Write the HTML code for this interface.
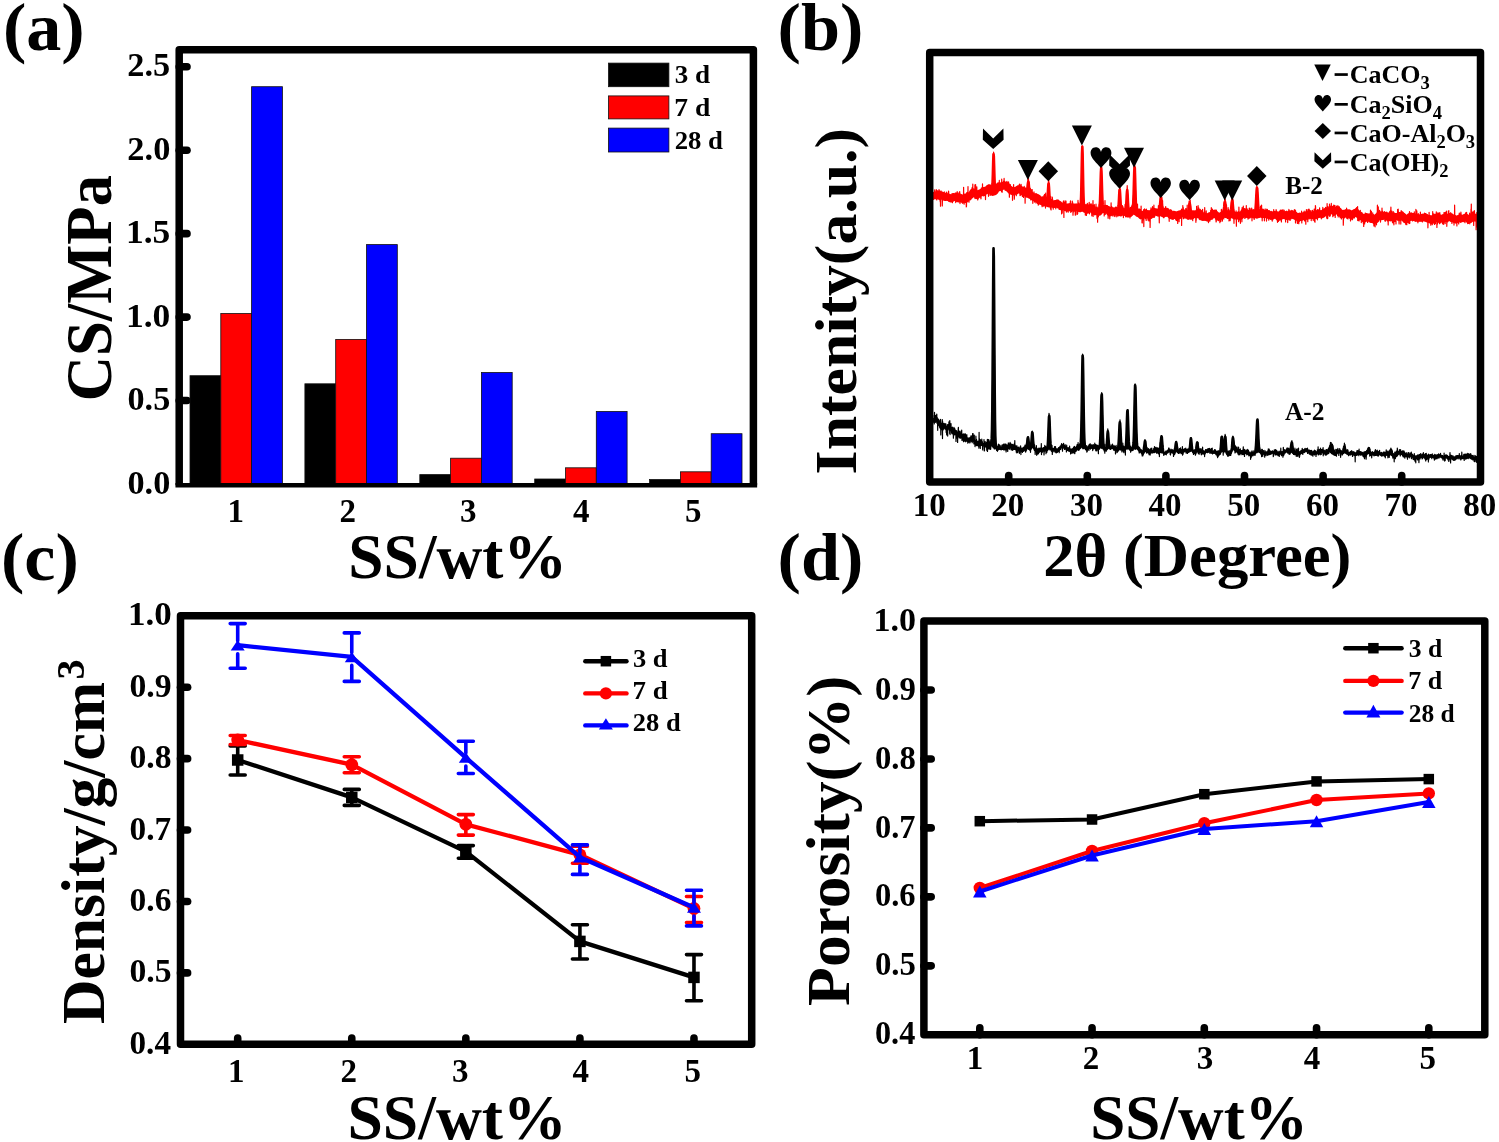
<!DOCTYPE html>
<html><head><meta charset="utf-8"><style>
html,body{margin:0;padding:0;background:#fff;}
svg{display:block;will-change:transform;}
text{font-family:'Liberation Serif', serif;font-weight:bold;}
</style></head><body>
<svg width="1499" height="1142" viewBox="0 0 1499 1142">
<rect width="1499" height="1142" fill="#fff"/>
<text x="2.92" y="49.60" font-size="67" textLength="81.76" lengthAdjust="spacingAndGlyphs" fill="#000">(a)</text>
<path d="M179.2,400.55 H187" stroke="#000" stroke-width="7.6" stroke-linecap="round"/>
<path d="M179.2,317.10 H187" stroke="#000" stroke-width="7.6" stroke-linecap="round"/>
<path d="M179.2,233.65 H187" stroke="#000" stroke-width="7.6" stroke-linecap="round"/>
<path d="M179.2,150.20 H187" stroke="#000" stroke-width="7.6" stroke-linecap="round"/>
<path d="M179.2,66.75 H187" stroke="#000" stroke-width="7.6" stroke-linecap="round"/>
<text x="127.50" y="493.60" font-size="33" textLength="42.81" lengthAdjust="spacingAndGlyphs" fill="#000">0.0</text>
<text x="127.50" y="410.15" font-size="33" textLength="42.76" lengthAdjust="spacingAndGlyphs" fill="#000">0.5</text>
<text x="125.96" y="326.70" font-size="33" textLength="44.40" lengthAdjust="spacingAndGlyphs" fill="#000">1.0</text>
<text x="125.96" y="243.25" font-size="33" textLength="44.34" lengthAdjust="spacingAndGlyphs" fill="#000">1.5</text>
<text x="127.36" y="159.80" font-size="33" textLength="42.95" lengthAdjust="spacingAndGlyphs" fill="#000">2.0</text>
<text x="127.36" y="76.35" font-size="33" textLength="42.90" lengthAdjust="spacingAndGlyphs" fill="#000">2.5</text>
<rect x="190.00" y="375.7" width="30.8" height="107.70" fill="#000" stroke="#111" stroke-width="0.8"/>
<rect x="220.80" y="313.5" width="30.8" height="169.90" fill="#f00" stroke="#111" stroke-width="0.8"/>
<rect x="251.60" y="86.7" width="30.8" height="396.70" fill="#00f" stroke="#111" stroke-width="0.8"/>
<rect x="304.90" y="383.8" width="30.8" height="99.60" fill="#000" stroke="#111" stroke-width="0.8"/>
<rect x="335.70" y="339.4" width="30.8" height="144.00" fill="#f00" stroke="#111" stroke-width="0.8"/>
<rect x="366.50" y="244.6" width="30.8" height="238.80" fill="#00f" stroke="#111" stroke-width="0.8"/>
<rect x="419.80" y="474.6" width="30.8" height="8.80" fill="#000" stroke="#111" stroke-width="0.8"/>
<rect x="450.60" y="458.2" width="30.8" height="25.20" fill="#f00" stroke="#111" stroke-width="0.8"/>
<rect x="481.40" y="372.5" width="30.8" height="110.90" fill="#00f" stroke="#111" stroke-width="0.8"/>
<rect x="534.70" y="479" width="30.8" height="4.40" fill="#000" stroke="#111" stroke-width="0.8"/>
<rect x="565.50" y="467.8" width="30.8" height="15.60" fill="#f00" stroke="#111" stroke-width="0.8"/>
<rect x="596.30" y="411.5" width="30.8" height="71.90" fill="#00f" stroke="#111" stroke-width="0.8"/>
<rect x="649.60" y="479.5" width="30.8" height="3.90" fill="#000" stroke="#111" stroke-width="0.8"/>
<rect x="680.40" y="471.8" width="30.8" height="11.60" fill="#f00" stroke="#111" stroke-width="0.8"/>
<rect x="711.20" y="433.7" width="30.8" height="49.70" fill="#00f" stroke="#111" stroke-width="0.8"/>
<path d="M179.2,485.2 V49.8 H753.4 V485.2" fill="none" stroke="#000" stroke-width="7.5" stroke-linejoin="round"/>
<path d="M175.45,485.2 H757.15" fill="none" stroke="#000" stroke-width="4.6" stroke-linejoin="round"/>
<text x="227.48" y="522.00" font-size="33" fill="#000">1</text>
<text x="339.57" y="522.00" font-size="33" fill="#000">2</text>
<text x="459.89" y="522.00" font-size="33" fill="#000">3</text>
<text x="573.03" y="522.00" font-size="33" fill="#000">4</text>
<text x="685.09" y="522.00" font-size="33" fill="#000">5</text>
<text x="348.32" y="577.60" font-size="63" textLength="218.63" lengthAdjust="spacingAndGlyphs" fill="#000">SS/wt%</text>
<text transform="translate(111.00,398.20) rotate(-90)" x="-3.06" y="0" font-size="66" textLength="226.21" lengthAdjust="spacingAndGlyphs">CS/MPa</text>
<rect x="608.5" y="63.1" width="60.4" height="23.6" fill="#000" stroke="#111" stroke-width="0.8"/>
<text x="674.78" y="83.00" font-size="24.6" textLength="35.42" lengthAdjust="spacingAndGlyphs" fill="#000">3 d</text>
<rect x="608.5" y="95.9" width="60.4" height="23.0" fill="#f00" stroke="#111" stroke-width="0.8"/>
<text x="674.23" y="116.10" font-size="24.6" textLength="35.98" lengthAdjust="spacingAndGlyphs" fill="#000">7 d</text>
<rect x="608.5" y="128.1" width="60.4" height="23.9" fill="#00f" stroke="#111" stroke-width="0.8"/>
<text x="674.68" y="148.80" font-size="24.6" textLength="48.32" lengthAdjust="spacingAndGlyphs" fill="#000">28 d</text>
<text x="777.52" y="49.60" font-size="67" textLength="85.77" lengthAdjust="spacingAndGlyphs" fill="#000">(b)</text>
<path d="M1008.70,481.9 V475.6" stroke="#000" stroke-width="7.6" stroke-linecap="round"/>
<path d="M1087.30,481.9 V475.6" stroke="#000" stroke-width="7.6" stroke-linecap="round"/>
<path d="M1165.90,481.9 V475.6" stroke="#000" stroke-width="7.6" stroke-linecap="round"/>
<path d="M1244.50,481.9 V475.6" stroke="#000" stroke-width="7.6" stroke-linecap="round"/>
<path d="M1323.10,481.9 V475.6" stroke="#000" stroke-width="7.6" stroke-linecap="round"/>
<path d="M1401.70,481.9 V475.6" stroke="#000" stroke-width="7.6" stroke-linecap="round"/>
<text x="912.71" y="516.00" font-size="33" fill="#000">10</text>
<text x="991.34" y="516.00" font-size="33" fill="#000">20</text>
<text x="1069.91" y="516.00" font-size="33" fill="#000">30</text>
<text x="1148.60" y="516.00" font-size="33" fill="#000">40</text>
<text x="1227.27" y="516.00" font-size="33" fill="#000">50</text>
<text x="1306.06" y="516.00" font-size="33" fill="#000">60</text>
<text x="1384.59" y="516.00" font-size="33" fill="#000">70</text>
<text x="1463.28" y="516.00" font-size="33" fill="#000">80</text>
<text x="1043.28" y="576.20" font-size="61" textLength="308.17" lengthAdjust="spacingAndGlyphs" fill="#000">2θ (Degree)</text>
<text transform="translate(856.40,472.30) rotate(-90)" x="-2.08" y="0" font-size="60" textLength="346.39" lengthAdjust="spacingAndGlyphs">Intenity(a.u.)</text>
<path d="M989.9,445.4 L990.0,445.3 L990.2,445.2 L990.3,445.4 L990.5,445.0 L990.6,445.2 L990.8,444.8 L990.9,444.1 L991.1,443.6 L991.2,443.5 L991.4,442.5 L991.5,441.6 L991.7,438.9 L991.8,434.9 L992.0,429.6 L992.1,421.5 L992.3,409.7 L992.4,394.4 L992.6,375.5 L992.7,353.3 L992.9,329.0 L993.0,303.6 L993.2,279.6 L993.3,260.3 L993.5,248.4 L993.6,247.1 L993.8,256.4 L993.9,273.6 L994.1,296.5 L994.2,321.8 L994.4,347.2 L994.5,370.5 L994.7,390.7 L994.8,406.8 L995.0,419.9 L995.1,429.5 L995.3,435.6 L995.4,439.8 L995.6,442.5 L995.7,444.6 L995.9,446.0 L996.0,446.4 L996.2,446.6 L996.3,447.0 L996.5,446.9 L996.6,447.4 L996.8,447.6 L996.9,447.4 L997.1,447.4 L997.2,447.7 L997.4,447.6 L997.4,448.6 L997.2,448.8 L997.1,448.6 L996.9,448.6 L996.8,449.0 L996.6,448.9 L996.5,448.6 L996.3,448.9 L996.2,448.9 L996.0,449.1 L995.9,449.4 L995.7,449.0 L995.6,448.7 L995.4,448.9 L995.3,449.0 L995.1,449.5 L995.0,449.2 L994.8,448.9 L994.7,449.4 L994.5,449.6 L994.4,449.7 L994.2,449.7 L994.1,449.7 L993.9,449.5 L993.8,449.3 L993.6,448.6 L993.5,448.1 L993.3,448.4 L993.2,448.4 L993.0,448.5 L992.9,448.4 L992.7,447.7 L992.6,447.4 L992.4,447.2 L992.3,447.2 L992.1,447.4 L992.0,447.0 L991.8,446.6 L991.7,446.8 L991.5,447.1 L991.4,446.6 L991.2,446.6 L991.1,446.1 L990.9,446.3 L990.8,446.6 L990.6,446.9 L990.5,446.5 L990.3,446.7 L990.2,446.4 L990.0,446.4 L989.9,446.5Z M1026.5,447.3 L1026.6,446.8 L1026.8,445.9 L1026.9,445.0 L1027.1,443.8 L1027.2,442.3 L1027.4,440.8 L1027.5,439.6 L1027.7,438.6 L1027.8,437.7 L1028.0,437.3 L1028.1,437.9 L1028.3,438.7 L1028.4,439.8 L1028.6,441.5 L1028.7,442.8 L1028.9,444.3 L1029.0,445.6 L1029.2,447.3 L1029.3,448.1 L1029.5,448.6 L1029.6,449.0 L1029.6,450.1 L1029.5,450.1 L1029.3,450.2 L1029.2,450.3 L1029.0,449.7 L1028.9,449.7 L1028.7,449.6 L1028.6,449.9 L1028.4,449.7 L1028.3,449.8 L1028.1,449.9 L1028.0,449.6 L1027.8,449.7 L1027.7,449.7 L1027.5,449.4 L1027.4,449.1 L1027.2,449.1 L1027.1,449.1 L1026.9,449.0 L1026.8,448.9 L1026.6,448.8 L1026.5,448.7Z M1030.7,448.1 L1030.8,447.2 L1031.0,446.4 L1031.1,445.1 L1031.3,444.0 L1031.4,442.1 L1031.6,439.8 L1031.7,437.7 L1031.9,435.3 L1032.0,433.4 L1032.2,432.4 L1032.3,432.7 L1032.5,432.9 L1032.6,434.1 L1032.8,436.2 L1032.9,438.4 L1033.1,440.5 L1033.2,442.2 L1033.4,443.7 L1033.5,445.1 L1033.7,446.5 L1033.8,447.1 L1033.8,448.3 L1033.7,448.3 L1033.5,447.9 L1033.4,447.7 L1033.2,447.8 L1033.1,448.0 L1032.9,448.0 L1032.8,448.0 L1032.6,448.0 L1032.5,448.4 L1032.3,449.0 L1032.2,448.5 L1032.0,448.5 L1031.9,448.6 L1031.7,448.9 L1031.6,448.7 L1031.4,449.0 L1031.3,449.1 L1031.1,448.7 L1031.0,448.9 L1030.8,448.9 L1030.7,449.3Z M1047.2,448.3 L1047.4,448.0 L1047.5,447.7 L1047.7,446.6 L1047.8,444.8 L1048.0,442.7 L1048.1,439.7 L1048.3,436.5 L1048.4,432.5 L1048.6,428.0 L1048.7,423.7 L1048.9,419.7 L1049.0,416.9 L1049.2,415.1 L1049.3,415.9 L1049.5,418.5 L1049.6,421.9 L1049.8,425.7 L1049.9,430.4 L1050.1,434.2 L1050.2,438.1 L1050.4,441.3 L1050.5,443.9 L1050.7,446.0 L1050.8,447.4 L1051.0,447.9 L1051.1,448.4 L1051.1,449.7 L1051.0,450.0 L1050.8,450.4 L1050.7,450.4 L1050.5,450.3 L1050.4,450.3 L1050.2,450.4 L1050.1,450.3 L1049.9,450.7 L1049.8,450.3 L1049.6,450.6 L1049.5,450.5 L1049.3,450.0 L1049.2,449.4 L1049.0,449.7 L1048.9,449.7 L1048.7,449.8 L1048.6,449.8 L1048.4,450.0 L1048.3,450.0 L1048.1,449.7 L1048.0,449.9 L1047.8,449.9 L1047.7,450.0 L1047.5,450.0 L1047.4,449.5 L1047.2,449.4Z M1079.9,447.5 L1080.1,447.0 L1080.2,446.3 L1080.4,446.0 L1080.5,445.3 L1080.7,444.2 L1080.8,442.4 L1081.0,440.2 L1081.1,436.8 L1081.3,432.3 L1081.4,426.4 L1081.6,419.2 L1081.7,409.9 L1081.9,399.8 L1082.0,388.5 L1082.2,377.5 L1082.3,367.9 L1082.5,360.1 L1082.6,355.7 L1082.8,354.7 L1082.9,358.2 L1083.1,365.4 L1083.2,375.1 L1083.4,386.0 L1083.5,396.8 L1083.7,407.5 L1083.8,416.8 L1084.0,425.0 L1084.1,431.5 L1084.3,437.0 L1084.4,440.6 L1084.6,442.9 L1084.7,444.3 L1084.9,445.3 L1085.0,446.8 L1085.2,447.4 L1085.3,447.7 L1085.5,447.9 L1085.5,449.1 L1085.3,449.0 L1085.2,449.0 L1085.0,448.9 L1084.9,448.2 L1084.7,448.4 L1084.6,448.8 L1084.4,449.1 L1084.3,449.2 L1084.1,448.8 L1084.0,448.9 L1083.8,448.9 L1083.7,449.1 L1083.5,449.1 L1083.4,449.5 L1083.2,449.5 L1083.1,449.4 L1082.9,449.3 L1082.8,449.3 L1082.6,449.6 L1082.5,449.2 L1082.3,448.9 L1082.2,448.4 L1082.0,448.2 L1081.9,448.5 L1081.7,448.2 L1081.6,448.3 L1081.4,447.9 L1081.3,447.8 L1081.1,447.6 L1081.0,447.7 L1080.8,447.6 L1080.7,447.8 L1080.5,447.9 L1080.4,447.9 L1080.2,447.8 L1080.1,448.3 L1079.9,448.5Z M1099.4,446.8 L1099.6,446.5 L1099.7,446.3 L1099.9,445.3 L1100.0,443.6 L1100.2,441.2 L1100.3,438.2 L1100.5,434.6 L1100.6,429.9 L1100.8,424.5 L1100.9,418.8 L1101.1,412.2 L1101.2,405.9 L1101.4,400.2 L1101.5,396.3 L1101.7,393.8 L1101.8,394.4 L1102.0,397.3 L1102.1,401.7 L1102.3,408.0 L1102.4,414.7 L1102.6,421.4 L1102.7,427.3 L1102.9,432.7 L1103.0,437.0 L1103.2,440.1 L1103.3,442.8 L1103.5,444.9 L1103.6,446.3 L1103.8,447.2 L1103.9,448.0 L1104.1,448.7 L1104.1,450.0 L1103.9,449.6 L1103.8,449.4 L1103.6,449.4 L1103.5,449.3 L1103.3,449.2 L1103.2,449.1 L1103.0,449.5 L1102.9,449.6 L1102.7,449.5 L1102.6,449.6 L1102.4,449.3 L1102.3,449.0 L1102.1,448.6 L1102.0,448.9 L1101.8,448.7 L1101.7,448.5 L1101.5,449.0 L1101.4,448.8 L1101.2,449.0 L1101.1,448.9 L1100.9,449.1 L1100.8,448.6 L1100.6,448.5 L1100.5,448.4 L1100.3,448.2 L1100.2,448.3 L1100.0,448.6 L1099.9,448.7 L1099.7,448.7 L1099.6,448.2 L1099.4,448.1Z M1106.2,449.0 L1106.3,448.8 L1106.5,447.8 L1106.6,446.9 L1106.8,445.3 L1106.9,443.3 L1107.1,441.0 L1107.2,438.7 L1107.4,436.4 L1107.5,433.8 L1107.7,432.4 L1107.8,431.4 L1108.0,431.7 L1108.1,433.2 L1108.3,435.2 L1108.4,437.8 L1108.6,439.8 L1108.7,441.7 L1108.9,443.4 L1109.0,444.8 L1109.2,446.6 L1109.3,447.1 L1109.5,447.5 L1109.5,448.6 L1109.3,448.7 L1109.2,449.0 L1109.0,448.3 L1108.9,448.4 L1108.7,448.6 L1108.6,448.9 L1108.4,449.3 L1108.3,449.1 L1108.1,449.2 L1108.0,449.2 L1107.8,449.5 L1107.7,450.0 L1107.5,449.9 L1107.4,450.4 L1107.2,450.2 L1107.1,450.2 L1106.9,450.2 L1106.8,450.4 L1106.6,450.5 L1106.5,450.3 L1106.3,450.6 L1106.2,450.3Z M1117.9,449.7 L1118.0,449.5 L1118.2,449.0 L1118.3,447.2 L1118.5,445.6 L1118.6,444.1 L1118.8,441.3 L1118.9,438.5 L1119.1,435.5 L1119.2,432.3 L1119.4,428.8 L1119.5,425.8 L1119.7,423.4 L1119.8,422.3 L1120.0,422.3 L1120.1,423.2 L1120.3,425.4 L1120.4,428.1 L1120.6,431.5 L1120.7,434.7 L1120.9,437.7 L1121.0,440.5 L1121.2,443.2 L1121.3,445.2 L1121.5,446.6 L1121.6,447.6 L1121.8,447.9 L1121.9,448.5 L1122.1,449.1 L1122.1,450.1 L1121.9,449.9 L1121.8,449.8 L1121.6,450.2 L1121.5,450.4 L1121.3,450.5 L1121.2,450.5 L1121.0,450.2 L1120.9,450.3 L1120.7,450.6 L1120.6,450.7 L1120.4,450.6 L1120.3,450.7 L1120.1,450.6 L1120.0,450.8 L1119.8,450.6 L1119.7,450.3 L1119.5,450.3 L1119.4,450.2 L1119.2,450.3 L1119.1,450.2 L1118.9,450.1 L1118.8,450.2 L1118.6,450.6 L1118.5,450.3 L1118.3,450.6 L1118.2,451.3 L1118.0,451.1 L1117.9,450.8Z M1125.4,448.2 L1125.5,448.0 L1125.7,447.9 L1125.8,447.2 L1126.0,446.2 L1126.1,443.8 L1126.3,440.9 L1126.4,437.9 L1126.6,433.7 L1126.7,429.4 L1126.9,424.2 L1127.0,418.8 L1127.2,414.2 L1127.3,411.1 L1127.5,409.8 L1127.6,410.3 L1127.8,413.1 L1127.9,416.7 L1128.1,421.1 L1128.2,425.9 L1128.4,430.7 L1128.5,434.7 L1128.7,438.7 L1128.8,441.4 L1129.0,443.6 L1129.1,445.6 L1129.3,447.0 L1129.4,448.0 L1129.6,448.4 L1129.7,448.9 L1129.7,449.9 L1129.6,449.7 L1129.4,449.8 L1129.3,449.5 L1129.1,449.3 L1129.0,448.9 L1128.8,448.9 L1128.7,449.3 L1128.5,449.1 L1128.4,449.5 L1128.2,449.6 L1128.1,449.8 L1127.9,450.1 L1127.8,450.4 L1127.6,449.8 L1127.5,449.7 L1127.3,449.3 L1127.2,449.1 L1127.0,449.2 L1126.9,449.6 L1126.7,449.7 L1126.6,449.4 L1126.4,449.6 L1126.3,449.4 L1126.1,449.7 L1126.0,450.2 L1125.8,450.0 L1125.7,449.8 L1125.5,449.4 L1125.4,449.3Z M1132.7,448.0 L1132.9,447.6 L1133.0,447.3 L1133.2,446.5 L1133.3,445.5 L1133.5,444.4 L1133.6,442.2 L1133.8,439.0 L1133.9,435.0 L1134.1,429.8 L1134.2,423.5 L1134.4,416.5 L1134.5,408.8 L1134.7,401.0 L1134.8,394.0 L1135.0,388.4 L1135.1,385.3 L1135.3,385.3 L1135.4,387.5 L1135.6,392.6 L1135.7,399.1 L1135.9,406.5 L1136.0,414.2 L1136.2,421.3 L1136.3,427.5 L1136.5,432.8 L1136.6,437.1 L1136.8,440.7 L1136.9,443.2 L1137.1,445.0 L1137.2,446.3 L1137.4,446.9 L1137.5,447.9 L1137.7,448.4 L1137.7,449.6 L1137.5,449.4 L1137.4,448.9 L1137.2,449.1 L1137.1,449.1 L1136.9,449.1 L1136.8,449.1 L1136.6,448.9 L1136.5,449.2 L1136.3,449.4 L1136.2,449.8 L1136.0,450.0 L1135.9,450.0 L1135.7,450.0 L1135.6,450.0 L1135.4,449.8 L1135.3,450.0 L1135.1,449.5 L1135.0,449.3 L1134.8,449.4 L1134.7,449.5 L1134.5,449.6 L1134.4,449.8 L1134.2,449.7 L1134.1,449.8 L1133.9,449.8 L1133.8,449.7 L1133.6,449.7 L1133.5,449.6 L1133.3,449.2 L1133.2,449.0 L1133.0,449.2 L1132.9,449.0 L1132.7,449.2Z M1143.5,452.1 L1143.7,452.0 L1143.8,450.6 L1144.0,449.3 L1144.1,448.0 L1144.3,446.7 L1144.4,445.3 L1144.6,443.7 L1144.7,442.6 L1144.9,441.3 L1145.0,440.9 L1145.2,440.8 L1145.3,441.6 L1145.5,442.9 L1145.6,444.7 L1145.8,446.0 L1145.9,447.3 L1146.1,448.9 L1146.2,449.7 L1146.4,450.7 L1146.5,451.0 L1146.5,452.1 L1146.4,452.2 L1146.2,452.0 L1146.1,452.2 L1145.9,451.8 L1145.8,452.0 L1145.6,452.3 L1145.5,452.0 L1145.3,452.1 L1145.2,452.3 L1145.0,452.8 L1144.9,452.8 L1144.7,453.1 L1144.6,452.8 L1144.4,452.9 L1144.3,452.7 L1144.1,452.5 L1144.0,452.6 L1143.8,453.0 L1143.7,453.6 L1143.5,453.2Z M1159.7,451.6 L1159.9,451.4 L1160.0,450.6 L1160.2,449.4 L1160.3,448.2 L1160.5,446.5 L1160.6,444.6 L1160.8,442.6 L1160.9,441.0 L1161.1,439.6 L1161.2,438.1 L1161.4,436.7 L1161.5,436.3 L1161.7,436.2 L1161.8,437.2 L1162.0,438.9 L1162.1,440.8 L1162.3,442.6 L1162.4,444.5 L1162.6,446.4 L1162.7,447.9 L1162.9,449.6 L1163.0,450.4 L1163.2,451.3 L1163.3,452.2 L1163.3,453.4 L1163.2,453.0 L1163.0,452.9 L1162.9,453.1 L1162.7,452.8 L1162.6,452.8 L1162.4,452.7 L1162.3,452.8 L1162.1,453.0 L1162.0,453.1 L1161.8,453.0 L1161.7,453.1 L1161.5,453.5 L1161.4,453.5 L1161.2,453.9 L1161.1,453.7 L1160.9,453.3 L1160.8,452.8 L1160.6,452.8 L1160.5,452.9 L1160.3,453.0 L1160.2,452.9 L1160.0,453.2 L1159.9,453.2 L1159.7,452.8Z M1174.9,451.4 L1175.0,450.6 L1175.2,449.7 L1175.3,448.3 L1175.5,446.9 L1175.6,445.3 L1175.8,444.1 L1175.9,443.1 L1176.1,442.1 L1176.2,442.2 L1176.4,442.6 L1176.5,443.5 L1176.7,444.7 L1176.8,445.8 L1177.0,447.1 L1177.1,448.5 L1177.3,449.4 L1177.4,450.3 L1177.6,450.6 L1177.6,451.8 L1177.4,452.1 L1177.3,452.0 L1177.1,452.2 L1177.0,451.9 L1176.8,451.9 L1176.7,452.0 L1176.5,452.0 L1176.4,451.9 L1176.2,451.7 L1176.1,451.4 L1175.9,451.6 L1175.8,451.5 L1175.6,451.4 L1175.5,451.7 L1175.3,451.9 L1175.2,452.3 L1175.0,452.5 L1174.9,452.6Z M1189.4,450.4 L1189.6,449.8 L1189.7,449.2 L1189.9,448.1 L1190.0,446.6 L1190.2,445.2 L1190.3,443.7 L1190.5,441.6 L1190.6,440.0 L1190.8,439.1 L1190.9,438.2 L1191.1,438.8 L1191.2,439.8 L1191.4,441.3 L1191.5,443.0 L1191.7,444.7 L1191.8,446.5 L1192.0,447.9 L1192.1,449.2 L1192.3,449.8 L1192.4,450.3 L1192.4,451.5 L1192.3,451.6 L1192.1,451.8 L1192.0,451.5 L1191.8,451.6 L1191.7,451.4 L1191.5,451.5 L1191.4,451.6 L1191.2,451.7 L1191.1,451.7 L1190.9,451.6 L1190.8,452.0 L1190.6,451.9 L1190.5,451.9 L1190.3,452.2 L1190.2,451.9 L1190.0,451.7 L1189.9,451.7 L1189.7,451.7 L1189.6,451.5 L1189.4,451.5Z M1195.9,451.1 L1196.0,450.5 L1196.2,449.8 L1196.3,448.7 L1196.5,447.5 L1196.6,446.3 L1196.8,444.8 L1196.9,443.8 L1197.1,442.7 L1197.2,442.5 L1197.4,443.0 L1197.5,443.9 L1197.7,445.0 L1197.8,446.1 L1198.0,447.2 L1198.1,448.2 L1198.3,448.9 L1198.4,450.1 L1198.6,450.8 L1198.6,452.1 L1198.4,452.0 L1198.3,451.7 L1198.1,452.0 L1198.0,452.2 L1197.8,452.5 L1197.7,452.7 L1197.5,452.8 L1197.4,452.7 L1197.2,452.5 L1197.1,452.3 L1196.9,452.7 L1196.8,452.5 L1196.6,452.7 L1196.5,452.5 L1196.3,452.5 L1196.2,452.6 L1196.0,452.4 L1195.9,452.4Z M1220.2,452.1 L1220.3,451.5 L1220.5,450.9 L1220.6,449.9 L1220.8,448.1 L1220.9,446.4 L1221.1,443.7 L1221.2,442.0 L1221.4,439.7 L1221.5,437.6 L1221.7,436.8 L1221.8,436.8 L1222.0,437.4 L1222.1,438.9 L1222.3,441.1 L1222.4,443.4 L1222.6,445.4 L1222.7,447.1 L1222.9,448.6 L1223.0,449.8 L1223.2,450.7 L1223.3,450.8 L1223.5,450.7 L1223.6,450.6 L1223.8,450.5 L1223.9,449.7 L1224.1,448.7 L1224.2,447.2 L1224.4,445.3 L1224.5,443.5 L1224.7,441.4 L1224.8,439.4 L1225.0,437.9 L1225.1,436.9 L1225.3,436.7 L1225.4,437.0 L1225.6,438.6 L1225.7,440.8 L1225.9,443.1 L1226.0,446.0 L1226.2,447.7 L1226.3,449.5 L1226.5,451.4 L1226.6,452.6 L1226.8,452.8 L1226.8,454.0 L1226.6,454.4 L1226.5,454.1 L1226.3,453.4 L1226.2,453.1 L1226.0,453.2 L1225.9,452.4 L1225.7,452.3 L1225.6,452.0 L1225.4,451.9 L1225.3,452.4 L1225.1,452.4 L1225.0,452.4 L1224.8,452.2 L1224.7,452.2 L1224.5,452.1 L1224.4,452.0 L1224.2,452.1 L1224.1,452.2 L1223.9,452.2 L1223.8,452.3 L1223.6,452.0 L1223.5,451.9 L1223.3,452.2 L1223.2,452.5 L1223.0,452.4 L1222.9,452.2 L1222.7,452.1 L1222.6,452.0 L1222.4,452.0 L1222.3,451.9 L1222.1,451.7 L1222.0,451.8 L1221.8,452.3 L1221.7,452.4 L1221.5,452.4 L1221.4,453.1 L1221.2,453.4 L1221.1,453.0 L1220.9,453.6 L1220.8,453.5 L1220.6,453.7 L1220.5,453.5 L1220.3,453.3 L1220.2,453.3Z M1231.4,451.0 L1231.6,450.4 L1231.7,449.9 L1231.9,449.0 L1232.0,447.4 L1232.2,445.6 L1232.3,443.2 L1232.5,441.5 L1232.6,439.5 L1232.8,438.2 L1232.9,437.6 L1233.1,437.8 L1233.2,438.8 L1233.4,440.1 L1233.5,441.5 L1233.7,443.1 L1233.8,444.4 L1234.0,445.9 L1234.1,447.7 L1234.3,448.5 L1234.4,449.4 L1234.4,450.5 L1234.3,450.2 L1234.1,450.1 L1234.0,449.3 L1233.8,449.2 L1233.7,449.4 L1233.5,449.6 L1233.4,449.9 L1233.2,450.1 L1233.1,450.1 L1232.9,450.3 L1232.8,450.5 L1232.6,450.8 L1232.5,451.3 L1232.3,451.3 L1232.2,452.0 L1232.0,452.3 L1231.9,452.5 L1231.7,452.4 L1231.6,452.0 L1231.4,452.1Z M1255.1,452.5 L1255.3,452.0 L1255.4,451.7 L1255.6,450.7 L1255.7,449.0 L1255.9,448.0 L1256.0,445.7 L1256.2,442.9 L1256.3,440.4 L1256.5,437.2 L1256.6,433.5 L1256.8,429.6 L1256.9,426.3 L1257.1,422.8 L1257.2,420.7 L1257.4,419.6 L1257.5,419.6 L1257.7,420.9 L1257.8,423.2 L1258.0,426.9 L1258.1,430.1 L1258.3,434.3 L1258.4,438.1 L1258.6,440.9 L1258.7,443.4 L1258.9,445.4 L1259.0,447.3 L1259.2,448.5 L1259.3,448.9 L1259.5,449.7 L1259.6,450.0 L1259.6,451.3 L1259.5,451.4 L1259.3,451.4 L1259.2,452.0 L1259.0,452.2 L1258.9,452.2 L1258.7,452.5 L1258.6,452.8 L1258.4,453.2 L1258.3,453.0 L1258.1,452.6 L1258.0,453.0 L1257.8,452.6 L1257.7,452.8 L1257.5,453.1 L1257.4,453.3 L1257.2,453.3 L1257.1,453.2 L1256.9,453.5 L1256.8,453.3 L1256.6,453.4 L1256.5,453.5 L1256.3,453.3 L1256.2,452.9 L1256.0,453.2 L1255.9,453.5 L1255.7,452.9 L1255.6,453.5 L1255.4,453.6 L1255.3,453.4 L1255.1,453.6Z M1290.2,451.3 L1290.4,451.0 L1290.5,450.3 L1290.7,449.5 L1290.8,448.5 L1291.0,447.5 L1291.1,446.1 L1291.3,445.3 L1291.4,444.3 L1291.6,443.3 L1291.7,442.9 L1291.9,442.3 L1292.0,442.8 L1292.2,444.0 L1292.3,445.3 L1292.5,446.5 L1292.6,448.0 L1292.8,449.5 L1292.9,450.5 L1293.1,451.2 L1293.2,451.9 L1293.4,452.3 L1293.4,453.6 L1293.2,453.8 L1293.1,453.8 L1292.9,454.0 L1292.8,454.1 L1292.6,453.8 L1292.5,453.5 L1292.3,453.5 L1292.2,453.2 L1292.0,452.8 L1291.9,452.7 L1291.7,453.2 L1291.6,453.2 L1291.4,453.2 L1291.3,453.1 L1291.1,452.7 L1291.0,452.9 L1290.8,452.7 L1290.7,452.8 L1290.5,452.7 L1290.4,452.7 L1290.2,452.5Z M1328.3,450.5 L1328.5,450.8 L1328.6,450.8 L1328.8,450.6 L1328.9,450.4 L1329.1,450.0 L1329.2,449.6 L1329.4,449.0 L1329.5,448.4 L1329.7,448.1 L1329.8,447.6 L1330.0,447.1 L1330.1,447.1 L1330.3,446.6 L1330.4,445.9 L1330.6,445.5 L1330.7,445.6 L1330.9,445.4 L1331.0,445.1 L1331.2,444.9 L1331.3,445.0 L1331.5,445.0 L1331.6,445.0 L1331.8,445.1 L1331.9,445.4 L1332.1,445.7 L1332.2,445.8 L1332.4,446.5 L1332.5,447.5 L1332.7,448.0 L1332.8,448.8 L1333.0,449.3 L1333.1,449.7 L1333.3,450.3 L1333.4,450.4 L1333.6,451.0 L1333.7,451.3 L1333.9,451.8 L1334.0,452.4 L1334.2,452.5 L1334.3,452.9 L1334.5,453.4 L1334.6,453.1 L1334.8,453.4 L1334.8,454.4 L1334.6,454.3 L1334.5,454.9 L1334.3,454.6 L1334.2,454.5 L1334.0,454.8 L1333.9,454.6 L1333.7,454.4 L1333.6,454.6 L1333.4,454.5 L1333.3,454.9 L1333.1,454.8 L1333.0,454.9 L1332.8,455.0 L1332.7,454.8 L1332.5,454.8 L1332.4,454.3 L1332.2,454.1 L1332.1,454.3 L1331.9,454.3 L1331.8,454.3 L1331.6,454.3 L1331.5,454.3 L1331.3,454.2 L1331.2,453.9 L1331.0,453.8 L1330.9,453.7 L1330.7,453.5 L1330.6,453.0 L1330.4,452.9 L1330.3,453.0 L1330.1,452.9 L1330.0,452.4 L1329.8,452.4 L1329.7,452.4 L1329.5,452.2 L1329.4,452.3 L1329.2,452.5 L1329.1,452.4 L1328.9,452.5 L1328.8,452.4 L1328.6,452.3 L1328.5,452.1 L1328.3,451.5Z M1342.9,452.6 L1343.0,452.3 L1343.2,451.8 L1343.3,451.0 L1343.5,450.1 L1343.6,449.2 L1343.8,448.9 L1343.9,448.1 L1344.1,447.3 L1344.2,446.7 L1344.4,446.4 L1344.5,446.6 L1344.7,447.0 L1344.8,447.8 L1345.0,448.2 L1345.1,449.4 L1345.3,449.8 L1345.4,450.3 L1345.6,451.3 L1345.7,451.9 L1345.7,453.2 L1345.6,453.2 L1345.4,452.8 L1345.3,453.0 L1345.1,453.3 L1345.0,453.0 L1344.8,453.4 L1344.7,453.3 L1344.5,453.5 L1344.4,453.5 L1344.2,453.7 L1344.1,454.0 L1343.9,454.2 L1343.8,454.2 L1343.6,453.7 L1343.5,453.8 L1343.3,453.9 L1343.2,454.0 L1343.0,453.9 L1342.9,453.8Z M1367.5,452.7 L1367.6,451.9 L1367.8,451.3 L1367.9,450.8 L1368.1,450.2 L1368.2,449.8 L1368.4,449.2 L1368.5,448.6 L1368.7,448.0 L1368.8,448.1 L1369.0,448.2 L1369.1,448.8 L1369.3,448.9 L1369.4,449.4 L1369.6,450.4 L1369.7,451.1 L1369.9,451.8 L1370.0,452.3 L1370.2,452.4 L1370.2,453.7 L1370.0,454.0 L1369.9,454.1 L1369.7,454.1 L1369.6,454.0 L1369.4,453.8 L1369.3,454.0 L1369.1,454.5 L1369.0,454.3 L1368.8,454.3 L1368.7,454.0 L1368.5,454.3 L1368.4,454.3 L1368.2,454.2 L1368.1,453.9 L1367.9,453.8 L1367.8,453.7 L1367.6,453.6 L1367.5,454.0Z M1389.7,454.0 L1389.8,453.4 L1390.0,453.4 L1390.1,452.6 L1390.3,452.1 L1390.4,451.2 L1390.6,450.5 L1390.7,450.3 L1390.9,449.9 L1391.0,449.8 L1391.2,450.3 L1391.3,450.5 L1391.5,451.5 L1391.6,451.9 L1391.8,452.4 L1391.9,453.0 L1392.1,453.8 L1392.2,454.1 L1392.4,454.6 L1392.4,455.8 L1392.2,455.8 L1392.1,455.9 L1391.9,455.8 L1391.8,455.8 L1391.6,456.0 L1391.5,456.2 L1391.3,455.8 L1391.2,455.9 L1391.0,455.6 L1390.9,455.6 L1390.7,455.5 L1390.6,455.2 L1390.4,455.3 L1390.3,455.6 L1390.1,455.4 L1390.0,455.5 L1389.8,455.0 L1389.7,455.2Z " fill="#000"/>
<path d="M933.5,419.6 L933.8,419.4 L934.1,419.7 L934.4,420.0 L934.7,420.1 L935.0,420.0 L935.3,419.7 L935.6,419.8 L935.9,420.0 L936.2,420.3 L936.5,420.8 L936.8,420.6 L937.1,421.1 L937.4,421.1 L937.7,421.2 L938.0,421.8 L938.3,422.2 L938.6,422.8 L938.9,423.1 L939.2,423.3 L939.5,423.3 L939.8,423.6 L940.1,423.9 L940.4,424.2 L940.7,424.5 L941.0,424.1 L941.3,424.8 L941.6,425.0 L941.9,425.3 L942.2,425.6 L942.5,426.0 L942.8,426.2 L943.1,426.9 L943.4,426.7 L943.7,426.8 L944.0,426.1 L944.3,426.4 L944.6,426.0 L944.9,426.3 L945.2,426.8 L945.5,427.1 L945.8,427.0 L946.1,428.1 L946.4,428.2 L946.7,428.2 L947.0,427.9 L947.3,428.0 L947.6,427.5 L947.9,427.2 L948.2,426.9 L948.5,427.3 L948.8,427.5 L949.1,427.9 L949.4,428.1 L949.7,428.5 L950.0,428.2 L950.3,428.0 L950.6,428.3 L950.9,428.5 L951.2,428.5 L951.5,428.6 L951.8,429.3 L952.1,429.6 L952.4,429.8 L952.7,430.3 L953.0,430.9 L953.3,430.9 L953.6,431.3 L953.9,431.2 L954.2,431.6 L954.5,431.4 L954.8,431.5 L955.1,432.2 L955.4,432.1 L955.7,432.3 L956.0,432.4 L956.3,433.0 L956.6,433.4 L956.9,432.9 L957.2,433.4 L957.5,433.4 L957.8,433.1 L958.1,432.9 L958.4,433.3 L958.7,433.6 L959.0,433.5 L959.3,434.0 L959.6,434.4 L959.9,434.4 L960.2,434.8 L960.5,435.0 L960.8,435.2 L961.1,434.8 L961.4,434.6 L961.7,434.6 L962.0,435.0 L962.3,435.1 L962.6,435.4 L962.9,435.9 L963.2,436.5 L963.5,436.4 L963.8,436.5 L964.1,436.6 L964.4,436.7 L964.7,436.7 L965.0,436.9 L965.3,436.8 L965.6,436.8 L965.9,437.7 L966.2,438.1 L966.5,438.5 L966.8,438.3 L967.1,438.7 L967.4,438.8 L967.7,439.7 L968.0,439.5 L968.3,439.5 L968.6,439.5 L968.9,440.4 L969.2,440.3 L969.5,439.8 L969.8,439.9 L970.1,439.8 L970.4,439.8 L970.7,439.6 L971.0,439.5 L971.3,439.1 L971.6,439.5 L971.9,439.7 L972.2,439.9 L972.5,440.2 L972.8,440.0 L973.1,440.1 L973.4,439.8 L973.7,439.9 L974.0,440.4 L974.3,440.6 L974.6,440.9 L974.9,441.4 L975.2,441.8 L975.5,442.3 L975.8,442.9 L976.1,442.7 L976.4,442.9 L976.7,442.9 L977.0,442.7 L977.3,442.6 L977.6,442.0 L977.9,442.3 L978.2,442.5 L978.5,443.0 L978.8,443.0 L979.1,442.7 L979.4,442.9 L979.7,443.3 L980.0,443.6 L980.3,443.3 L980.6,442.8 L980.9,443.0 L981.2,442.5 L981.5,442.7 L981.8,443.2 L982.1,443.8 L982.4,443.9 L982.7,444.0 L983.0,444.7 L983.3,444.9 L983.6,444.7 L983.9,444.5 L984.2,444.6 L984.5,444.6 L984.8,444.4 L985.1,444.1 L985.4,444.4 L985.7,444.9 L986.0,445.8 L986.3,446.3 L986.6,446.0 L986.9,445.8 L987.2,445.3 L987.5,445.7 L987.8,445.3 L988.1,444.5 L988.4,444.5 L988.7,445.1 L989.0,444.6 L989.3,444.7 L989.6,445.1 L989.9,445.4 L990.2,445.2 L990.5,445.0 L990.8,444.8 L991.1,443.6 L991.4,442.5 L991.7,438.9 L992.0,429.6 L992.3,409.7 L992.6,375.5 L992.9,329.0 L993.2,279.6 L993.5,248.4 L993.8,256.4 L994.1,296.5 L994.4,347.2 L994.7,390.7 L995.0,419.9 L995.3,435.6 L995.6,442.5 L995.9,446.0 L996.2,446.6 L996.5,446.9 L996.8,447.6 L997.1,447.4 L997.4,447.6 L997.7,447.5 L998.0,447.8 L998.3,448.1 L998.6,447.9 L998.9,447.5 L999.2,447.4 L999.5,447.2 L999.8,447.9 L1000.1,448.0 L1000.4,448.2 L1000.7,447.8 L1001.0,447.8 L1001.3,447.8 L1001.6,448.0 L1001.9,448.1 L1002.2,448.1 L1002.5,448.2 L1002.8,448.1 L1003.1,448.4 L1003.4,448.4 L1003.7,448.1 L1004.0,448.3 L1004.3,448.8 L1004.6,448.4 L1004.9,447.9 L1005.2,448.0 L1005.5,448.2 L1005.8,448.2 L1006.1,448.3 L1006.4,448.2 L1006.7,448.1 L1007.0,447.6 L1007.3,447.6 L1007.6,447.5 L1007.9,447.0 L1008.2,447.0 L1008.5,447.1 L1008.8,446.6 L1009.1,446.7 L1009.4,447.3 L1009.7,447.4 L1010.0,446.9 L1010.3,447.0 L1010.6,446.9 L1010.9,446.8 L1011.2,447.1 L1011.5,446.7 L1011.8,446.7 L1012.1,447.7 L1012.4,447.9 L1012.7,448.0 L1013.0,448.3 L1013.3,448.0 L1013.6,448.0 L1013.9,448.1 L1014.2,447.7 L1014.5,447.6 L1014.8,448.0 L1015.1,448.7 L1015.4,448.2 L1015.7,448.5 L1016.0,448.4 L1016.3,448.4 L1016.6,449.1 L1016.9,448.7 L1017.2,448.9 L1017.5,448.9 L1017.8,448.8 L1018.1,448.8 L1018.4,449.1 L1018.7,449.1 L1019.0,449.5 L1019.3,449.5 L1019.6,449.6 L1019.9,449.1 L1020.2,449.5 L1020.5,449.4 L1020.8,449.8 L1021.1,450.1 L1021.4,449.5 L1021.7,449.6 L1022.0,449.6 L1022.3,449.7 L1022.6,449.5 L1022.9,449.5 L1023.2,449.6 L1023.5,449.7 L1023.8,449.4 L1024.1,449.2 L1024.4,448.5 L1024.7,448.5 L1025.0,448.6 L1025.3,448.9 L1025.6,449.1 L1025.9,448.6 L1026.2,448.3 L1026.5,447.3 L1026.8,445.9 L1027.1,443.8 L1027.4,440.8 L1027.7,438.6 L1028.0,437.3 L1028.3,438.7 L1028.6,441.5 L1028.9,444.3 L1029.2,447.3 L1029.5,448.6 L1029.8,449.3 L1030.1,449.3 L1030.4,448.9 L1030.7,448.1 L1031.0,446.4 L1031.3,444.0 L1031.6,439.8 L1031.9,435.3 L1032.2,432.4 L1032.5,432.9 L1032.8,436.2 L1033.1,440.5 L1033.4,443.7 L1033.7,446.5 L1034.0,447.8 L1034.3,448.0 L1034.6,448.4 L1034.9,448.7 L1035.2,448.9 L1035.5,449.4 L1035.8,449.6 L1036.1,450.2 L1036.4,450.2 L1036.7,450.4 L1037.0,450.2 L1037.3,449.8 L1037.6,450.5 L1037.9,450.8 L1038.2,451.0 L1038.5,451.4 L1038.8,451.4 L1039.1,451.4 L1039.4,451.4 L1039.7,450.6 L1040.0,450.7 L1040.3,450.5 L1040.6,450.3 L1040.9,449.5 L1041.2,449.2 L1041.5,449.2 L1041.8,449.9 L1042.1,450.2 L1042.4,449.7 L1042.7,449.6 L1043.0,449.4 L1043.3,448.9 L1043.6,448.7 L1043.9,448.6 L1044.2,449.2 L1044.5,448.9 L1044.8,448.4 L1045.1,448.7 L1045.4,448.8 L1045.7,448.8 L1046.0,449.2 L1046.3,449.2 L1046.6,449.5 L1046.9,449.0 L1047.2,448.3 L1047.5,447.7 L1047.8,444.8 L1048.1,439.7 L1048.4,432.5 L1048.7,423.7 L1049.0,416.9 L1049.3,415.9 L1049.6,421.9 L1049.9,430.4 L1050.2,438.1 L1050.5,443.9 L1050.8,447.4 L1051.1,448.4 L1051.4,449.0 L1051.7,449.6 L1052.0,449.6 L1052.3,450.1 L1052.6,449.9 L1052.9,449.8 L1053.2,449.9 L1053.5,450.1 L1053.8,450.0 L1054.1,450.1 L1054.4,449.7 L1054.7,450.2 L1055.0,450.1 L1055.3,450.3 L1055.6,450.3 L1055.9,450.8 L1056.2,451.0 L1056.5,450.7 L1056.8,450.8 L1057.1,450.5 L1057.4,450.7 L1057.7,449.7 L1058.0,449.7 L1058.3,449.5 L1058.6,449.5 L1058.9,449.1 L1059.2,448.8 L1059.5,448.5 L1059.8,448.2 L1060.1,448.0 L1060.4,447.7 L1060.7,446.7 L1061.0,446.6 L1061.3,446.5 L1061.6,446.8 L1061.9,446.6 L1062.2,446.4 L1062.5,447.0 L1062.8,446.9 L1063.1,446.9 L1063.4,446.6 L1063.7,447.0 L1064.0,446.7 L1064.3,447.3 L1064.6,447.9 L1064.9,447.6 L1065.2,447.4 L1065.5,447.8 L1065.8,448.2 L1066.1,448.7 L1066.4,448.5 L1066.7,448.6 L1067.0,448.6 L1067.3,449.2 L1067.6,449.5 L1067.9,449.3 L1068.2,449.7 L1068.5,449.6 L1068.8,449.9 L1069.1,450.1 L1069.4,450.0 L1069.7,449.8 L1070.0,450.0 L1070.3,450.6 L1070.6,451.1 L1070.9,451.4 L1071.2,450.9 L1071.5,450.9 L1071.8,450.8 L1072.1,450.6 L1072.4,450.6 L1072.7,450.4 L1073.0,450.3 L1073.3,450.7 L1073.6,450.8 L1073.9,450.3 L1074.2,450.5 L1074.5,451.2 L1074.8,451.1 L1075.1,450.4 L1075.4,449.9 L1075.7,449.2 L1076.0,449.4 L1076.3,449.5 L1076.6,449.2 L1076.9,448.6 L1077.2,448.7 L1077.5,448.1 L1077.8,447.9 L1078.1,448.1 L1078.4,448.0 L1078.7,448.0 L1079.0,448.0 L1079.3,447.8 L1079.6,447.6 L1079.9,447.5 L1080.2,446.3 L1080.5,445.3 L1080.8,442.4 L1081.1,436.8 L1081.4,426.4 L1081.7,409.9 L1082.0,388.5 L1082.3,367.9 L1082.6,355.7 L1082.9,358.2 L1083.2,375.1 L1083.5,396.8 L1083.8,416.8 L1084.1,431.5 L1084.4,440.6 L1084.7,444.3 L1085.0,446.8 L1085.3,447.7 L1085.6,448.3 L1085.9,449.0 L1086.2,448.9 L1086.5,448.6 L1086.8,448.9 L1087.1,448.7 L1087.4,448.0 L1087.7,448.2 L1088.0,447.6 L1088.3,447.6 L1088.6,447.8 L1088.9,447.4 L1089.2,447.0 L1089.5,447.3 L1089.8,447.8 L1090.1,447.7 L1090.4,447.5 L1090.7,446.9 L1091.0,447.0 L1091.3,446.5 L1091.6,446.4 L1091.9,446.4 L1092.2,446.4 L1092.5,446.6 L1092.8,447.0 L1093.1,446.7 L1093.4,446.7 L1093.7,447.3 L1094.0,447.3 L1094.3,447.1 L1094.6,447.0 L1094.9,446.6 L1095.2,446.8 L1095.5,447.4 L1095.8,447.9 L1096.1,447.5 L1096.4,447.2 L1096.7,447.6 L1097.0,447.3 L1097.3,447.4 L1097.6,447.1 L1097.9,447.6 L1098.2,448.0 L1098.5,447.8 L1098.8,447.8 L1099.1,447.2 L1099.4,446.8 L1099.7,446.3 L1100.0,443.6 L1100.3,438.2 L1100.6,429.9 L1100.9,418.8 L1101.2,405.9 L1101.5,396.3 L1101.8,394.4 L1102.1,401.7 L1102.4,414.7 L1102.7,427.3 L1103.0,437.0 L1103.3,442.8 L1103.6,446.3 L1103.9,448.0 L1104.2,448.7 L1104.5,449.3 L1104.8,449.1 L1105.1,449.4 L1105.4,449.3 L1105.7,449.1 L1106.0,449.2 L1106.3,448.8 L1106.6,446.9 L1106.9,443.3 L1107.2,438.7 L1107.5,433.8 L1107.8,431.4 L1108.1,433.2 L1108.4,437.8 L1108.7,441.7 L1109.0,444.8 L1109.3,447.1 L1109.6,448.1 L1109.9,447.7 L1110.2,448.0 L1110.5,447.8 L1110.8,447.6 L1111.1,447.4 L1111.4,447.8 L1111.7,447.5 L1112.0,447.6 L1112.3,447.0 L1112.6,446.9 L1112.9,447.4 L1113.2,447.1 L1113.5,447.9 L1113.8,448.3 L1114.1,447.9 L1114.4,448.2 L1114.7,448.5 L1115.0,448.0 L1115.3,448.1 L1115.6,448.4 L1115.9,448.8 L1116.2,448.5 L1116.5,448.8 L1116.8,449.4 L1117.1,449.6 L1117.4,450.1 L1117.7,449.8 L1118.0,449.5 L1118.3,447.2 L1118.6,444.1 L1118.9,438.5 L1119.2,432.3 L1119.5,425.8 L1119.8,422.3 L1120.1,423.2 L1120.4,428.1 L1120.7,434.7 L1121.0,440.5 L1121.3,445.2 L1121.6,447.6 L1121.9,448.5 L1122.2,449.4 L1122.5,448.8 L1122.8,448.6 L1123.1,449.0 L1123.4,449.7 L1123.7,449.6 L1124.0,449.9 L1124.3,449.5 L1124.6,449.3 L1124.9,448.7 L1125.2,448.5 L1125.5,448.0 L1125.8,447.2 L1126.1,443.8 L1126.4,437.9 L1126.7,429.4 L1127.0,418.8 L1127.3,411.1 L1127.6,410.3 L1127.9,416.7 L1128.2,425.9 L1128.5,434.7 L1128.8,441.4 L1129.1,445.6 L1129.4,448.0 L1129.7,448.9 L1130.0,449.5 L1130.3,448.9 L1130.6,448.7 L1130.9,448.3 L1131.2,448.6 L1131.5,449.0 L1131.8,448.8 L1132.1,449.2 L1132.4,449.1 L1132.7,448.0 L1133.0,447.3 L1133.3,445.5 L1133.6,442.2 L1133.9,435.0 L1134.2,423.5 L1134.5,408.8 L1134.8,394.0 L1135.1,385.3 L1135.4,387.5 L1135.7,399.1 L1136.0,414.2 L1136.3,427.5 L1136.6,437.1 L1136.9,443.2 L1137.2,446.3 L1137.5,447.9 L1137.8,448.6 L1138.1,448.9 L1138.4,448.9 L1138.7,448.7 L1139.0,449.2 L1139.3,449.1 L1139.6,449.6 L1139.9,450.0 L1140.2,450.2 L1140.5,450.5 L1140.8,450.7 L1141.1,450.9 L1141.4,451.5 L1141.7,452.0 L1142.0,452.6 L1142.3,453.4 L1142.6,453.0 L1142.9,453.3 L1143.2,453.0 L1143.5,452.1 L1143.8,450.6 L1144.1,448.0 L1144.4,445.3 L1144.7,442.6 L1145.0,440.9 L1145.3,441.6 L1145.6,444.7 L1145.9,447.3 L1146.2,449.7 L1146.5,451.0 L1146.8,451.3 L1147.1,450.8 L1147.4,450.4 L1147.7,450.6 L1148.0,450.7 L1148.3,450.8 L1148.6,451.1 L1148.9,451.3 L1149.2,451.5 L1149.5,450.9 L1149.8,451.3 L1150.1,451.7 L1150.4,451.5 L1150.7,451.5 L1151.0,451.5 L1151.3,451.4 L1151.6,451.3 L1151.9,451.7 L1152.2,451.4 L1152.5,451.2 L1152.8,451.1 L1153.1,451.3 L1153.4,451.4 L1153.7,450.9 L1154.0,450.8 L1154.3,451.1 L1154.6,450.6 L1154.9,449.9 L1155.2,450.6 L1155.5,450.7 L1155.8,450.8 L1156.1,450.2 L1156.4,450.9 L1156.7,450.9 L1157.0,451.0 L1157.3,451.5 L1157.6,451.5 L1157.9,452.1 L1158.2,452.3 L1158.5,452.3 L1158.8,452.7 L1159.1,452.1 L1159.4,451.6 L1159.7,451.6 L1160.0,450.6 L1160.3,448.2 L1160.6,444.6 L1160.9,441.0 L1161.2,438.1 L1161.5,436.3 L1161.8,437.2 L1162.1,440.8 L1162.4,444.5 L1162.7,447.9 L1163.0,450.4 L1163.3,452.2 L1163.6,452.9 L1163.9,453.0 L1164.2,453.2 L1164.5,453.4 L1164.8,453.3 L1165.1,453.1 L1165.4,453.4 L1165.7,453.2 L1166.0,452.5 L1166.3,452.2 L1166.6,452.1 L1166.9,452.2 L1167.2,452.3 L1167.5,452.2 L1167.8,451.4 L1168.1,451.1 L1168.4,450.7 L1168.7,450.5 L1169.0,450.6 L1169.3,450.3 L1169.6,450.6 L1169.9,451.3 L1170.2,451.5 L1170.5,451.5 L1170.8,451.5 L1171.1,451.6 L1171.4,451.6 L1171.7,451.7 L1172.0,451.8 L1172.3,451.2 L1172.6,451.3 L1172.9,451.8 L1173.2,452.0 L1173.5,452.2 L1173.8,452.5 L1174.1,452.5 L1174.4,452.6 L1174.7,452.0 L1175.0,450.6 L1175.3,448.3 L1175.6,445.3 L1175.9,443.1 L1176.2,442.2 L1176.5,443.5 L1176.8,445.8 L1177.1,448.5 L1177.4,450.3 L1177.7,451.2 L1178.0,451.9 L1178.3,451.3 L1178.6,451.5 L1178.9,451.8 L1179.2,451.7 L1179.5,451.3 L1179.8,451.2 L1180.1,450.8 L1180.4,451.5 L1180.7,451.7 L1181.0,451.8 L1181.3,451.5 L1181.6,451.3 L1181.9,451.4 L1182.2,451.6 L1182.5,451.7 L1182.8,450.9 L1183.1,450.8 L1183.4,450.7 L1183.7,450.2 L1184.0,450.2 L1184.3,450.2 L1184.6,450.1 L1184.9,450.3 L1185.2,450.1 L1185.5,450.0 L1185.8,450.4 L1186.1,450.5 L1186.4,450.4 L1186.7,450.7 L1187.0,450.6 L1187.3,450.8 L1187.6,451.2 L1187.9,451.2 L1188.2,451.5 L1188.5,451.6 L1188.8,451.4 L1189.1,451.1 L1189.4,450.4 L1189.7,449.2 L1190.0,446.6 L1190.3,443.7 L1190.6,440.0 L1190.9,438.2 L1191.2,439.8 L1191.5,443.0 L1191.8,446.5 L1192.1,449.2 L1192.4,450.3 L1192.7,450.8 L1193.0,451.3 L1193.3,452.1 L1193.6,451.7 L1193.9,451.6 L1194.2,451.8 L1194.5,452.2 L1194.8,452.7 L1195.1,452.4 L1195.4,452.5 L1195.7,451.5 L1196.0,450.5 L1196.3,448.7 L1196.6,446.3 L1196.9,443.8 L1197.2,442.5 L1197.5,443.9 L1197.8,446.1 L1198.1,448.2 L1198.4,450.1 L1198.7,451.4 L1199.0,451.6 L1199.3,451.5 L1199.6,451.4 L1199.9,451.2 L1200.2,451.2 L1200.5,452.0 L1200.8,451.6 L1201.1,451.3 L1201.4,451.8 L1201.7,451.7 L1202.0,451.4 L1202.3,451.7 L1202.6,451.7 L1202.9,451.6 L1203.2,451.8 L1203.5,452.1 L1203.8,452.4 L1204.1,452.0 L1204.4,452.8 L1204.7,452.6 L1205.0,452.7 L1205.3,452.1 L1205.6,452.0 L1205.9,452.0 L1206.2,451.3 L1206.5,450.7 L1206.8,450.9 L1207.1,450.9 L1207.4,450.5 L1207.7,450.4 L1208.0,450.3 L1208.3,450.7 L1208.6,450.0 L1208.9,450.0 L1209.2,450.0 L1209.5,450.4 L1209.8,450.1 L1210.1,450.7 L1210.4,450.9 L1210.7,451.0 L1211.0,451.0 L1211.3,451.5 L1211.6,451.8 L1211.9,452.1 L1212.2,452.6 L1212.5,452.9 L1212.8,452.6 L1213.1,452.5 L1213.4,452.3 L1213.7,452.0 L1214.0,451.8 L1214.3,452.0 L1214.6,452.3 L1214.9,451.9 L1215.2,452.0 L1215.5,452.2 L1215.8,452.4 L1216.1,452.9 L1216.4,452.8 L1216.7,453.0 L1217.0,452.7 L1217.3,452.4 L1217.6,452.5 L1217.9,452.8 L1218.2,452.8 L1218.5,453.3 L1218.8,453.6 L1219.1,453.7 L1219.4,453.9 L1219.7,453.5 L1220.0,452.5 L1220.3,451.5 L1220.6,449.9 L1220.9,446.4 L1221.2,442.0 L1221.5,437.6 L1221.8,436.8 L1222.1,438.9 L1222.4,443.4 L1222.7,447.1 L1223.0,449.8 L1223.3,450.8 L1223.6,450.6 L1223.9,449.7 L1224.2,447.2 L1224.5,443.5 L1224.8,439.4 L1225.1,436.9 L1225.4,437.0 L1225.7,440.8 L1226.0,446.0 L1226.3,449.5 L1226.6,452.6 L1226.9,453.2 L1227.2,453.6 L1227.5,454.1 L1227.8,454.4 L1228.1,454.4 L1228.4,454.8 L1228.7,454.6 L1229.0,454.4 L1229.3,453.3 L1229.6,453.1 L1229.9,452.8 L1230.2,452.8 L1230.5,453.2 L1230.8,452.7 L1231.1,451.9 L1231.4,451.0 L1231.7,449.9 L1232.0,447.4 L1232.3,443.2 L1232.6,439.5 L1232.9,437.6 L1233.2,438.8 L1233.5,441.5 L1233.8,444.4 L1234.1,447.7 L1234.4,449.4 L1234.7,450.0 L1235.0,450.0 L1235.3,450.0 L1235.6,449.9 L1235.9,449.8 L1236.2,449.9 L1236.5,450.0 L1236.8,450.2 L1237.1,450.6 L1237.4,450.4 L1237.7,451.1 L1238.0,451.5 L1238.3,451.5 L1238.6,451.8 L1238.9,452.3 L1239.2,451.9 L1239.5,451.8 L1239.8,452.3 L1240.1,452.1 L1240.4,451.2 L1240.7,451.7 L1241.0,452.0 L1241.3,452.0 L1241.6,451.7 L1241.9,452.0 L1242.2,452.1 L1242.5,452.7 L1242.8,452.1 L1243.1,452.4 L1243.4,452.1 L1243.7,451.8 L1244.0,452.7 L1244.3,452.3 L1244.6,452.1 L1244.9,452.3 L1245.2,452.1 L1245.5,452.0 L1245.8,452.0 L1246.1,451.9 L1246.4,452.9 L1246.7,453.2 L1247.0,453.0 L1247.3,453.1 L1247.6,453.2 L1247.9,452.9 L1248.2,453.4 L1248.5,453.7 L1248.8,453.9 L1249.1,454.0 L1249.4,454.2 L1249.7,453.8 L1250.0,454.2 L1250.3,454.8 L1250.6,454.5 L1250.9,454.6 L1251.2,454.5 L1251.5,453.8 L1251.8,454.1 L1252.1,454.0 L1252.4,454.1 L1252.7,454.4 L1253.0,454.2 L1253.3,453.4 L1253.6,453.4 L1253.9,453.4 L1254.2,453.0 L1254.5,453.5 L1254.8,453.3 L1255.1,452.5 L1255.4,451.7 L1255.7,449.0 L1256.0,445.7 L1256.3,440.4 L1256.6,433.5 L1256.9,426.3 L1257.2,420.7 L1257.5,419.6 L1257.8,423.2 L1258.1,430.1 L1258.4,438.1 L1258.7,443.4 L1259.0,447.3 L1259.3,448.9 L1259.6,450.0 L1259.9,451.3 L1260.2,451.9 L1260.5,452.0 L1260.8,451.9 L1261.1,452.0 L1261.4,451.8 L1261.7,452.1 L1262.0,452.9 L1262.3,452.9 L1262.6,452.8 L1262.9,452.5 L1263.2,452.7 L1263.5,453.0 L1263.8,452.8 L1264.1,453.2 L1264.4,453.4 L1264.7,453.4 L1265.0,453.0 L1265.3,452.5 L1265.6,452.9 L1265.9,453.1 L1266.2,453.2 L1266.5,453.1 L1266.8,453.2 L1267.1,452.7 L1267.4,452.8 L1267.7,453.0 L1268.0,453.1 L1268.3,453.0 L1268.6,453.0 L1268.9,453.0 L1269.2,453.4 L1269.5,453.5 L1269.8,452.9 L1270.1,453.6 L1270.4,453.4 L1270.7,453.5 L1271.0,453.1 L1271.3,453.0 L1271.6,452.8 L1271.9,452.5 L1272.2,452.3 L1272.5,452.4 L1272.8,451.9 L1273.1,452.4 L1273.4,452.6 L1273.7,452.4 L1274.0,452.6 L1274.3,452.5 L1274.6,452.7 L1274.9,453.0 L1275.2,452.7 L1275.5,452.8 L1275.8,453.4 L1276.1,453.0 L1276.4,452.7 L1276.7,452.9 L1277.0,453.5 L1277.3,453.3 L1277.6,453.6 L1277.9,453.2 L1278.2,453.0 L1278.5,453.1 L1278.8,453.1 L1279.1,452.8 L1279.4,452.8 L1279.7,453.0 L1280.0,453.1 L1280.3,453.0 L1280.6,452.6 L1280.9,452.7 L1281.2,452.8 L1281.5,453.2 L1281.8,453.1 L1282.1,453.0 L1282.4,453.6 L1282.7,453.2 L1283.0,452.8 L1283.3,452.7 L1283.6,452.2 L1283.9,452.3 L1284.2,452.0 L1284.5,452.1 L1284.8,451.6 L1285.1,451.4 L1285.4,451.3 L1285.7,451.6 L1286.0,451.2 L1286.3,450.8 L1286.6,450.6 L1286.9,450.9 L1287.2,450.0 L1287.5,449.9 L1287.8,450.4 L1288.1,451.0 L1288.4,451.5 L1288.7,451.8 L1289.0,451.5 L1289.3,451.6 L1289.6,451.2 L1289.9,451.9 L1290.2,451.3 L1290.5,450.3 L1290.8,448.5 L1291.1,446.1 L1291.4,444.3 L1291.7,442.9 L1292.0,442.8 L1292.3,445.3 L1292.6,448.0 L1292.9,450.5 L1293.2,451.9 L1293.5,452.8 L1293.8,452.6 L1294.1,452.6 L1294.4,452.9 L1294.7,452.9 L1295.0,453.0 L1295.3,453.1 L1295.6,452.9 L1295.9,453.3 L1296.2,453.4 L1296.5,453.4 L1296.8,453.7 L1297.1,453.6 L1297.4,453.6 L1297.7,453.0 L1298.0,452.9 L1298.3,453.0 L1298.6,452.9 L1298.9,452.9 L1299.2,453.7 L1299.5,453.7 L1299.8,453.3 L1300.1,453.2 L1300.4,452.9 L1300.7,452.5 L1301.0,452.2 L1301.3,452.0 L1301.6,452.2 L1301.9,452.2 L1302.2,451.6 L1302.5,451.1 L1302.8,451.0 L1303.1,451.4 L1303.4,451.4 L1303.7,452.0 L1304.0,451.4 L1304.3,450.6 L1304.6,450.3 L1304.9,450.0 L1305.2,450.3 L1305.5,450.3 L1305.8,450.5 L1306.1,450.1 L1306.4,450.2 L1306.7,449.5 L1307.0,449.8 L1307.3,450.7 L1307.6,451.1 L1307.9,451.0 L1308.2,451.0 L1308.5,451.3 L1308.8,451.7 L1309.1,452.0 L1309.4,451.7 L1309.7,452.7 L1310.0,452.7 L1310.3,452.5 L1310.6,452.3 L1310.9,452.9 L1311.2,453.0 L1311.5,453.5 L1311.8,453.8 L1312.1,453.8 L1312.4,454.0 L1312.7,453.8 L1313.0,453.1 L1313.3,452.9 L1313.6,452.2 L1313.9,452.9 L1314.2,453.0 L1314.5,453.2 L1314.8,453.3 L1315.1,453.0 L1315.4,452.9 L1315.7,453.4 L1316.0,452.9 L1316.3,453.1 L1316.6,453.1 L1316.9,452.8 L1317.2,452.5 L1317.5,452.1 L1317.8,452.1 L1318.1,452.1 L1318.4,452.0 L1318.7,451.7 L1319.0,451.5 L1319.3,451.7 L1319.6,451.5 L1319.9,451.4 L1320.2,451.0 L1320.5,451.5 L1320.8,451.5 L1321.1,451.4 L1321.4,451.3 L1321.7,451.1 L1322.0,451.2 L1322.3,451.8 L1322.6,451.8 L1322.9,451.9 L1323.2,452.6 L1323.5,452.6 L1323.8,452.2 L1324.1,451.5 L1324.4,451.7 L1324.7,451.9 L1325.0,452.4 L1325.3,452.6 L1325.6,452.2 L1325.9,451.7 L1326.2,451.9 L1326.5,451.6 L1326.8,451.7 L1327.1,451.8 L1327.4,451.6 L1327.7,451.5 L1328.0,450.9 L1328.3,450.5 L1328.6,450.8 L1328.9,450.4 L1329.2,449.6 L1329.5,448.4 L1329.8,447.6 L1330.1,447.1 L1330.4,445.9 L1330.7,445.6 L1331.0,445.1 L1331.3,445.0 L1331.6,445.0 L1331.9,445.4 L1332.2,445.8 L1332.5,447.5 L1332.8,448.8 L1333.1,449.7 L1333.4,450.4 L1333.7,451.3 L1334.0,452.4 L1334.3,452.9 L1334.6,453.1 L1334.9,453.6 L1335.2,453.6 L1335.5,454.1 L1335.8,453.4 L1336.1,453.1 L1336.4,453.3 L1336.7,453.2 L1337.0,452.7 L1337.3,452.3 L1337.6,451.7 L1337.9,451.5 L1338.2,450.9 L1338.5,451.3 L1338.8,451.2 L1339.1,451.6 L1339.4,452.0 L1339.7,452.0 L1340.0,452.1 L1340.3,451.5 L1340.6,451.8 L1340.9,452.3 L1341.2,452.5 L1341.5,452.6 L1341.8,452.9 L1342.1,453.2 L1342.4,453.3 L1342.7,452.9 L1343.0,452.3 L1343.3,451.0 L1343.6,449.2 L1343.9,448.1 L1344.2,446.7 L1344.5,446.6 L1344.8,447.8 L1345.1,449.4 L1345.4,450.3 L1345.7,451.9 L1346.0,452.3 L1346.3,452.7 L1346.6,452.7 L1346.9,452.4 L1347.2,453.1 L1347.5,453.3 L1347.8,453.2 L1348.1,453.6 L1348.4,454.0 L1348.7,453.7 L1349.0,454.0 L1349.3,453.6 L1349.6,453.6 L1349.9,453.4 L1350.2,453.5 L1350.5,453.0 L1350.8,453.1 L1351.1,452.7 L1351.4,452.6 L1351.7,452.9 L1352.0,452.5 L1352.3,452.8 L1352.6,453.3 L1352.9,453.3 L1353.2,453.5 L1353.5,453.8 L1353.8,453.3 L1354.1,453.7 L1354.4,454.1 L1354.7,454.4 L1355.0,454.6 L1355.3,454.2 L1355.6,454.1 L1355.9,454.2 L1356.2,454.2 L1356.5,454.2 L1356.8,454.5 L1357.1,454.1 L1357.4,453.3 L1357.7,453.2 L1358.0,453.1 L1358.3,452.7 L1358.6,452.7 L1358.9,452.8 L1359.2,452.8 L1359.5,453.0 L1359.8,452.6 L1360.1,453.4 L1360.4,453.7 L1360.7,454.3 L1361.0,453.9 L1361.3,453.7 L1361.6,453.6 L1361.9,454.1 L1362.2,453.9 L1362.5,454.3 L1362.8,454.5 L1363.1,454.3 L1363.4,454.4 L1363.7,454.5 L1364.0,454.4 L1364.3,454.5 L1364.6,454.4 L1364.9,454.5 L1365.2,453.9 L1365.5,453.8 L1365.8,454.0 L1366.1,454.5 L1366.4,454.2 L1366.7,453.7 L1367.0,453.4 L1367.3,453.0 L1367.6,451.9 L1367.9,450.8 L1368.2,449.8 L1368.5,448.6 L1368.8,448.1 L1369.1,448.8 L1369.4,449.4 L1369.7,451.1 L1370.0,452.3 L1370.3,453.0 L1370.6,452.8 L1370.9,453.2 L1371.2,453.5 L1371.5,454.0 L1371.8,454.3 L1372.1,453.8 L1372.4,453.5 L1372.7,453.9 L1373.0,454.2 L1373.3,453.5 L1373.6,453.5 L1373.9,453.5 L1374.2,453.2 L1374.5,452.8 L1374.8,453.2 L1375.1,453.5 L1375.4,453.7 L1375.7,453.6 L1376.0,452.9 L1376.3,453.2 L1376.6,453.0 L1376.9,453.2 L1377.2,453.3 L1377.5,453.3 L1377.8,453.1 L1378.1,453.4 L1378.4,453.3 L1378.7,453.5 L1379.0,453.8 L1379.3,453.9 L1379.6,453.9 L1379.9,453.9 L1380.2,453.9 L1380.5,453.9 L1380.8,453.7 L1381.1,454.3 L1381.4,454.2 L1381.7,454.4 L1382.0,454.6 L1382.3,454.8 L1382.6,454.7 L1382.9,454.6 L1383.2,454.4 L1383.5,454.0 L1383.8,453.9 L1384.1,454.5 L1384.4,454.7 L1384.7,454.6 L1385.0,454.4 L1385.3,454.1 L1385.6,454.9 L1385.9,454.5 L1386.2,453.9 L1386.5,454.0 L1386.8,454.0 L1387.1,454.3 L1387.4,454.2 L1387.7,454.5 L1388.0,454.3 L1388.3,454.8 L1388.6,455.3 L1388.9,454.8 L1389.2,453.9 L1389.5,454.1 L1389.8,453.4 L1390.1,452.6 L1390.4,451.2 L1390.7,450.3 L1391.0,449.8 L1391.3,450.5 L1391.6,451.9 L1391.9,453.0 L1392.2,454.1 L1392.5,455.0 L1392.8,454.9 L1393.1,455.6 L1393.4,455.5 L1393.7,456.0 L1394.0,456.1 L1394.3,456.0 L1394.6,455.5 L1394.9,455.1 L1395.2,455.2 L1395.5,455.3 L1395.8,455.4 L1396.1,455.4 L1396.4,454.3 L1396.7,454.6 L1397.0,453.8 L1397.3,453.6 L1397.6,454.0 L1397.9,453.5 L1398.2,453.3 L1398.5,453.1 L1398.8,452.8 L1399.1,453.0 L1399.4,452.6 L1399.7,452.6 L1400.0,452.9 L1400.3,452.9 L1400.6,453.0 L1400.9,453.2 L1401.2,453.5 L1401.5,453.6 L1401.8,453.8 L1402.1,453.9 L1402.4,454.3 L1402.7,454.4 L1403.0,454.7 L1403.3,455.3 L1403.6,455.0 L1403.9,454.7 L1404.2,454.8 L1404.5,455.4 L1404.8,455.8 L1405.1,455.9 L1405.4,455.4 L1405.7,455.2 L1406.0,455.1 L1406.3,455.7 L1406.6,455.8 L1406.9,455.8 L1407.2,455.9 L1407.5,456.1 L1407.8,455.5 L1408.1,455.3 L1408.4,455.2 L1408.7,455.8 L1409.0,456.4 L1409.3,455.7 L1409.6,455.6 L1409.9,455.3 L1410.2,454.7 L1410.5,455.0 L1410.8,455.5 L1411.1,455.4 L1411.4,455.4 L1411.7,455.2 L1412.0,455.3 L1412.3,455.6 L1412.6,455.6 L1412.9,456.0 L1413.2,456.4 L1413.5,457.2 L1413.8,457.2 L1414.1,457.1 L1414.4,457.0 L1414.7,457.1 L1415.0,457.3 L1415.3,457.7 L1415.6,457.8 L1415.9,457.5 L1416.2,457.3 L1416.5,457.5 L1416.8,457.7 L1417.1,457.5 L1417.4,457.4 L1417.7,457.3 L1418.0,457.5 L1418.3,456.6 L1418.6,456.2 L1418.9,456.0 L1419.2,456.3 L1419.5,456.5 L1419.8,456.2 L1420.1,456.0 L1420.4,456.7 L1420.7,456.2 L1421.0,456.2 L1421.3,456.5 L1421.6,456.3 L1421.9,456.6 L1422.2,456.3 L1422.5,456.5 L1422.8,455.7 L1423.1,455.7 L1423.4,455.7 L1423.7,456.0 L1424.0,456.0 L1424.3,456.8 L1424.6,456.6 L1424.9,456.9 L1425.2,456.9 L1425.5,457.1 L1425.8,456.8 L1426.1,457.0 L1426.4,456.5 L1426.7,457.0 L1427.0,457.5 L1427.3,457.6 L1427.6,457.9 L1427.9,457.7 L1428.2,458.1 L1428.5,457.5 L1428.8,456.7 L1429.1,456.5 L1429.4,456.5 L1429.7,456.4 L1430.0,455.9 L1430.3,455.6 L1430.6,455.8 L1430.9,456.0 L1431.2,456.3 L1431.5,456.1 L1431.8,456.0 L1432.1,455.9 L1432.4,456.3 L1432.7,456.1 L1433.0,456.0 L1433.3,456.1 L1433.6,456.6 L1433.9,457.0 L1434.2,456.9 L1434.5,457.1 L1434.8,457.1 L1435.1,457.3 L1435.4,457.1 L1435.7,457.7 L1436.0,457.5 L1436.3,457.9 L1436.6,457.1 L1436.9,457.0 L1437.2,456.1 L1437.5,456.0 L1437.8,456.3 L1438.1,455.8 L1438.4,456.1 L1438.7,455.5 L1439.0,455.9 L1439.3,456.1 L1439.6,456.1 L1439.9,455.7 L1440.2,455.5 L1440.5,455.9 L1440.8,456.3 L1441.1,456.4 L1441.4,456.5 L1441.7,456.6 L1442.0,456.2 L1442.3,456.7 L1442.6,456.8 L1442.9,457.0 L1443.2,457.0 L1443.5,457.6 L1443.8,457.5 L1444.1,457.1 L1444.4,457.1 L1444.7,457.1 L1445.0,457.1 L1445.3,456.9 L1445.6,456.6 L1445.9,456.3 L1446.2,456.6 L1446.5,456.4 L1446.8,457.1 L1447.1,457.3 L1447.4,457.5 L1447.7,457.4 L1448.0,457.6 L1448.3,457.2 L1448.6,457.5 L1448.9,457.9 L1449.2,457.8 L1449.5,457.7 L1449.8,457.8 L1450.1,457.8 L1450.4,457.2 L1450.7,457.7 L1451.0,457.5 L1451.3,457.8 L1451.6,458.1 L1451.9,457.9 L1452.2,458.2 L1452.5,458.2 L1452.8,458.2 L1453.1,458.2 L1453.4,457.9 L1453.7,457.6 L1454.0,458.2 L1454.3,457.7 L1454.6,458.3 L1454.9,458.5 L1455.2,458.6 L1455.5,458.7 L1455.8,458.5 L1456.1,457.8 L1456.4,457.9 L1456.7,457.5 L1457.0,457.1 L1457.3,457.3 L1457.6,456.6 L1457.9,456.9 L1458.2,457.0 L1458.5,457.0 L1458.8,456.8 L1459.1,456.6 L1459.4,456.4 L1459.7,456.5 L1460.0,456.8 L1460.3,456.9 L1460.6,456.9 L1460.9,457.1 L1461.2,457.4 L1461.5,457.7 L1461.8,457.6 L1462.1,457.7 L1462.4,457.2 L1462.7,457.5 L1463.0,458.0 L1463.3,457.7 L1463.6,457.6 L1463.9,457.6 L1464.2,457.6 L1464.5,457.3 L1464.8,457.2 L1465.1,457.2 L1465.4,457.5 L1465.7,457.5 L1466.0,457.1 L1466.3,456.7 L1466.6,456.7 L1466.9,456.7 L1467.2,456.9 L1467.5,457.0 L1467.8,456.5 L1468.1,456.9 L1468.4,456.8 L1468.7,457.1 L1469.0,457.0 L1469.3,456.2 L1469.6,456.4 L1469.9,456.6 L1470.2,456.4 L1470.5,456.5 L1470.8,456.4 L1471.1,456.7 L1471.4,457.2 L1471.7,457.4 L1472.0,457.7 L1472.3,457.7 L1472.6,458.1 L1472.9,458.3 L1473.2,457.9 L1473.5,458.5 L1473.8,458.7 L1474.1,458.9 L1474.4,459.2 L1474.7,459.1 L1475.0,458.8 L1475.3,458.4 L1475.6,458.1 L1475.9,458.2 L1476.2,457.8 L1476.5,457.9 L1476.8,457.2" fill="none" stroke="#000" stroke-width="2.6" stroke-linejoin="round"/>
<path d="M933.5,422.8 L933.6,419.5 L933.8,419.6 L933.9,420.9 L934.1,415.3 L934.2,423.9 L934.4,421.8 L934.5,412.4 L934.7,418.7 L934.8,416.5 L935.0,422.5 L935.1,416.9 L935.3,417.0 L935.4,415.6 L935.6,420.4 L935.7,422.1 L935.9,422.1 L936.0,416.1 L936.2,415.2 L936.3,419.4 L936.5,419.9 L936.6,420.3 L936.8,414.2 L936.9,420.0 L937.1,423.4 L937.2,417.4 L937.4,420.4 L937.5,419.7 L937.7,430.3 L937.8,422.8 L938.0,423.1 L938.1,418.9 L938.3,421.4 L938.4,422.9 L938.6,419.3 L938.7,421.9 L938.9,420.2 L939.0,425.7 L939.2,420.8 L939.3,423.7 L939.5,421.3 L939.6,427.3 L939.8,426.0 L939.9,423.5 L940.1,420.5 L940.2,428.1 L940.4,428.8 L940.5,419.3 L940.7,422.5 L940.8,434.9 L941.0,425.7 L941.1,426.9 L941.3,423.7 L941.4,429.0 L941.6,425.0 L941.7,428.5 L941.9,423.0 L942.0,429.7 L942.2,426.5 L942.3,419.5 L942.5,438.6 L942.6,421.4 L942.8,428.4 L942.9,429.6 L943.1,430.0 L943.2,429.7 L943.4,425.4 L943.5,423.3 L943.7,428.4 L943.8,428.5 L944.0,428.8 L944.1,423.8 L944.3,427.6 L944.4,426.4 L944.6,426.4 L944.7,423.9 L944.9,423.5 L945.0,425.1 L945.2,425.6 L945.3,429.2 L945.5,425.9 L945.6,426.7 L945.8,426.0 L945.9,423.9 L946.1,430.2 L946.2,432.5 L946.4,427.2 L946.5,432.2 L946.7,434.9 L946.8,431.1 L947.0,429.3 L947.1,427.2 L947.3,427.5 L947.4,425.3 L947.6,424.7 L947.7,436.1 L947.9,424.9 L948.0,430.6 L948.2,424.8 L948.3,426.7 L948.5,427.5 L948.6,427.8 L948.8,428.8 L948.9,421.9 L949.1,429.2 L949.2,427.7 L949.4,426.8 L949.5,425.3 L949.7,433.5 L949.8,420.5 L950.0,427.5 L950.1,434.6 L950.3,429.7 L950.4,430.7 L950.6,427.3 L950.7,425.0 L950.9,428.0 L951.0,423.6 L951.2,430.0 L951.3,429.4 L951.5,430.2 L951.6,432.7 L951.8,427.5 L951.9,433.7 L952.1,431.2 L952.2,429.6 L952.4,427.2 L952.5,427.4 L952.7,428.2 L952.8,429.4 L953.0,434.2 L953.1,431.6 L953.3,434.3 L953.4,438.2 L953.6,433.8 L953.7,429.7 L953.9,430.6 L954.0,427.3 L954.2,434.9 L954.3,434.0 L954.5,428.4 L954.6,429.1 L954.8,428.8 L954.9,434.7 L955.1,431.4 L955.2,431.1 L955.4,430.2 L955.5,432.9 L955.7,431.8 L955.8,431.2 L956.0,441.5 L956.1,431.5 L956.3,430.6 L956.4,435.7 L956.6,433.2 L956.7,430.8 L956.9,434.4 L957.0,432.6 L957.2,435.8 L957.3,438.8 L957.5,435.9 L957.6,442.5 L957.8,433.6 L957.9,432.5 L958.1,436.8 L958.2,429.0 L958.4,427.4 L958.5,434.8 L958.7,433.6 L958.8,430.9 L959.0,435.4 L959.1,436.4 L959.3,438.0 L959.4,434.6 L959.6,434.5 L959.7,434.8 L959.9,435.0 L960.0,431.1 L960.2,436.7 L960.3,436.9 L960.5,438.2 L960.6,436.8 L960.8,436.5 L960.9,435.9 L961.1,437.9 L961.2,434.2 L961.4,431.5 L961.5,433.7 L961.7,430.1 L961.8,435.2 L962.0,440.4 L962.1,439.1 L962.3,434.4 L962.4,434.8 L962.6,438.1 L962.7,436.3 L962.9,440.0 L963.0,434.5 L963.2,437.8 L963.3,436.0 L963.5,441.7 L963.6,437.1 L963.8,437.3 L963.9,433.5 L964.1,438.5 L964.2,434.1 L964.4,437.1 L964.5,440.0 L964.7,441.2 L964.8,438.7 L965.0,436.8 L965.1,439.5 L965.3,438.9 L965.4,433.8 L965.6,439.3 L965.7,441.8 L965.9,439.8 L966.0,439.8 L966.2,440.0 L966.3,440.8 L966.5,435.7 L966.6,437.1 L966.8,434.6 L966.9,437.0 L967.1,440.0 L967.2,441.5 L967.4,441.0 L967.5,438.9 L967.7,439.7 L967.8,443.2 L968.0,440.1 L968.1,438.8 L968.3,441.9 L968.4,442.4 L968.6,439.4 L968.7,439.7 L968.9,441.2 L969.0,437.7 L969.2,437.8 L969.3,439.5 L969.5,440.3 L969.6,441.7 L969.8,443.0 L969.9,441.6 L970.1,440.1 L970.2,442.3 L970.4,437.0 L970.5,437.4 L970.7,441.0 L970.8,440.9 L971.0,440.2 L971.1,435.7 L971.3,438.7 L971.4,436.2 L971.6,441.5 L971.7,440.2 L971.9,441.1 L972.0,440.8 L972.2,442.7 L972.3,438.7 L972.5,439.8 L972.6,433.5 L972.8,441.2 L972.9,436.8 L973.1,433.7 L973.2,438.1 L973.4,438.8 L973.5,437.6 L973.7,439.3 L973.8,443.3 L974.0,444.0 L974.1,441.0 L974.3,435.2 L974.4,442.3 L974.6,442.0 L974.7,442.4 L974.9,441.8 L975.0,446.6 L975.2,443.6 L975.3,442.2 L975.5,445.2 L975.6,440.4 L975.8,441.1 L975.9,436.2 L976.1,442.3 L976.2,439.1 L976.4,445.4 L976.5,439.3 L976.7,442.5 L976.8,442.7 L977.0,445.8 L977.1,443.6 L977.3,443.7 L977.4,442.0 L977.6,445.5 L977.7,441.7 L977.9,441.5 L978.0,442.5 L978.2,444.6 L978.3,443.3 L978.5,446.3 L978.6,441.1 L978.8,445.7 L978.9,448.1 L979.1,432.3 L979.2,443.0 L979.4,438.7 L979.5,441.2 L979.7,443.1 L979.8,446.0 L980.0,443.6 L980.1,439.9 L980.3,448.5 L980.4,439.6 L980.6,440.2 L980.7,444.3 L980.9,440.6 L981.0,442.0 L981.2,442.0 L981.3,445.5 L981.5,441.7 L981.6,442.8 L981.8,439.2 L981.9,442.0 L982.1,441.2 L982.2,441.3 L982.4,444.3 L982.5,446.1 L982.7,449.9 L982.8,445.0 L983.0,445.4 L983.1,444.3 L983.3,445.5 L983.4,445.3 L983.6,443.8 L983.7,446.0 L983.9,445.8 L984.0,439.5 L984.2,444.1 L984.3,450.9 L984.5,450.5 L984.6,442.7 L984.8,443.3 L984.9,443.9 L985.1,443.7 L985.2,441.6 L985.4,443.5 L985.5,446.7 L985.7,444.8 L985.8,445.1 L986.0,446.1 L986.1,446.9 L986.3,444.4 L986.4,445.3 L986.6,442.3 L986.7,449.5 L986.9,450.6 L987.0,444.2 L987.2,447.2 L987.3,439.6 L987.5,451.4 L987.6,447.4 L987.8,439.3 L987.9,445.0 L988.1,444.6 L988.2,446.0 L988.4,441.6 L988.5,443.2 L988.7,448.9 L988.8,439.7 L989.0,442.8 L989.1,446.1 L989.3,440.9 L989.4,443.8 L989.6,447.7 L989.7,445.3 L989.9,449.2 L990.0,447.4 L990.2,445.6 L990.3,446.2 L990.5,442.0 L990.6,449.3 L990.8,447.8 L990.9,441.0 L991.1,439.9 L991.2,444.6 L991.4,440.0 L991.5,441.7 L991.7,437.8 L991.8,434.7 L992.0,423.6 L992.1,415.0 L992.3,408.3 L992.4,391.5 L992.6,377.2 L992.7,354.9 L992.9,329.5 L993.0,301.4 L993.2,277.1 L993.3,258.2 L993.5,249.5 L993.6,247.8 L993.8,259.6 L993.9,275.0 L994.1,298.3 L994.2,320.2 L994.4,345.2 L994.5,370.7 L994.7,388.3 L994.8,406.8 L995.0,418.6 L995.1,430.6 L995.3,439.7 L995.4,439.6 L995.6,442.0 L995.7,443.9 L995.9,447.0 L996.0,449.0 L996.2,445.3 L996.3,449.0 L996.5,446.2 L996.6,450.4 L996.8,446.0 L996.9,448.8 L997.1,446.2 L997.2,447.8 L997.4,451.3 L997.5,446.9 L997.7,448.7 L997.8,449.8 L998.0,446.5 L998.1,448.0 L998.3,446.8 L998.4,444.2 L998.6,449.9 L998.7,449.5 L998.9,447.6 L999.0,448.6 L999.2,446.0 L999.3,445.1 L999.5,444.8 L999.6,446.3 L999.8,448.8 L999.9,449.4 L1000.1,445.3 L1000.2,447.2 L1000.4,448.0 L1000.5,448.5 L1000.7,448.4 L1000.8,449.7 L1001.0,449.1 L1001.1,447.9 L1001.3,447.3 L1001.4,449.8 L1001.6,447.5 L1001.7,447.9 L1001.9,445.0 L1002.0,448.1 L1002.2,449.3 L1002.3,445.9 L1002.5,448.8 L1002.6,444.8 L1002.8,446.5 L1002.9,449.4 L1003.1,445.8 L1003.2,447.5 L1003.4,448.2 L1003.5,444.2 L1003.7,450.0 L1003.8,444.5 L1004.0,446.2 L1004.1,446.2 L1004.3,446.7 L1004.4,445.4 L1004.6,448.6 L1004.7,447.6 L1004.9,443.8 L1005.0,449.8 L1005.2,448.3 L1005.3,447.5 L1005.5,447.0 L1005.6,446.4 L1005.8,450.0 L1005.9,444.0 L1006.1,452.0 L1006.2,449.5 L1006.4,447.0 L1006.5,448.2 L1006.7,449.8 L1006.8,446.0 L1007.0,444.8 L1007.1,448.0 L1007.3,450.0 L1007.4,447.9 L1007.6,448.6 L1007.7,451.4 L1007.9,445.9 L1008.0,449.3 L1008.2,447.6 L1008.3,442.9 L1008.5,448.7 L1008.6,443.7 L1008.8,444.3 L1008.9,448.7 L1009.1,443.9 L1009.2,445.9 L1009.4,447.2 L1009.5,448.3 L1009.7,447.8 L1009.8,449.3 L1010.0,444.7 L1010.1,442.3 L1010.3,445.1 L1010.4,446.8 L1010.6,445.5 L1010.7,446.3 L1010.9,443.6 L1011.0,444.2 L1011.2,445.9 L1011.3,450.0 L1011.5,446.4 L1011.6,445.2 L1011.8,444.6 L1011.9,449.1 L1012.1,446.3 L1012.2,444.5 L1012.4,444.3 L1012.5,450.3 L1012.7,447.2 L1012.8,444.7 L1013.0,447.0 L1013.1,449.8 L1013.3,446.1 L1013.4,447.7 L1013.6,447.2 L1013.7,444.9 L1013.9,448.7 L1014.0,447.2 L1014.2,449.4 L1014.3,444.6 L1014.5,443.1 L1014.6,447.4 L1014.8,440.6 L1014.9,448.0 L1015.1,444.9 L1015.2,449.5 L1015.4,446.6 L1015.5,447.3 L1015.7,449.6 L1015.8,447.2 L1016.0,450.1 L1016.1,445.8 L1016.3,452.2 L1016.4,448.9 L1016.6,448.3 L1016.7,449.1 L1016.9,453.0 L1017.0,445.9 L1017.2,450.9 L1017.3,449.6 L1017.5,448.0 L1017.6,452.4 L1017.8,452.4 L1017.9,449.2 L1018.1,449.5 L1018.2,447.3 L1018.4,448.7 L1018.5,447.2 L1018.7,448.7 L1018.8,450.9 L1019.0,449.0 L1019.1,448.5 L1019.3,448.1 L1019.4,453.4 L1019.6,452.3 L1019.7,448.8 L1019.9,450.3 L1020.0,450.5 L1020.2,446.5 L1020.3,447.8 L1020.5,449.6 L1020.6,445.9 L1020.8,449.0 L1020.9,454.6 L1021.1,447.9 L1021.2,451.4 L1021.4,448.4 L1021.5,451.3 L1021.7,449.7 L1021.8,448.3 L1022.0,448.2 L1022.1,449.8 L1022.3,448.4 L1022.4,452.4 L1022.6,450.2 L1022.7,451.5 L1022.9,447.8 L1023.0,450.8 L1023.2,449.6 L1023.3,451.5 L1023.5,447.3 L1023.6,449.4 L1023.8,448.8 L1023.9,450.9 L1024.1,446.8 L1024.2,451.0 L1024.4,446.5 L1024.5,449.9 L1024.7,449.9 L1024.8,447.3 L1025.0,445.0 L1025.1,449.1 L1025.3,445.1 L1025.4,446.0 L1025.6,452.1 L1025.7,450.2 L1025.9,448.0 L1026.0,451.3 L1026.2,446.2 L1026.3,446.1 L1026.5,450.2 L1026.6,442.6 L1026.8,444.3 L1026.9,446.6 L1027.1,442.6 L1027.2,443.5 L1027.4,437.9 L1027.5,440.5 L1027.7,438.0 L1027.8,441.2 L1028.0,437.8 L1028.1,438.0 L1028.3,440.8 L1028.4,439.0 L1028.6,441.2 L1028.7,442.2 L1028.9,444.2 L1029.0,446.6 L1029.2,448.9 L1029.3,448.3 L1029.5,444.9 L1029.6,445.1 L1029.8,445.1 L1029.9,450.1 L1030.1,449.1 L1030.2,449.8 L1030.4,447.6 L1030.5,452.3 L1030.7,448.8 L1030.8,448.4 L1031.0,449.1 L1031.1,442.5 L1031.3,442.9 L1031.4,442.1 L1031.6,439.0 L1031.7,436.9 L1031.9,436.9 L1032.0,432.3 L1032.2,432.6 L1032.3,431.1 L1032.5,434.6 L1032.6,436.3 L1032.8,436.7 L1032.9,438.9 L1033.1,438.8 L1033.2,442.8 L1033.4,445.6 L1033.5,445.3 L1033.7,445.6 L1033.8,446.1 L1034.0,449.3 L1034.1,447.1 L1034.3,450.3 L1034.4,447.2 L1034.6,444.9 L1034.7,447.8 L1034.9,447.8 L1035.0,450.7 L1035.2,454.4 L1035.3,450.6 L1035.5,451.7 L1035.6,450.7 L1035.8,450.2 L1035.9,450.1 L1036.1,449.0 L1036.2,450.5 L1036.4,445.7 L1036.5,451.6 L1036.7,455.3 L1036.8,449.6 L1037.0,450.7 L1037.1,449.6 L1037.3,449.2 L1037.4,453.9 L1037.6,451.0 L1037.7,454.1 L1037.9,450.1 L1038.0,453.7 L1038.2,448.0 L1038.3,449.1 L1038.5,453.7 L1038.6,452.7 L1038.8,449.5 L1038.9,450.9 L1039.1,448.8 L1039.2,451.4 L1039.4,451.8 L1039.5,449.6 L1039.7,448.0 L1039.8,450.5 L1040.0,450.6 L1040.1,451.5 L1040.3,448.1 L1040.4,450.7 L1040.6,448.8 L1040.7,449.6 L1040.9,451.0 L1041.0,450.9 L1041.2,451.8 L1041.3,443.5 L1041.5,454.6 L1041.6,450.9 L1041.8,449.9 L1041.9,448.5 L1042.1,448.4 L1042.2,452.3 L1042.4,449.0 L1042.5,451.9 L1042.7,451.6 L1042.8,448.5 L1043.0,448.7 L1043.1,449.0 L1043.3,447.6 L1043.4,450.3 L1043.6,449.3 L1043.7,449.3 L1043.9,448.4 L1044.0,455.0 L1044.2,450.9 L1044.3,452.0 L1044.5,448.0 L1044.6,448.3 L1044.8,445.3 L1044.9,446.2 L1045.1,450.8 L1045.2,447.5 L1045.4,449.5 L1045.5,449.6 L1045.7,449.0 L1045.8,446.5 L1046.0,453.7 L1046.1,449.8 L1046.3,447.7 L1046.4,452.0 L1046.6,449.3 L1046.8,452.4 L1046.9,450.5 L1047.1,451.3 L1047.2,447.4 L1047.4,445.6 L1047.5,447.7 L1047.7,450.5 L1047.8,445.0 L1048.0,442.5 L1048.1,438.6 L1048.3,436.4 L1048.4,433.1 L1048.6,427.3 L1048.7,424.5 L1048.9,422.5 L1049.0,413.4 L1049.2,414.5 L1049.3,415.6 L1049.5,418.5 L1049.6,422.2 L1049.8,426.6 L1049.9,430.7 L1050.1,434.8 L1050.2,438.0 L1050.4,440.9 L1050.5,440.8 L1050.7,444.3 L1050.8,446.1 L1051.0,449.5 L1051.1,446.7 L1051.3,449.4 L1051.4,451.2 L1051.6,450.7 L1051.7,449.9 L1051.9,451.4 L1052.0,445.3 L1052.2,449.7 L1052.3,454.5 L1052.5,449.6 L1052.6,451.6 L1052.8,452.2 L1052.9,451.1 L1053.1,451.2 L1053.2,448.3 L1053.4,448.9 L1053.5,450.6 L1053.7,448.5 L1053.8,450.2 L1054.0,448.4 L1054.1,449.9 L1054.3,449.0 L1054.4,448.4 L1054.6,446.5 L1054.7,447.3 L1054.9,451.9 L1055.0,448.2 L1055.2,450.2 L1055.3,452.1 L1055.5,446.6 L1055.6,450.2 L1055.8,451.8 L1055.9,451.9 L1056.1,448.3 L1056.2,453.0 L1056.4,452.4 L1056.5,448.9 L1056.7,451.6 L1056.8,452.3 L1057.0,450.4 L1057.1,450.1 L1057.3,452.4 L1057.4,449.8 L1057.6,450.6 L1057.7,451.4 L1057.9,450.1 L1058.0,448.7 L1058.2,448.4 L1058.3,451.5 L1058.5,447.6 L1058.6,451.0 L1058.8,449.0 L1058.9,449.5 L1059.1,448.5 L1059.2,452.7 L1059.4,449.4 L1059.5,450.6 L1059.7,447.6 L1059.8,447.8 L1060.0,447.7 L1060.1,448.8 L1060.3,446.7 L1060.4,446.6 L1060.6,448.9 L1060.7,449.5 L1060.9,446.4 L1061.0,446.3 L1061.2,447.7 L1061.3,444.6 L1061.5,447.3 L1061.6,443.6 L1061.8,446.2 L1061.9,447.2 L1062.1,444.8 L1062.2,444.3 L1062.4,447.4 L1062.5,451.2 L1062.7,445.1 L1062.8,446.7 L1063.0,446.0 L1063.1,445.5 L1063.3,447.4 L1063.4,444.9 L1063.6,443.3 L1063.7,447.6 L1063.9,446.4 L1064.0,447.3 L1064.2,448.0 L1064.3,445.9 L1064.5,448.0 L1064.6,449.4 L1064.8,446.5 L1064.9,447.2 L1065.1,444.5 L1065.2,445.0 L1065.4,446.0 L1065.5,448.0 L1065.7,448.0 L1065.8,446.5 L1066.0,448.1 L1066.1,446.8 L1066.3,448.5 L1066.4,452.0 L1066.6,447.8 L1066.7,445.2 L1066.9,448.9 L1067.0,449.8 L1067.2,447.8 L1067.3,449.7 L1067.5,447.8 L1067.6,450.6 L1067.8,450.2 L1067.9,450.1 L1068.1,449.4 L1068.2,448.8 L1068.4,448.5 L1068.5,448.7 L1068.7,447.5 L1068.8,449.9 L1069.0,450.6 L1069.1,451.4 L1069.3,450.7 L1069.4,449.6 L1069.6,446.0 L1069.7,450.2 L1069.9,450.5 L1070.0,448.0 L1070.2,449.2 L1070.3,450.6 L1070.5,450.3 L1070.6,453.9 L1070.8,450.6 L1070.9,452.1 L1071.1,450.9 L1071.2,450.9 L1071.4,449.8 L1071.5,449.0 L1071.7,451.8 L1071.8,449.1 L1072.0,453.4 L1072.1,449.8 L1072.3,448.7 L1072.4,450.9 L1072.6,452.1 L1072.7,448.9 L1072.9,452.6 L1073.0,450.4 L1073.2,451.4 L1073.3,450.1 L1073.5,447.2 L1073.6,448.9 L1073.8,453.0 L1073.9,450.8 L1074.1,449.9 L1074.2,450.1 L1074.4,451.5 L1074.5,446.3 L1074.7,453.5 L1074.8,453.7 L1075.0,449.1 L1075.1,449.4 L1075.3,449.6 L1075.4,447.6 L1075.6,448.9 L1075.7,450.4 L1075.9,450.8 L1076.0,451.5 L1076.2,449.7 L1076.3,446.3 L1076.5,446.1 L1076.6,449.2 L1076.8,449.9 L1076.9,449.7 L1077.1,444.5 L1077.2,447.3 L1077.4,446.8 L1077.5,447.6 L1077.7,445.0 L1077.8,448.6 L1078.0,447.0 L1078.1,442.5 L1078.3,450.3 L1078.4,447.3 L1078.6,445.2 L1078.7,449.1 L1078.9,448.1 L1079.0,450.2 L1079.2,448.2 L1079.3,445.3 L1079.5,444.0 L1079.6,449.1 L1079.8,447.7 L1079.9,445.0 L1080.1,448.3 L1080.2,444.6 L1080.4,445.6 L1080.5,448.1 L1080.7,444.1 L1080.8,441.7 L1081.0,440.8 L1081.1,438.8 L1081.3,432.1 L1081.4,425.9 L1081.6,418.0 L1081.7,409.1 L1081.9,401.3 L1082.0,388.2 L1082.2,378.9 L1082.3,368.2 L1082.5,358.4 L1082.6,354.1 L1082.8,355.2 L1082.9,358.4 L1083.1,363.1 L1083.2,374.9 L1083.4,391.1 L1083.5,399.6 L1083.7,410.1 L1083.8,421.3 L1084.0,425.7 L1084.1,432.9 L1084.3,437.6 L1084.4,438.6 L1084.6,442.9 L1084.7,444.0 L1084.9,443.8 L1085.0,446.0 L1085.2,448.0 L1085.3,445.9 L1085.5,448.8 L1085.6,448.7 L1085.8,448.7 L1085.9,449.7 L1086.1,450.0 L1086.2,449.6 L1086.4,448.5 L1086.5,449.0 L1086.7,445.7 L1086.8,452.1 L1087.0,450.0 L1087.1,451.2 L1087.3,451.4 L1087.4,448.3 L1087.6,448.1 L1087.7,447.6 L1087.9,448.7 L1088.0,449.0 L1088.2,447.1 L1088.3,446.0 L1088.5,449.3 L1088.6,445.7 L1088.8,447.5 L1088.9,450.4 L1089.1,447.0 L1089.2,444.4 L1089.4,444.9 L1089.5,444.4 L1089.7,447.4 L1089.8,447.4 L1090.0,447.8 L1090.1,447.2 L1090.3,443.8 L1090.4,449.1 L1090.6,447.2 L1090.7,448.1 L1090.9,448.0 L1091.0,448.2 L1091.2,445.1 L1091.3,446.1 L1091.5,444.9 L1091.6,448.0 L1091.8,447.0 L1091.9,448.5 L1092.1,445.0 L1092.2,445.6 L1092.4,447.3 L1092.5,445.0 L1092.7,450.6 L1092.8,447.5 L1093.0,446.6 L1093.1,445.9 L1093.3,444.6 L1093.4,446.1 L1093.6,448.9 L1093.7,447.3 L1093.9,446.2 L1094.0,447.4 L1094.2,448.7 L1094.3,446.8 L1094.5,446.5 L1094.6,445.3 L1094.8,443.2 L1094.9,448.1 L1095.1,447.4 L1095.2,446.1 L1095.4,445.0 L1095.5,444.5 L1095.7,449.9 L1095.8,450.7 L1096.0,450.9 L1096.1,448.7 L1096.3,446.4 L1096.4,448.9 L1096.6,445.6 L1096.7,444.8 L1096.9,450.8 L1097.0,446.8 L1097.2,447.3 L1097.3,448.1 L1097.5,446.4 L1097.6,449.0 L1097.8,445.3 L1097.9,445.6 L1098.1,447.8 L1098.2,448.0 L1098.4,453.7 L1098.5,446.1 L1098.7,447.4 L1098.8,447.3 L1099.0,445.8 L1099.1,448.4 L1099.3,447.1 L1099.4,449.2 L1099.6,445.2 L1099.7,444.7 L1099.9,447.7 L1100.0,444.7 L1100.2,441.8 L1100.3,438.2 L1100.5,434.7 L1100.6,429.9 L1100.8,425.4 L1100.9,420.2 L1101.1,413.6 L1101.2,404.9 L1101.4,400.3 L1101.5,394.6 L1101.7,392.6 L1101.8,394.9 L1102.0,399.2 L1102.1,403.5 L1102.3,409.0 L1102.4,412.9 L1102.6,420.8 L1102.7,428.3 L1102.9,430.3 L1103.0,437.2 L1103.2,441.6 L1103.3,444.2 L1103.5,446.0 L1103.6,444.6 L1103.8,448.5 L1103.9,448.5 L1104.1,449.3 L1104.2,450.9 L1104.4,447.5 L1104.5,450.2 L1104.7,450.8 L1104.8,453.2 L1105.0,444.4 L1105.1,448.7 L1105.3,451.0 L1105.4,450.6 L1105.6,450.3 L1105.7,447.9 L1105.9,450.3 L1106.0,449.3 L1106.2,447.0 L1106.3,451.2 L1106.5,449.0 L1106.6,447.7 L1106.8,444.6 L1106.9,442.9 L1107.1,442.2 L1107.2,440.7 L1107.4,441.3 L1107.5,433.6 L1107.7,430.4 L1107.8,428.9 L1108.0,433.9 L1108.1,432.7 L1108.3,436.1 L1108.4,435.9 L1108.6,439.7 L1108.7,442.1 L1108.9,440.3 L1109.0,445.1 L1109.2,447.6 L1109.3,448.3 L1109.5,448.0 L1109.6,446.7 L1109.8,448.7 L1109.9,446.5 L1110.1,447.5 L1110.2,448.2 L1110.4,447.6 L1110.5,449.5 L1110.7,447.6 L1110.8,449.1 L1111.0,444.8 L1111.1,447.9 L1111.3,448.2 L1111.4,448.5 L1111.6,446.1 L1111.7,447.4 L1111.9,446.6 L1112.0,446.4 L1112.2,448.2 L1112.3,447.4 L1112.5,444.0 L1112.6,445.9 L1112.8,447.1 L1112.9,448.8 L1113.1,446.6 L1113.2,446.6 L1113.4,446.8 L1113.5,446.0 L1113.7,450.0 L1113.8,449.3 L1114.0,445.4 L1114.1,450.4 L1114.3,446.4 L1114.4,447.7 L1114.6,448.3 L1114.7,447.7 L1114.9,446.3 L1115.0,447.0 L1115.2,447.3 L1115.3,448.5 L1115.5,454.0 L1115.6,450.8 L1115.8,449.3 L1115.9,448.1 L1116.1,445.3 L1116.2,448.6 L1116.4,447.1 L1116.5,450.7 L1116.7,447.8 L1116.8,448.6 L1117.0,452.6 L1117.1,448.3 L1117.3,452.3 L1117.4,449.7 L1117.6,450.6 L1117.7,447.1 L1117.9,451.5 L1118.0,450.2 L1118.2,451.1 L1118.3,448.0 L1118.5,442.5 L1118.6,443.5 L1118.8,436.4 L1118.9,438.1 L1119.1,437.5 L1119.2,431.3 L1119.4,429.3 L1119.5,423.6 L1119.7,422.2 L1119.8,423.3 L1120.0,419.9 L1120.1,421.8 L1120.3,426.2 L1120.4,427.7 L1120.6,430.4 L1120.7,433.3 L1120.9,436.0 L1121.0,441.0 L1121.2,444.2 L1121.3,443.3 L1121.5,445.9 L1121.6,447.9 L1121.8,448.6 L1121.9,452.0 L1122.1,448.5 L1122.2,447.2 L1122.4,450.1 L1122.5,449.6 L1122.7,448.6 L1122.8,443.0 L1123.0,448.5 L1123.1,447.8 L1123.3,450.4 L1123.4,451.6 L1123.6,450.3 L1123.7,446.2 L1123.9,452.7 L1124.0,449.2 L1124.2,447.1 L1124.3,447.5 L1124.5,447.8 L1124.6,450.7 L1124.8,449.2 L1124.9,446.6 L1125.1,448.7 L1125.2,449.0 L1125.4,455.1 L1125.5,447.2 L1125.7,446.1 L1125.8,448.7 L1126.0,444.0 L1126.1,441.3 L1126.3,441.5 L1126.4,437.2 L1126.6,433.6 L1126.7,427.8 L1126.9,423.5 L1127.0,415.5 L1127.2,411.9 L1127.3,412.4 L1127.5,411.1 L1127.6,409.9 L1127.8,414.6 L1127.9,416.5 L1128.1,421.7 L1128.2,426.3 L1128.4,426.8 L1128.5,434.8 L1128.7,440.3 L1128.8,441.1 L1129.0,442.1 L1129.1,446.1 L1129.3,448.6 L1129.4,446.5 L1129.6,448.8 L1129.7,449.5 L1129.9,447.8 L1130.0,448.4 L1130.2,448.8 L1130.3,446.7 L1130.5,448.9 L1130.6,452.2 L1130.8,446.0 L1130.9,450.5 L1131.1,451.1 L1131.2,447.3 L1131.4,448.3 L1131.5,449.6 L1131.7,448.8 L1131.8,448.2 L1132.0,450.6 L1132.1,450.7 L1132.3,449.5 L1132.4,450.4 L1132.6,448.5 L1132.7,447.2 L1132.9,446.7 L1133.0,450.4 L1133.2,444.9 L1133.3,445.8 L1133.5,446.4 L1133.6,439.9 L1133.8,441.6 L1133.9,439.0 L1134.1,429.2 L1134.2,422.3 L1134.4,418.3 L1134.5,408.6 L1134.7,399.8 L1134.8,394.3 L1135.0,390.3 L1135.1,383.8 L1135.3,387.1 L1135.4,387.6 L1135.6,394.4 L1135.7,399.0 L1135.9,408.5 L1136.0,414.1 L1136.2,421.7 L1136.3,426.2 L1136.5,434.4 L1136.6,434.1 L1136.8,438.9 L1136.9,446.1 L1137.1,447.0 L1137.2,448.2 L1137.4,447.3 L1137.5,448.8 L1137.7,448.9 L1137.8,448.2 L1138.0,449.4 L1138.1,447.6 L1138.3,450.5 L1138.4,448.9 L1138.6,447.1 L1138.7,446.7 L1138.9,451.8 L1139.0,448.3 L1139.2,452.9 L1139.3,449.1 L1139.5,450.2 L1139.6,447.5 L1139.8,449.8 L1139.9,449.3 L1140.1,450.6 L1140.2,452.6 L1140.4,449.5 L1140.5,451.0 L1140.7,450.2 L1140.8,449.9 L1141.0,450.4 L1141.1,451.1 L1141.3,450.8 L1141.4,450.2 L1141.6,452.0 L1141.7,451.0 L1141.9,453.1 L1142.0,451.7 L1142.2,456.0 L1142.3,453.6 L1142.5,451.6 L1142.6,454.5 L1142.8,453.6 L1142.9,455.8 L1143.1,453.8 L1143.2,453.1 L1143.4,454.3 L1143.5,446.4 L1143.7,453.2 L1143.8,450.0 L1144.0,448.6 L1144.1,446.7 L1144.3,445.7 L1144.4,447.9 L1144.6,443.1 L1144.7,441.1 L1144.9,439.8 L1145.0,440.0 L1145.2,443.3 L1145.3,442.7 L1145.5,442.0 L1145.6,446.3 L1145.8,445.6 L1145.9,446.3 L1146.1,449.3 L1146.2,446.4 L1146.4,452.0 L1146.5,452.7 L1146.7,451.6 L1146.8,453.1 L1147.0,450.4 L1147.1,447.7 L1147.3,452.4 L1147.4,451.3 L1147.6,450.6 L1147.7,450.1 L1147.9,449.6 L1148.0,449.2 L1148.2,452.8 L1148.3,450.6 L1148.5,449.7 L1148.6,448.5 L1148.8,453.8 L1148.9,450.2 L1149.1,454.6 L1149.2,451.5 L1149.4,453.8 L1149.5,452.1 L1149.7,451.3 L1149.8,450.3 L1150.0,449.4 L1150.1,455.1 L1150.3,454.0 L1150.4,451.8 L1150.6,450.7 L1150.7,452.3 L1150.9,448.4 L1151.0,452.9 L1151.2,450.6 L1151.3,450.1 L1151.5,451.5 L1151.6,450.2 L1151.8,448.2 L1151.9,451.6 L1152.1,450.5 L1152.2,453.2 L1152.4,452.0 L1152.5,451.5 L1152.7,451.9 L1152.8,452.7 L1153.0,451.7 L1153.1,452.6 L1153.3,450.2 L1153.4,451.3 L1153.6,452.2 L1153.7,448.5 L1153.9,450.2 L1154.0,451.5 L1154.2,452.7 L1154.3,448.8 L1154.5,446.5 L1154.6,451.5 L1154.8,452.3 L1154.9,447.2 L1155.1,450.5 L1155.2,450.4 L1155.4,450.5 L1155.5,449.9 L1155.7,451.0 L1155.8,452.2 L1156.0,451.6 L1156.1,447.4 L1156.3,452.0 L1156.4,451.1 L1156.6,453.2 L1156.7,451.1 L1156.9,452.9 L1157.0,449.3 L1157.2,452.6 L1157.3,447.9 L1157.5,451.8 L1157.6,450.7 L1157.8,450.2 L1157.9,448.2 L1158.1,452.5 L1158.2,448.2 L1158.4,450.7 L1158.5,453.8 L1158.7,451.3 L1158.8,452.9 L1159.0,448.4 L1159.1,452.7 L1159.3,450.3 L1159.4,456.6 L1159.6,450.4 L1159.7,452.2 L1159.9,450.9 L1160.0,452.6 L1160.2,442.6 L1160.3,452.4 L1160.5,444.6 L1160.6,442.4 L1160.8,442.8 L1160.9,446.2 L1161.1,439.4 L1161.2,437.8 L1161.4,437.1 L1161.5,438.5 L1161.7,438.4 L1161.8,439.7 L1162.0,437.2 L1162.1,440.8 L1162.3,440.2 L1162.4,446.3 L1162.6,447.2 L1162.7,446.6 L1162.9,445.7 L1163.0,451.4 L1163.2,450.8 L1163.3,450.3 L1163.5,452.6 L1163.6,454.0 L1163.8,455.5 L1163.9,452.4 L1164.1,453.3 L1164.2,453.5 L1164.4,452.3 L1164.5,453.9 L1164.7,452.9 L1164.8,452.5 L1165.0,452.9 L1165.1,452.5 L1165.3,452.8 L1165.4,452.8 L1165.6,452.0 L1165.7,454.1 L1165.9,453.9 L1166.0,450.9 L1166.2,453.0 L1166.3,454.8 L1166.5,451.8 L1166.6,452.2 L1166.8,453.1 L1166.9,453.5 L1167.1,451.3 L1167.2,451.9 L1167.4,452.5 L1167.5,450.6 L1167.7,452.2 L1167.8,452.3 L1168.0,450.1 L1168.1,451.1 L1168.3,451.2 L1168.4,450.9 L1168.6,448.1 L1168.7,451.6 L1168.9,449.7 L1169.0,448.0 L1169.2,448.6 L1169.3,451.0 L1169.5,449.7 L1169.6,449.6 L1169.8,451.2 L1169.9,450.9 L1170.1,451.3 L1170.2,454.5 L1170.4,451.2 L1170.5,455.0 L1170.7,451.0 L1170.8,452.3 L1171.0,449.0 L1171.1,451.1 L1171.3,451.3 L1171.4,452.9 L1171.6,452.4 L1171.7,452.2 L1171.9,450.1 L1172.0,450.0 L1172.2,452.4 L1172.3,450.1 L1172.5,449.8 L1172.6,451.3 L1172.8,452.9 L1172.9,453.4 L1173.1,452.9 L1173.2,451.4 L1173.4,452.2 L1173.5,456.5 L1173.7,453.3 L1173.8,453.8 L1174.0,449.8 L1174.1,450.6 L1174.3,448.7 L1174.4,453.4 L1174.6,454.7 L1174.7,452.0 L1174.9,453.4 L1175.0,449.7 L1175.2,448.7 L1175.3,451.1 L1175.5,445.3 L1175.6,445.9 L1175.8,446.1 L1175.9,443.3 L1176.1,442.7 L1176.2,441.4 L1176.4,441.7 L1176.5,443.6 L1176.7,444.7 L1176.8,444.7 L1177.0,446.0 L1177.1,449.2 L1177.3,452.4 L1177.4,448.8 L1177.6,448.7 L1177.7,447.8 L1177.9,450.0 L1178.0,450.3 L1178.2,452.5 L1178.3,452.3 L1178.5,453.5 L1178.6,452.5 L1178.8,452.8 L1178.9,449.8 L1179.1,453.5 L1179.2,449.5 L1179.4,451.0 L1179.5,448.6 L1179.7,451.1 L1179.8,451.1 L1180.0,448.5 L1180.1,452.5 L1180.3,451.8 L1180.4,449.8 L1180.6,447.8 L1180.7,451.6 L1180.9,449.3 L1181.0,453.6 L1181.2,449.8 L1181.3,451.1 L1181.5,450.1 L1181.6,453.5 L1181.8,450.0 L1181.9,453.4 L1182.1,449.4 L1182.2,453.0 L1182.4,446.5 L1182.5,455.1 L1182.7,451.0 L1182.8,451.5 L1183.0,449.9 L1183.1,454.1 L1183.3,450.9 L1183.4,449.8 L1183.6,450.7 L1183.7,450.9 L1183.9,449.0 L1184.0,449.8 L1184.2,451.9 L1184.3,449.6 L1184.5,448.9 L1184.6,451.7 L1184.8,449.4 L1184.9,449.7 L1185.1,450.9 L1185.2,450.4 L1185.4,448.8 L1185.5,448.5 L1185.7,448.9 L1185.8,448.0 L1186.0,452.9 L1186.1,449.4 L1186.3,452.6 L1186.4,450.3 L1186.6,452.5 L1186.7,449.9 L1186.9,453.1 L1187.0,449.6 L1187.2,449.2 L1187.3,450.9 L1187.5,453.4 L1187.6,452.4 L1187.8,449.0 L1187.9,451.6 L1188.1,450.0 L1188.2,452.0 L1188.4,451.4 L1188.5,452.0 L1188.7,450.7 L1188.8,449.6 L1189.0,448.3 L1189.1,449.3 L1189.3,450.0 L1189.4,448.8 L1189.6,451.2 L1189.7,450.4 L1189.9,447.9 L1190.0,449.8 L1190.2,447.2 L1190.3,443.7 L1190.5,440.3 L1190.6,440.0 L1190.8,438.9 L1190.9,438.2 L1191.1,438.0 L1191.2,440.1 L1191.4,441.9 L1191.5,443.0 L1191.7,446.3 L1191.8,445.1 L1192.0,447.9 L1192.1,450.6 L1192.3,448.3 L1192.4,449.1 L1192.6,450.4 L1192.7,450.3 L1192.9,452.2 L1193.0,452.1 L1193.2,450.1 L1193.3,450.9 L1193.5,454.5 L1193.6,450.6 L1193.8,451.3 L1193.9,450.9 L1194.1,453.7 L1194.2,452.4 L1194.4,452.0 L1194.5,453.4 L1194.7,452.8 L1194.8,449.6 L1195.0,451.2 L1195.1,451.1 L1195.3,453.4 L1195.4,455.2 L1195.6,449.8 L1195.7,450.7 L1195.9,454.1 L1196.0,450.0 L1196.2,449.2 L1196.3,447.3 L1196.5,444.5 L1196.6,445.9 L1196.8,445.6 L1196.9,442.4 L1197.1,442.4 L1197.2,441.8 L1197.4,443.3 L1197.5,444.4 L1197.7,445.5 L1197.8,448.5 L1198.0,446.0 L1198.1,442.5 L1198.3,453.6 L1198.4,450.2 L1198.6,449.9 L1198.7,452.0 L1198.9,451.1 L1199.0,448.8 L1199.2,454.2 L1199.3,450.3 L1199.5,451.6 L1199.6,451.0 L1199.8,449.3 L1199.9,448.8 L1200.1,451.9 L1200.2,451.3 L1200.4,452.2 L1200.5,450.9 L1200.7,451.1 L1200.8,452.4 L1201.0,448.5 L1201.1,452.5 L1201.3,454.8 L1201.4,449.5 L1201.6,451.4 L1201.7,449.8 L1201.9,454.3 L1202.0,450.7 L1202.2,451.2 L1202.3,452.5 L1202.5,449.6 L1202.6,447.1 L1202.8,453.4 L1202.9,453.3 L1203.1,450.3 L1203.2,454.1 L1203.4,452.8 L1203.5,451.9 L1203.7,452.7 L1203.8,451.3 L1204.0,453.7 L1204.1,453.5 L1204.3,451.7 L1204.4,451.4 L1204.6,456.6 L1204.7,451.2 L1204.9,454.4 L1205.0,452.2 L1205.2,452.8 L1205.3,451.5 L1205.5,449.7 L1205.6,449.8 L1205.8,452.0 L1205.9,452.4 L1206.1,452.2 L1206.2,450.5 L1206.4,450.9 L1206.5,451.3 L1206.7,450.1 L1206.8,450.6 L1207.0,450.2 L1207.1,449.4 L1207.3,451.9 L1207.4,450.5 L1207.6,452.7 L1207.7,449.6 L1207.9,452.4 L1208.0,448.6 L1208.2,448.9 L1208.3,449.5 L1208.5,451.3 L1208.6,450.9 L1208.8,452.1 L1208.9,450.1 L1209.1,450.3 L1209.2,448.4 L1209.4,452.0 L1209.5,451.1 L1209.7,451.4 L1209.8,448.5 L1210.0,453.5 L1210.1,453.3 L1210.3,452.4 L1210.4,451.4 L1210.6,450.5 L1210.7,452.2 L1210.9,449.9 L1211.0,449.0 L1211.2,452.7 L1211.3,450.2 L1211.5,448.7 L1211.6,452.6 L1211.8,453.0 L1211.9,449.3 L1212.1,452.3 L1212.2,448.0 L1212.4,453.1 L1212.5,454.0 L1212.7,452.8 L1212.8,452.1 L1213.0,452.2 L1213.1,452.8 L1213.3,452.7 L1213.4,453.2 L1213.6,450.9 L1213.7,451.9 L1213.9,451.7 L1214.0,450.6 L1214.2,451.1 L1214.3,453.1 L1214.5,449.7 L1214.6,450.9 L1214.8,450.8 L1214.9,451.0 L1215.1,450.5 L1215.2,451.7 L1215.4,453.7 L1215.5,449.8 L1215.7,451.3 L1215.8,452.7 L1216.0,454.6 L1216.1,452.8 L1216.3,453.4 L1216.4,451.4 L1216.6,452.7 L1216.7,454.5 L1216.9,452.0 L1217.0,455.9 L1217.2,453.3 L1217.3,451.0 L1217.5,452.6 L1217.6,457.6 L1217.8,453.9 L1217.9,452.0 L1218.1,451.5 L1218.2,450.9 L1218.4,456.2 L1218.5,453.2 L1218.7,450.8 L1218.8,454.4 L1219.0,455.1 L1219.1,454.5 L1219.3,451.7 L1219.4,451.8 L1219.6,454.2 L1219.7,452.8 L1219.9,454.3 L1220.0,453.8 L1220.2,449.2 L1220.3,450.5 L1220.5,448.2 L1220.6,450.3 L1220.8,447.5 L1220.9,443.8 L1221.1,442.9 L1221.2,439.6 L1221.4,440.9 L1221.5,439.5 L1221.7,437.7 L1221.8,437.3 L1222.0,437.2 L1222.1,438.0 L1222.3,441.3 L1222.4,444.3 L1222.6,447.0 L1222.7,446.4 L1222.9,449.2 L1223.0,448.5 L1223.2,455.2 L1223.3,452.0 L1223.5,452.3 L1223.6,448.4 L1223.8,452.6 L1223.9,450.7 L1224.1,445.4 L1224.2,448.1 L1224.4,444.1 L1224.5,444.0 L1224.7,443.6 L1224.8,436.9 L1225.0,442.3 L1225.1,434.4 L1225.3,436.9 L1225.4,435.4 L1225.6,439.6 L1225.7,445.0 L1225.9,444.5 L1226.0,445.7 L1226.2,445.1 L1226.3,449.6 L1226.5,452.1 L1226.6,452.3 L1226.8,453.4 L1226.9,453.9 L1227.1,454.3 L1227.2,455.0 L1227.4,452.0 L1227.5,451.6 L1227.7,456.0 L1227.8,451.2 L1228.0,456.4 L1228.1,454.1 L1228.3,454.7 L1228.4,455.2 L1228.6,452.6 L1228.7,453.1 L1228.9,450.8 L1229.0,453.2 L1229.2,453.2 L1229.3,450.7 L1229.5,453.4 L1229.6,454.9 L1229.8,455.6 L1229.9,453.1 L1230.1,452.6 L1230.2,453.4 L1230.4,453.3 L1230.5,453.8 L1230.7,455.4 L1230.8,451.2 L1231.0,453.1 L1231.1,453.6 L1231.3,449.3 L1231.4,450.4 L1231.6,450.3 L1231.7,450.6 L1231.9,449.1 L1232.0,446.8 L1232.2,447.6 L1232.3,442.9 L1232.5,441.6 L1232.6,436.8 L1232.8,438.8 L1232.9,436.1 L1233.1,437.1 L1233.2,437.0 L1233.4,445.4 L1233.5,440.4 L1233.7,442.8 L1233.8,445.0 L1234.0,448.2 L1234.1,447.3 L1234.3,448.6 L1234.4,449.9 L1234.6,449.5 L1234.7,448.6 L1234.9,450.8 L1235.0,453.0 L1235.2,451.0 L1235.3,449.1 L1235.5,445.8 L1235.6,450.5 L1235.8,450.4 L1235.9,452.1 L1236.1,450.7 L1236.2,449.5 L1236.4,447.0 L1236.5,448.4 L1236.7,451.7 L1236.8,450.3 L1237.0,450.5 L1237.1,447.1 L1237.3,452.5 L1237.4,452.6 L1237.6,448.9 L1237.7,450.3 L1237.9,450.9 L1238.0,454.1 L1238.2,451.1 L1238.3,449.8 L1238.5,450.3 L1238.6,447.0 L1238.8,454.3 L1238.9,455.0 L1239.1,453.1 L1239.2,449.4 L1239.4,452.8 L1239.5,450.8 L1239.7,453.1 L1239.8,452.4 L1240.0,454.7 L1240.1,453.2 L1240.3,448.8 L1240.4,450.6 L1240.6,451.2 L1240.7,451.4 L1240.9,453.5 L1241.0,451.3 L1241.2,451.4 L1241.3,452.9 L1241.5,450.5 L1241.6,451.9 L1241.8,452.3 L1241.9,454.6 L1242.1,451.5 L1242.2,450.4 L1242.4,454.5 L1242.5,453.2 L1242.7,452.5 L1242.8,452.7 L1243.0,450.3 L1243.1,450.6 L1243.3,446.8 L1243.4,454.4 L1243.6,451.7 L1243.7,449.3 L1243.9,450.1 L1244.0,452.5 L1244.2,450.8 L1244.3,455.3 L1244.5,456.4 L1244.6,451.5 L1244.8,449.4 L1244.9,452.7 L1245.1,452.9 L1245.2,450.9 L1245.4,453.7 L1245.5,452.6 L1245.7,452.1 L1245.8,451.4 L1246.0,450.6 L1246.1,451.0 L1246.3,450.5 L1246.4,450.3 L1246.6,453.4 L1246.7,453.6 L1246.9,454.8 L1247.0,453.2 L1247.2,453.5 L1247.3,449.3 L1247.5,453.5 L1247.6,452.8 L1247.8,453.1 L1247.9,454.1 L1248.1,451.8 L1248.2,452.1 L1248.4,450.0 L1248.5,453.9 L1248.7,451.0 L1248.8,455.8 L1249.0,454.3 L1249.1,455.5 L1249.3,454.6 L1249.4,454.0 L1249.6,455.0 L1249.7,453.0 L1249.9,453.4 L1250.0,452.1 L1250.2,455.7 L1250.3,453.7 L1250.5,455.8 L1250.6,459.3 L1250.8,454.6 L1250.9,454.6 L1251.1,456.6 L1251.2,457.6 L1251.4,451.8 L1251.5,455.1 L1251.7,456.2 L1251.8,454.7 L1252.0,450.8 L1252.1,453.5 L1252.3,454.2 L1252.4,451.8 L1252.6,455.7 L1252.7,454.8 L1252.9,455.8 L1253.0,453.6 L1253.2,453.5 L1253.3,452.9 L1253.5,453.3 L1253.6,453.8 L1253.8,450.9 L1253.9,454.6 L1254.1,451.0 L1254.2,454.9 L1254.4,453.8 L1254.5,452.4 L1254.7,453.2 L1254.8,454.0 L1255.0,455.4 L1255.1,453.6 L1255.3,452.6 L1255.4,453.8 L1255.6,451.1 L1255.7,449.3 L1255.9,447.1 L1256.0,449.4 L1256.2,443.8 L1256.3,440.9 L1256.5,437.8 L1256.6,433.4 L1256.8,428.9 L1256.9,428.0 L1257.1,423.0 L1257.2,422.9 L1257.4,420.6 L1257.5,420.8 L1257.7,421.8 L1257.8,420.7 L1258.0,423.3 L1258.1,431.6 L1258.3,433.3 L1258.4,438.2 L1258.6,441.9 L1258.7,444.8 L1258.9,448.0 L1259.0,447.4 L1259.2,447.5 L1259.3,449.5 L1259.5,450.6 L1259.6,452.5 L1259.8,452.1 L1259.9,451.6 L1260.1,451.8 L1260.2,452.3 L1260.4,453.2 L1260.5,452.0 L1260.7,453.9 L1260.8,452.3 L1261.0,451.7 L1261.1,453.9 L1261.3,452.6 L1261.4,453.4 L1261.6,456.6 L1261.7,449.4 L1261.9,450.7 L1262.0,453.6 L1262.2,452.4 L1262.3,449.3 L1262.5,455.8 L1262.6,452.7 L1262.8,456.3 L1262.9,451.1 L1263.1,452.3 L1263.2,451.0 L1263.4,450.5 L1263.5,451.8 L1263.7,452.7 L1263.8,454.1 L1264.0,454.1 L1264.1,452.7 L1264.3,453.2 L1264.4,453.4 L1264.6,453.8 L1264.7,457.2 L1264.9,450.3 L1265.0,455.2 L1265.2,453.9 L1265.3,453.8 L1265.5,453.4 L1265.6,452.4 L1265.8,452.6 L1265.9,452.6 L1266.1,455.7 L1266.2,452.4 L1266.4,452.0 L1266.5,453.0 L1266.7,453.5 L1266.8,452.6 L1267.0,453.1 L1267.1,453.7 L1267.3,451.9 L1267.4,452.2 L1267.6,455.3 L1267.7,454.6 L1267.9,451.6 L1268.0,450.3 L1268.2,454.9 L1268.3,448.8 L1268.5,452.6 L1268.6,453.6 L1268.8,454.7 L1268.9,453.8 L1269.1,450.9 L1269.2,449.2 L1269.4,450.9 L1269.5,454.5 L1269.7,454.7 L1269.8,452.7 L1270.0,450.8 L1270.1,453.4 L1270.3,453.9 L1270.4,453.7 L1270.6,453.3 L1270.7,452.4 L1270.9,451.2 L1271.0,452.4 L1271.2,451.9 L1271.3,452.9 L1271.5,452.8 L1271.6,452.1 L1271.8,452.3 L1271.9,452.0 L1272.1,451.1 L1272.2,452.5 L1272.4,451.8 L1272.5,451.0 L1272.7,452.3 L1272.8,452.5 L1273.0,452.4 L1273.1,452.0 L1273.3,456.6 L1273.4,456.4 L1273.6,453.9 L1273.7,452.8 L1273.9,452.7 L1274.0,453.3 L1274.2,451.5 L1274.3,449.9 L1274.5,451.6 L1274.6,453.4 L1274.8,451.7 L1274.9,453.4 L1275.1,449.9 L1275.2,455.0 L1275.4,455.0 L1275.5,452.0 L1275.7,449.7 L1275.8,452.7 L1276.0,454.9 L1276.1,454.5 L1276.3,451.9 L1276.4,453.1 L1276.6,454.1 L1276.7,450.4 L1276.9,453.0 L1277.0,451.5 L1277.2,455.0 L1277.3,451.7 L1277.5,452.0 L1277.6,454.8 L1277.8,453.6 L1277.9,453.5 L1278.1,455.7 L1278.2,453.1 L1278.4,452.2 L1278.5,452.8 L1278.7,454.4 L1278.8,454.4 L1279.0,454.5 L1279.1,451.0 L1279.3,456.4 L1279.4,451.9 L1279.6,454.0 L1279.7,454.7 L1279.9,453.3 L1280.0,452.4 L1280.2,452.8 L1280.3,453.1 L1280.5,451.6 L1280.6,452.8 L1280.8,448.2 L1280.9,452.2 L1281.1,454.4 L1281.2,451.7 L1281.4,455.7 L1281.5,454.9 L1281.7,452.6 L1281.8,455.3 L1282.0,454.3 L1282.1,451.5 L1282.3,452.0 L1282.4,452.6 L1282.6,453.1 L1282.7,452.6 L1282.9,457.2 L1283.0,453.0 L1283.2,451.8 L1283.3,447.4 L1283.5,449.7 L1283.6,455.6 L1283.8,451.9 L1283.9,454.7 L1284.1,451.4 L1284.2,454.1 L1284.4,450.6 L1284.5,452.8 L1284.7,449.6 L1284.8,451.3 L1285.0,451.2 L1285.1,452.6 L1285.3,452.9 L1285.4,450.9 L1285.6,451.9 L1285.7,452.5 L1285.9,450.5 L1286.0,450.4 L1286.2,449.8 L1286.3,451.1 L1286.5,451.2 L1286.6,449.0 L1286.8,449.8 L1286.9,448.0 L1287.1,450.1 L1287.2,449.1 L1287.4,452.8 L1287.5,448.0 L1287.7,450.6 L1287.8,448.1 L1288.0,448.3 L1288.1,453.2 L1288.3,450.4 L1288.4,452.1 L1288.6,449.4 L1288.7,448.3 L1288.9,451.2 L1289.0,448.3 L1289.2,454.4 L1289.3,452.7 L1289.5,451.0 L1289.6,453.3 L1289.8,451.6 L1289.9,449.2 L1290.1,451.8 L1290.2,454.0 L1290.4,452.2 L1290.5,450.8 L1290.7,450.7 L1290.8,450.5 L1291.0,446.1 L1291.1,446.4 L1291.3,444.9 L1291.4,441.4 L1291.6,444.5 L1291.7,442.1 L1291.9,440.7 L1292.0,442.1 L1292.2,444.5 L1292.3,446.0 L1292.5,447.1 L1292.6,446.2 L1292.8,451.0 L1292.9,449.9 L1293.1,452.7 L1293.2,453.4 L1293.4,452.1 L1293.5,454.5 L1293.7,451.4 L1293.8,452.8 L1294.0,452.3 L1294.1,450.4 L1294.3,452.1 L1294.4,451.6 L1294.6,454.7 L1294.7,450.5 L1294.9,448.2 L1295.0,454.6 L1295.2,452.9 L1295.3,451.9 L1295.5,452.8 L1295.6,452.8 L1295.8,451.2 L1295.9,452.4 L1296.1,452.3 L1296.2,456.2 L1296.4,449.0 L1296.5,453.1 L1296.7,450.8 L1296.8,454.5 L1297.0,453.4 L1297.1,455.8 L1297.3,456.5 L1297.4,455.6 L1297.6,453.3 L1297.7,448.9 L1297.9,452.8 L1298.0,452.0 L1298.2,451.3 L1298.3,451.6 L1298.5,448.1 L1298.6,452.4 L1298.8,456.1 L1298.9,451.5 L1299.1,452.8 L1299.2,453.8 L1299.4,457.4 L1299.5,452.2 L1299.7,456.3 L1299.8,453.5 L1300.0,451.9 L1300.1,451.7 L1300.3,453.3 L1300.4,451.7 L1300.6,453.8 L1300.7,452.7 L1300.9,450.6 L1301.0,450.4 L1301.2,451.6 L1301.3,451.3 L1301.5,451.1 L1301.6,452.9 L1301.8,453.6 L1301.9,451.1 L1302.1,453.1 L1302.2,448.3 L1302.4,450.6 L1302.5,450.1 L1302.7,452.9 L1302.8,454.4 L1303.0,449.5 L1303.1,451.2 L1303.3,452.2 L1303.4,451.0 L1303.6,451.8 L1303.7,451.7 L1303.9,451.0 L1304.0,452.4 L1304.2,449.9 L1304.3,449.4 L1304.5,450.7 L1304.6,449.0 L1304.8,450.9 L1304.9,452.1 L1305.1,448.4 L1305.2,450.9 L1305.4,448.8 L1305.5,449.1 L1305.7,449.3 L1305.8,450.4 L1306.0,449.5 L1306.1,451.2 L1306.3,449.8 L1306.4,448.8 L1306.6,451.6 L1306.7,450.8 L1306.9,451.0 L1307.0,451.6 L1307.2,451.3 L1307.3,450.2 L1307.5,448.1 L1307.6,453.4 L1307.8,451.1 L1307.9,451.0 L1308.1,452.0 L1308.2,452.7 L1308.4,450.2 L1308.5,450.6 L1308.7,450.6 L1308.8,450.2 L1309.0,453.3 L1309.1,451.0 L1309.3,451.6 L1309.4,454.2 L1309.6,450.1 L1309.7,450.2 L1309.9,452.6 L1310.0,454.1 L1310.2,453.1 L1310.3,450.8 L1310.5,454.1 L1310.6,453.2 L1310.8,450.5 L1310.9,455.0 L1311.1,450.5 L1311.2,450.5 L1311.4,450.3 L1311.5,455.1 L1311.7,451.2 L1311.8,450.7 L1312.0,451.9 L1312.1,454.1 L1312.3,455.1 L1312.4,454.6 L1312.6,452.1 L1312.7,453.6 L1312.9,456.1 L1313.0,454.9 L1313.2,453.7 L1313.3,454.5 L1313.5,453.5 L1313.6,451.3 L1313.8,452.8 L1313.9,453.7 L1314.1,453.4 L1314.2,451.8 L1314.4,450.2 L1314.5,454.9 L1314.7,452.3 L1314.8,454.0 L1315.0,453.4 L1315.1,453.1 L1315.3,450.6 L1315.4,452.5 L1315.6,451.5 L1315.7,453.2 L1315.9,454.1 L1316.0,456.5 L1316.2,453.0 L1316.3,454.8 L1316.5,453.1 L1316.6,452.9 L1316.8,452.5 L1316.9,453.0 L1317.1,451.8 L1317.2,452.4 L1317.4,449.9 L1317.5,452.7 L1317.7,454.0 L1317.8,452.9 L1318.0,450.7 L1318.1,446.8 L1318.3,454.9 L1318.4,452.0 L1318.6,452.0 L1318.7,452.6 L1318.9,450.6 L1319.0,454.2 L1319.2,449.5 L1319.3,453.0 L1319.5,449.5 L1319.6,451.1 L1319.8,449.9 L1319.9,449.4 L1320.1,450.7 L1320.2,454.8 L1320.4,451.1 L1320.5,448.1 L1320.7,450.9 L1320.8,451.3 L1321.0,450.7 L1321.1,454.2 L1321.3,454.4 L1321.4,449.8 L1321.6,450.3 L1321.7,449.5 L1321.9,451.3 L1322.0,450.7 L1322.2,451.0 L1322.3,449.3 L1322.5,452.1 L1322.6,452.0 L1322.8,449.3 L1322.9,451.5 L1323.1,447.7 L1323.2,455.8 L1323.4,453.4 L1323.5,450.5 L1323.7,450.9 L1323.8,454.5 L1324.0,451.7 L1324.1,450.2 L1324.3,451.8 L1324.4,451.0 L1324.6,452.2 L1324.7,450.9 L1324.9,451.5 L1325.0,452.9 L1325.2,452.6 L1325.3,455.1 L1325.5,451.5 L1325.6,452.6 L1325.8,453.7 L1325.9,450.9 L1326.1,449.5 L1326.2,450.7 L1326.4,449.5 L1326.5,455.0 L1326.7,451.9 L1326.8,451.7 L1327.0,453.6 L1327.1,451.2 L1327.3,454.2 L1327.4,451.8 L1327.6,452.1 L1327.7,449.7 L1327.9,450.2 L1328.0,450.1 L1328.2,453.2 L1328.3,448.7 L1328.5,450.0 L1328.6,453.6 L1328.8,450.9 L1328.9,453.0 L1329.1,449.1 L1329.2,448.6 L1329.4,450.5 L1329.5,446.8 L1329.7,447.5 L1329.8,446.4 L1330.0,446.6 L1330.1,447.7 L1330.3,446.0 L1330.4,442.7 L1330.6,445.8 L1330.7,446.0 L1330.9,442.4 L1331.0,446.5 L1331.2,442.7 L1331.3,446.4 L1331.5,446.2 L1331.6,445.6 L1331.8,445.1 L1331.9,448.0 L1332.1,446.1 L1332.2,444.1 L1332.4,444.2 L1332.5,445.4 L1332.7,446.6 L1332.8,448.8 L1333.0,447.4 L1333.1,454.3 L1333.3,452.1 L1333.4,451.3 L1333.6,451.5 L1333.7,452.1 L1333.9,449.8 L1334.0,453.9 L1334.2,455.3 L1334.3,450.4 L1334.5,454.4 L1334.6,454.6 L1334.8,453.7 L1334.9,453.2 L1335.1,453.0 L1335.2,453.2 L1335.4,455.5 L1335.5,453.0 L1335.7,451.9 L1335.8,449.4 L1336.0,454.6 L1336.1,454.0 L1336.3,454.7 L1336.4,456.2 L1336.6,454.1 L1336.7,452.3 L1336.9,452.4 L1337.0,449.4 L1337.2,452.1 L1337.3,452.4 L1337.5,452.1 L1337.6,450.7 L1337.8,451.2 L1337.9,448.4 L1338.1,451.8 L1338.2,452.0 L1338.4,453.1 L1338.5,453.2 L1338.7,453.3 L1338.8,455.4 L1339.0,450.5 L1339.1,451.0 L1339.3,450.1 L1339.4,452.9 L1339.6,451.7 L1339.7,448.7 L1339.9,452.6 L1340.0,451.8 L1340.2,449.8 L1340.3,449.8 L1340.5,454.1 L1340.6,457.3 L1340.8,451.4 L1340.9,453.1 L1341.1,452.3 L1341.2,450.8 L1341.4,452.5 L1341.5,451.5 L1341.7,453.2 L1341.8,450.8 L1342.0,452.7 L1342.1,455.1 L1342.3,453.9 L1342.4,454.9 L1342.6,453.4 L1342.7,452.2 L1342.9,452.5 L1343.0,452.1 L1343.2,451.7 L1343.3,450.7 L1343.5,449.3 L1343.6,449.1 L1343.8,450.1 L1343.9,451.7 L1344.1,446.3 L1344.2,447.7 L1344.4,443.2 L1344.5,448.4 L1344.7,448.8 L1344.8,447.0 L1345.0,444.6 L1345.1,449.0 L1345.3,449.6 L1345.4,449.9 L1345.6,452.9 L1345.7,452.8 L1345.9,450.2 L1346.0,452.0 L1346.2,452.7 L1346.3,450.7 L1346.5,451.2 L1346.6,451.2 L1346.8,450.1 L1346.9,454.1 L1347.1,454.1 L1347.2,451.5 L1347.4,452.7 L1347.5,452.6 L1347.7,449.7 L1347.8,452.8 L1348.0,451.4 L1348.1,450.7 L1348.3,454.8 L1348.4,452.5 L1348.6,455.7 L1348.7,453.0 L1348.9,454.5 L1349.0,454.6 L1349.2,453.6 L1349.3,454.1 L1349.5,452.4 L1349.6,452.8 L1349.8,454.3 L1349.9,453.0 L1350.1,453.8 L1350.2,455.1 L1350.4,451.4 L1350.5,452.7 L1350.7,454.5 L1350.8,454.2 L1351.0,454.0 L1351.1,451.9 L1351.3,453.6 L1351.4,451.7 L1351.6,454.0 L1351.7,450.5 L1351.9,452.3 L1352.0,454.6 L1352.2,451.8 L1352.3,454.1 L1352.5,456.4 L1352.6,453.8 L1352.8,455.9 L1352.9,452.9 L1353.1,454.8 L1353.2,453.8 L1353.4,452.0 L1353.5,451.7 L1353.7,454.9 L1353.8,453.1 L1354.0,451.8 L1354.1,452.1 L1354.3,453.7 L1354.4,454.3 L1354.6,455.4 L1354.7,454.1 L1354.9,452.8 L1355.0,454.8 L1355.2,461.8 L1355.3,453.6 L1355.5,455.4 L1355.6,453.3 L1355.8,454.1 L1355.9,454.8 L1356.1,452.3 L1356.2,455.2 L1356.4,453.0 L1356.5,454.6 L1356.7,452.8 L1356.8,452.8 L1357.0,450.5 L1357.1,454.1 L1357.3,452.1 L1357.4,451.9 L1357.6,453.3 L1357.7,451.9 L1357.9,450.7 L1358.0,452.7 L1358.2,454.4 L1358.3,453.7 L1358.5,452.4 L1358.6,452.5 L1358.8,455.7 L1358.9,453.8 L1359.1,449.0 L1359.2,453.1 L1359.4,454.3 L1359.5,452.7 L1359.7,452.2 L1359.8,453.3 L1360.0,451.7 L1360.1,454.3 L1360.3,453.7 L1360.4,454.2 L1360.6,452.9 L1360.7,453.6 L1360.9,452.4 L1361.0,451.7 L1361.2,452.0 L1361.3,453.2 L1361.5,453.5 L1361.6,454.3 L1361.8,454.3 L1361.9,454.3 L1362.1,452.5 L1362.2,452.5 L1362.4,452.4 L1362.5,454.2 L1362.7,453.6 L1362.8,453.5 L1363.0,454.5 L1363.1,456.4 L1363.3,454.4 L1363.4,452.6 L1363.6,453.1 L1363.7,457.0 L1363.9,452.3 L1364.0,451.9 L1364.2,452.3 L1364.3,455.6 L1364.5,458.7 L1364.6,455.7 L1364.8,451.9 L1364.9,456.8 L1365.1,451.5 L1365.2,454.5 L1365.4,454.1 L1365.5,451.7 L1365.7,455.7 L1365.8,454.2 L1366.0,457.6 L1366.1,459.2 L1366.3,456.8 L1366.4,454.5 L1366.6,454.6 L1366.7,450.3 L1366.9,452.2 L1367.0,452.7 L1367.2,452.5 L1367.3,452.7 L1367.5,451.3 L1367.6,452.4 L1367.8,449.4 L1367.9,450.4 L1368.1,450.3 L1368.2,451.1 L1368.4,448.6 L1368.5,448.1 L1368.7,447.5 L1368.8,449.6 L1369.0,449.9 L1369.1,448.3 L1369.3,448.4 L1369.4,450.8 L1369.6,450.6 L1369.7,456.1 L1369.9,452.8 L1370.0,453.7 L1370.2,452.3 L1370.3,453.2 L1370.5,455.4 L1370.6,452.1 L1370.8,453.3 L1370.9,452.0 L1371.1,453.9 L1371.2,454.6 L1371.4,454.7 L1371.5,453.8 L1371.7,457.8 L1371.8,454.1 L1372.0,454.6 L1372.1,454.1 L1372.3,454.1 L1372.4,451.5 L1372.6,453.4 L1372.7,454.6 L1372.9,452.2 L1373.0,453.6 L1373.2,454.4 L1373.3,454.7 L1373.5,455.0 L1373.6,454.6 L1373.8,455.5 L1373.9,454.7 L1374.1,456.0 L1374.2,454.8 L1374.4,452.6 L1374.5,453.3 L1374.7,451.9 L1374.8,454.2 L1375.0,450.7 L1375.1,452.4 L1375.3,455.5 L1375.4,449.6 L1375.6,455.0 L1375.7,453.1 L1375.9,455.5 L1376.0,452.3 L1376.2,451.1 L1376.3,454.6 L1376.5,450.8 L1376.6,453.7 L1376.8,452.5 L1376.9,455.3 L1377.1,453.5 L1377.2,450.2 L1377.4,453.0 L1377.5,455.3 L1377.7,450.9 L1377.8,452.8 L1378.0,456.1 L1378.1,454.6 L1378.3,452.8 L1378.4,456.0 L1378.6,453.7 L1378.7,451.7 L1378.9,453.2 L1379.0,452.0 L1379.2,453.9 L1379.3,454.1 L1379.5,454.6 L1379.6,450.4 L1379.8,454.0 L1379.9,452.5 L1380.1,453.7 L1380.2,452.7 L1380.4,453.4 L1380.5,455.1 L1380.7,454.4 L1380.8,453.1 L1381.0,454.4 L1381.1,455.2 L1381.3,454.9 L1381.4,456.0 L1381.6,452.4 L1381.7,454.0 L1381.9,455.0 L1382.0,456.2 L1382.2,453.7 L1382.3,455.4 L1382.5,454.2 L1382.6,454.5 L1382.8,454.5 L1382.9,455.0 L1383.1,452.3 L1383.2,453.9 L1383.4,452.3 L1383.5,453.0 L1383.7,452.4 L1383.8,455.8 L1384.0,455.7 L1384.1,451.9 L1384.3,455.4 L1384.4,455.5 L1384.6,453.6 L1384.7,456.6 L1384.9,453.7 L1385.0,455.5 L1385.2,452.4 L1385.3,457.8 L1385.5,453.1 L1385.6,455.5 L1385.8,455.0 L1385.9,452.8 L1386.1,453.4 L1386.2,449.9 L1386.4,453.5 L1386.5,453.9 L1386.7,453.1 L1386.8,452.4 L1387.0,453.7 L1387.1,453.5 L1387.3,451.0 L1387.4,454.1 L1387.6,453.1 L1387.7,454.5 L1387.9,457.8 L1388.0,453.3 L1388.2,452.0 L1388.3,455.1 L1388.5,453.3 L1388.6,454.8 L1388.8,451.1 L1388.9,455.5 L1389.1,455.5 L1389.2,457.4 L1389.4,453.6 L1389.5,454.1 L1389.7,454.4 L1389.8,453.6 L1390.0,450.1 L1390.1,453.5 L1390.3,451.3 L1390.4,452.0 L1390.6,451.2 L1390.7,451.0 L1390.9,448.1 L1391.0,452.0 L1391.2,450.5 L1391.3,454.7 L1391.5,450.5 L1391.6,451.2 L1391.8,452.5 L1391.9,452.3 L1392.1,451.0 L1392.2,451.1 L1392.4,456.1 L1392.5,453.9 L1392.7,455.5 L1392.8,458.1 L1393.0,456.7 L1393.1,457.3 L1393.3,455.6 L1393.4,453.7 L1393.6,456.5 L1393.7,456.9 L1393.9,457.3 L1394.0,456.5 L1394.2,461.8 L1394.3,454.6 L1394.5,459.1 L1394.6,454.6 L1394.8,452.0 L1394.9,456.7 L1395.1,456.5 L1395.2,453.0 L1395.4,458.6 L1395.5,452.4 L1395.7,453.7 L1395.8,457.1 L1396.0,454.0 L1396.1,456.6 L1396.3,451.2 L1396.4,454.4 L1396.6,454.8 L1396.7,455.6 L1396.9,456.5 L1397.0,453.3 L1397.2,453.3 L1397.3,448.1 L1397.5,451.4 L1397.6,455.4 L1397.8,451.7 L1397.9,454.3 L1398.1,452.7 L1398.2,453.9 L1398.4,451.6 L1398.5,452.5 L1398.7,452.2 L1398.8,453.6 L1399.0,454.0 L1399.1,452.3 L1399.3,449.8 L1399.4,449.7 L1399.6,450.9 L1399.7,451.7 L1399.9,451.3 L1400.0,455.1 L1400.2,451.9 L1400.3,456.0 L1400.5,453.4 L1400.6,449.7 L1400.8,453.1 L1400.9,453.2 L1401.1,452.4 L1401.2,453.0 L1401.4,453.4 L1401.5,453.1 L1401.7,451.3 L1401.8,453.7 L1402.0,454.4 L1402.1,451.1 L1402.3,454.1 L1402.4,453.9 L1402.6,455.3 L1402.7,454.3 L1402.9,455.7 L1403.0,450.6 L1403.2,453.0 L1403.3,456.9 L1403.5,456.5 L1403.6,453.3 L1403.8,453.2 L1403.9,456.7 L1404.1,451.0 L1404.2,454.5 L1404.4,456.9 L1404.5,454.9 L1404.7,452.3 L1404.8,458.1 L1405.0,454.3 L1405.1,452.8 L1405.3,456.8 L1405.4,454.9 L1405.6,456.4 L1405.7,453.7 L1405.9,456.3 L1406.0,455.8 L1406.2,454.7 L1406.3,455.7 L1406.5,455.2 L1406.6,455.9 L1406.8,452.6 L1406.9,455.2 L1407.1,457.7 L1407.2,457.6 L1407.4,456.6 L1407.5,459.2 L1407.7,454.9 L1407.8,454.4 L1408.0,453.9 L1408.1,454.4 L1408.3,455.2 L1408.4,452.7 L1408.6,454.7 L1408.7,455.9 L1408.9,452.7 L1409.0,455.1 L1409.2,455.2 L1409.3,456.1 L1409.5,454.7 L1409.6,455.9 L1409.8,458.0 L1409.9,454.7 L1410.1,456.3 L1410.2,456.1 L1410.4,453.0 L1410.5,456.1 L1410.7,455.5 L1410.8,456.2 L1411.0,453.5 L1411.1,455.6 L1411.3,452.0 L1411.4,454.9 L1411.6,458.6 L1411.7,453.4 L1411.9,454.7 L1412.0,456.1 L1412.2,456.2 L1412.3,456.7 L1412.5,454.6 L1412.6,455.1 L1412.8,455.3 L1412.9,455.9 L1413.1,456.3 L1413.2,459.4 L1413.4,457.3 L1413.5,456.9 L1413.7,459.1 L1413.8,457.7 L1414.0,459.6 L1414.1,457.5 L1414.3,453.6 L1414.4,455.5 L1414.6,457.5 L1414.7,458.4 L1414.9,460.6 L1415.0,456.5 L1415.2,461.4 L1415.3,457.4 L1415.5,455.9 L1415.6,457.6 L1415.8,462.8 L1415.9,456.4 L1416.1,457.7 L1416.2,458.2 L1416.4,456.4 L1416.5,457.4 L1416.7,458.6 L1416.8,455.5 L1417.0,457.4 L1417.1,458.9 L1417.3,455.4 L1417.4,456.7 L1417.6,460.0 L1417.7,454.9 L1417.9,458.5 L1418.0,457.5 L1418.2,459.6 L1418.3,457.5 L1418.5,455.3 L1418.6,455.0 L1418.8,457.2 L1418.9,462.6 L1419.1,458.7 L1419.2,454.7 L1419.4,456.7 L1419.5,457.2 L1419.7,456.2 L1419.8,455.8 L1420.0,454.3 L1420.1,459.0 L1420.3,456.8 L1420.4,457.6 L1420.6,457.6 L1420.7,453.6 L1420.9,457.4 L1421.0,456.8 L1421.2,457.1 L1421.3,455.4 L1421.5,457.5 L1421.6,457.2 L1421.8,454.8 L1421.9,456.6 L1422.1,458.9 L1422.2,454.0 L1422.4,456.0 L1422.5,456.0 L1422.7,458.5 L1422.8,455.5 L1423.0,457.3 L1423.1,453.8 L1423.3,456.7 L1423.4,452.5 L1423.6,454.6 L1423.7,455.6 L1423.9,455.9 L1424.0,454.0 L1424.2,456.9 L1424.3,454.7 L1424.5,455.5 L1424.6,454.9 L1424.8,458.8 L1424.9,457.2 L1425.1,457.3 L1425.2,455.1 L1425.4,456.7 L1425.5,453.7 L1425.7,461.0 L1425.8,458.0 L1426.0,455.9 L1426.1,458.1 L1426.3,453.4 L1426.4,458.8 L1426.6,459.6 L1426.7,455.2 L1426.9,456.9 L1427.0,458.4 L1427.2,456.4 L1427.3,456.1 L1427.5,455.8 L1427.6,459.0 L1427.8,457.9 L1427.9,454.9 L1428.1,458.0 L1428.2,458.0 L1428.4,461.9 L1428.5,454.1 L1428.7,459.7 L1428.8,458.1 L1429.0,457.0 L1429.1,456.6 L1429.3,456.7 L1429.4,456.7 L1429.6,456.6 L1429.7,457.1 L1429.9,455.3 L1430.0,454.6 L1430.2,455.6 L1430.3,455.0 L1430.5,455.6 L1430.6,457.2 L1430.8,455.7 L1430.9,454.5 L1431.1,454.7 L1431.2,454.8 L1431.4,457.3 L1431.5,457.2 L1431.7,457.7 L1431.8,458.7 L1432.0,456.5 L1432.1,455.7 L1432.3,453.9 L1432.4,456.4 L1432.6,456.2 L1432.7,457.0 L1432.9,456.0 L1433.0,457.5 L1433.2,457.0 L1433.3,457.0 L1433.5,457.9 L1433.6,457.7 L1433.8,457.5 L1433.9,456.1 L1434.1,456.8 L1434.2,457.5 L1434.4,460.1 L1434.5,456.5 L1434.7,454.3 L1434.8,456.6 L1435.0,456.9 L1435.1,459.3 L1435.3,457.7 L1435.4,456.0 L1435.6,457.7 L1435.7,455.9 L1435.9,457.4 L1436.0,454.7 L1436.2,456.6 L1436.3,457.6 L1436.5,458.0 L1436.6,458.2 L1436.8,458.6 L1436.9,456.5 L1437.1,458.7 L1437.2,455.2 L1437.4,456.8 L1437.5,457.3 L1437.7,454.6 L1437.8,455.1 L1438.0,455.1 L1438.1,454.8 L1438.3,457.6 L1438.4,455.6 L1438.6,453.8 L1438.7,456.3 L1438.9,458.2 L1439.0,454.8 L1439.2,455.4 L1439.3,455.5 L1439.5,455.1 L1439.6,456.0 L1439.8,454.8 L1439.9,456.9 L1440.1,454.9 L1440.2,455.0 L1440.4,454.2 L1440.5,453.4 L1440.7,455.6 L1440.8,456.0 L1441.0,456.2 L1441.1,457.0 L1441.3,456.2 L1441.4,455.6 L1441.6,456.4 L1441.7,457.5 L1441.9,457.1 L1442.0,458.2 L1442.2,457.7 L1442.3,455.5 L1442.5,457.7 L1442.6,456.2 L1442.8,456.0 L1442.9,459.9 L1443.1,456.4 L1443.2,458.1 L1443.4,457.8 L1443.5,457.0 L1443.7,457.6 L1443.8,458.3 L1444.0,458.9 L1444.1,453.1 L1444.3,460.4 L1444.4,456.2 L1444.6,457.6 L1444.7,461.1 L1444.9,455.7 L1445.0,457.4 L1445.2,460.5 L1445.3,455.8 L1445.5,455.2 L1445.6,456.3 L1445.8,457.5 L1445.9,455.6 L1446.1,454.7 L1446.2,454.9 L1446.4,456.4 L1446.5,455.6 L1446.7,456.0 L1446.8,456.9 L1447.0,457.7 L1447.1,458.3 L1447.3,455.4 L1447.4,457.7 L1447.6,456.8 L1447.7,457.2 L1447.9,459.8 L1448.0,456.3 L1448.2,458.1 L1448.3,458.8 L1448.5,456.5 L1448.6,457.2 L1448.8,461.5 L1448.9,457.6 L1449.1,459.1 L1449.2,460.0 L1449.4,457.3 L1449.5,458.8 L1449.7,457.2 L1449.8,456.4 L1450.0,452.5 L1450.1,457.8 L1450.3,456.4 L1450.4,454.8 L1450.6,463.0 L1450.7,458.7 L1450.9,458.0 L1451.0,456.9 L1451.2,455.5 L1451.3,457.5 L1451.5,458.7 L1451.6,455.3 L1451.8,457.4 L1451.9,457.1 L1452.1,456.4 L1452.2,455.8 L1452.4,458.6 L1452.5,457.1 L1452.7,459.6 L1452.8,458.4 L1453.0,455.8 L1453.1,458.0 L1453.3,457.1 L1453.4,460.3 L1453.6,459.4 L1453.7,458.1 L1453.9,457.7 L1454.0,457.3 L1454.2,457.6 L1454.3,460.3 L1454.5,459.0 L1454.6,459.0 L1454.8,459.0 L1454.9,458.0 L1455.1,460.2 L1455.2,459.6 L1455.4,456.6 L1455.5,457.7 L1455.7,458.7 L1455.8,457.2 L1456.0,455.7 L1456.1,457.1 L1456.3,457.6 L1456.4,456.4 L1456.6,457.5 L1456.7,457.0 L1456.9,456.0 L1457.0,455.7 L1457.2,457.3 L1457.3,455.7 L1457.5,456.9 L1457.6,457.6 L1457.8,455.8 L1457.9,455.6 L1458.1,458.9 L1458.2,457.7 L1458.4,457.8 L1458.5,457.7 L1458.7,456.6 L1458.8,457.0 L1459.0,455.8 L1459.1,457.8 L1459.3,453.5 L1459.4,457.2 L1459.6,455.8 L1459.7,457.6 L1459.9,459.0 L1460.0,455.9 L1460.2,458.7 L1460.3,456.5 L1460.5,457.0 L1460.6,458.2 L1460.8,460.0 L1460.9,456.8 L1461.1,459.5 L1461.2,458.6 L1461.4,456.9 L1461.5,455.1 L1461.7,457.5 L1461.8,452.1 L1462.0,457.5 L1462.1,456.6 L1462.3,456.9 L1462.4,457.9 L1462.6,457.0 L1462.7,458.1 L1462.9,456.8 L1463.0,457.3 L1463.2,455.9 L1463.3,456.5 L1463.5,455.7 L1463.6,458.4 L1463.8,454.3 L1463.9,457.6 L1464.1,459.7 L1464.2,460.5 L1464.4,456.7 L1464.5,457.8 L1464.7,455.6 L1464.8,454.1 L1465.0,458.3 L1465.1,458.0 L1465.3,458.0 L1465.4,458.2 L1465.6,459.2 L1465.7,454.2 L1465.9,457.8 L1466.0,455.8 L1466.2,456.9 L1466.3,457.1 L1466.5,458.7 L1466.6,454.0 L1466.8,454.5 L1466.9,455.4 L1467.1,458.2 L1467.2,455.6 L1467.4,455.1 L1467.5,453.9 L1467.7,453.4 L1467.8,457.4 L1468.0,456.2 L1468.1,458.6 L1468.3,457.1 L1468.4,453.9 L1468.6,457.8 L1468.7,454.7 L1468.9,454.0 L1469.0,454.3 L1469.2,456.8 L1469.3,456.5 L1469.5,454.8 L1469.6,457.8 L1469.8,454.2 L1469.9,456.0 L1470.1,454.6 L1470.2,455.8 L1470.4,458.3 L1470.5,457.3 L1470.7,453.5 L1470.8,458.6 L1471.0,455.6 L1471.1,457.7 L1471.3,457.8 L1471.4,459.2 L1471.6,455.0 L1471.7,458.8 L1471.9,456.2 L1472.0,457.5 L1472.2,458.2 L1472.3,458.3 L1472.5,457.2 L1472.6,455.7 L1472.8,459.9 L1472.9,459.2 L1473.1,455.3 L1473.2,455.9 L1473.4,459.6 L1473.5,458.8 L1473.7,456.8 L1473.8,457.7 L1474.0,459.9 L1474.1,461.3 L1474.3,459.2 L1474.4,459.0 L1474.6,460.2 L1474.7,461.7 L1474.9,455.3 L1475.0,458.8 L1475.2,458.7 L1475.3,457.2 L1475.5,459.3 L1475.6,459.1 L1475.8,458.3 L1475.9,456.2 L1476.1,461.4 L1476.2,456.9 L1476.4,462.1 L1476.5,459.5 L1476.7,462.3 L1476.8,458.9 L1477.0,456.0" fill="none" stroke="#000" stroke-width="1.2" stroke-linejoin="round"/>
<path d="M991.8,189.5 L992.0,189.0 L992.1,188.2 L992.3,187.2 L992.4,185.7 L992.6,182.0 L992.7,178.1 L992.9,173.5 L993.0,168.0 L993.2,162.1 L993.3,157.3 L993.5,154.3 L993.6,153.8 L993.8,156.0 L993.9,160.2 L994.1,165.6 L994.2,171.0 L994.4,176.1 L994.5,180.4 L994.7,184.2 L994.8,186.9 L995.0,188.3 L995.1,189.3 L995.3,189.8 L995.3,191.0 L995.1,191.2 L995.0,191.3 L994.8,191.7 L994.7,191.6 L994.5,191.4 L994.4,191.6 L994.2,191.8 L994.1,192.1 L993.9,192.0 L993.8,192.0 L993.6,192.0 L993.5,192.1 L993.3,192.1 L993.2,192.2 L993.0,192.6 L992.9,192.4 L992.7,192.0 L992.6,191.7 L992.4,192.1 L992.3,191.4 L992.1,190.8 L992.0,190.7 L991.8,190.6Z M1026.8,192.6 L1026.9,191.7 L1027.1,190.9 L1027.2,189.7 L1027.4,188.4 L1027.5,186.9 L1027.7,185.1 L1027.8,183.8 L1028.0,182.9 L1028.1,181.8 L1028.3,181.5 L1028.4,181.6 L1028.6,182.2 L1028.7,183.9 L1028.9,185.8 L1029.0,187.2 L1029.2,189.0 L1029.3,190.9 L1029.5,192.0 L1029.6,192.5 L1029.8,193.3 L1029.8,194.8 L1029.6,194.7 L1029.5,195.1 L1029.3,195.1 L1029.2,194.5 L1029.0,194.3 L1028.9,194.5 L1028.7,194.2 L1028.6,193.9 L1028.4,194.2 L1028.3,194.4 L1028.1,194.4 L1028.0,194.6 L1027.8,194.2 L1027.7,193.8 L1027.5,194.0 L1027.4,194.0 L1027.2,193.9 L1027.1,194.0 L1026.9,193.9 L1026.8,194.0Z M1047.1,201.4 L1047.2,200.9 L1047.4,200.0 L1047.5,198.1 L1047.7,196.1 L1047.8,193.6 L1048.0,191.1 L1048.1,188.9 L1048.3,186.6 L1048.4,184.3 L1048.6,183.5 L1048.7,183.5 L1048.9,185.0 L1049.0,187.3 L1049.2,189.8 L1049.3,192.8 L1049.5,195.1 L1049.6,198.1 L1049.8,199.7 L1049.9,200.9 L1050.1,201.5 L1050.2,202.2 L1050.2,203.5 L1050.1,203.5 L1049.9,203.9 L1049.8,204.1 L1049.6,204.3 L1049.5,203.7 L1049.3,203.9 L1049.2,203.7 L1049.0,203.9 L1048.9,203.7 L1048.7,203.7 L1048.6,203.8 L1048.4,203.7 L1048.3,203.9 L1048.1,203.7 L1048.0,203.1 L1047.8,202.9 L1047.7,203.0 L1047.5,203.1 L1047.4,203.3 L1047.2,203.1 L1047.1,202.9Z M1080.2,206.6 L1080.4,206.0 L1080.5,205.5 L1080.7,204.9 L1080.8,203.0 L1081.0,200.5 L1081.1,196.8 L1081.3,191.8 L1081.4,185.5 L1081.6,177.4 L1081.7,169.2 L1081.9,160.9 L1082.0,153.7 L1082.2,148.6 L1082.3,146.9 L1082.5,148.7 L1082.6,153.8 L1082.8,160.9 L1082.9,169.0 L1083.1,177.3 L1083.2,184.9 L1083.4,191.6 L1083.5,196.5 L1083.7,200.2 L1083.8,203.0 L1084.0,204.4 L1084.1,206.3 L1084.3,207.5 L1084.4,208.1 L1084.4,209.2 L1084.3,209.0 L1084.1,208.5 L1084.0,207.7 L1083.8,208.1 L1083.7,207.9 L1083.5,208.0 L1083.4,208.2 L1083.2,207.8 L1083.1,207.8 L1082.9,207.7 L1082.8,207.8 L1082.6,207.9 L1082.5,207.7 L1082.3,207.8 L1082.2,207.6 L1082.0,207.7 L1081.9,207.8 L1081.7,207.9 L1081.6,207.9 L1081.4,208.5 L1081.3,208.4 L1081.1,208.3 L1081.0,208.3 L1080.8,208.1 L1080.7,208.2 L1080.5,207.7 L1080.4,207.5 L1080.2,207.7Z M1099.1,211.3 L1099.3,210.6 L1099.4,209.5 L1099.6,208.0 L1099.7,206.4 L1099.9,204.5 L1100.0,201.5 L1100.2,197.6 L1100.3,192.9 L1100.5,187.9 L1100.6,182.5 L1100.8,176.9 L1100.9,172.6 L1101.1,169.3 L1101.2,167.8 L1101.4,169.1 L1101.5,172.2 L1101.7,176.3 L1101.8,181.4 L1102.0,187.1 L1102.1,192.1 L1102.3,196.1 L1102.4,199.6 L1102.6,202.5 L1102.7,204.9 L1102.9,206.2 L1103.0,207.2 L1103.2,207.4 L1103.3,208.1 L1103.3,209.1 L1103.2,208.9 L1103.0,209.4 L1102.9,209.4 L1102.7,209.6 L1102.6,209.3 L1102.4,209.4 L1102.3,209.5 L1102.1,209.9 L1102.0,209.9 L1101.8,209.6 L1101.7,209.5 L1101.5,209.8 L1101.4,209.7 L1101.2,209.4 L1101.1,209.9 L1100.9,210.1 L1100.8,210.1 L1100.6,210.6 L1100.5,210.8 L1100.3,210.7 L1100.2,211.0 L1100.0,211.3 L1099.9,211.4 L1099.7,211.1 L1099.6,211.2 L1099.4,211.6 L1099.3,212.1 L1099.1,212.3Z M1117.9,210.5 L1118.0,209.9 L1118.2,209.3 L1118.3,208.3 L1118.5,207.3 L1118.6,205.5 L1118.8,203.6 L1118.9,200.9 L1119.1,197.7 L1119.2,194.8 L1119.4,192.1 L1119.5,190.2 L1119.7,189.2 L1119.8,189.5 L1120.0,190.7 L1120.1,193.4 L1120.3,195.8 L1120.4,198.7 L1120.6,202.0 L1120.7,204.7 L1120.9,206.6 L1121.0,207.8 L1121.2,209.6 L1121.3,210.3 L1121.5,211.2 L1121.5,212.6 L1121.3,212.3 L1121.2,212.6 L1121.0,212.0 L1120.9,212.6 L1120.7,212.8 L1120.6,212.6 L1120.4,212.1 L1120.3,212.0 L1120.1,212.3 L1120.0,211.6 L1119.8,211.7 L1119.7,211.7 L1119.5,211.7 L1119.4,211.7 L1119.2,211.9 L1119.1,212.0 L1118.9,212.4 L1118.8,212.4 L1118.6,212.1 L1118.5,212.0 L1118.3,211.6 L1118.2,211.5 L1118.0,211.4 L1117.9,211.5Z M1125.5,210.4 L1125.7,210.2 L1125.8,209.3 L1126.0,208.1 L1126.1,206.9 L1126.3,204.6 L1126.4,202.1 L1126.6,199.0 L1126.7,195.6 L1126.9,192.9 L1127.0,191.3 L1127.2,190.0 L1127.3,190.0 L1127.5,191.3 L1127.6,194.3 L1127.8,197.6 L1127.9,200.8 L1128.1,203.8 L1128.2,206.6 L1128.4,208.8 L1128.5,209.9 L1128.7,211.5 L1128.8,212.6 L1129.0,212.8 L1129.0,213.9 L1128.8,214.2 L1128.7,213.9 L1128.5,213.5 L1128.4,214.0 L1128.2,214.0 L1128.1,213.9 L1127.9,214.0 L1127.8,214.0 L1127.6,213.9 L1127.5,213.5 L1127.3,213.7 L1127.2,214.0 L1127.0,214.1 L1126.9,213.4 L1126.7,213.1 L1126.6,213.3 L1126.4,213.2 L1126.3,212.9 L1126.1,212.8 L1126.0,212.1 L1125.8,212.0 L1125.7,212.0 L1125.5,211.7Z M1132.6,209.8 L1132.7,209.1 L1132.9,208.1 L1133.0,206.9 L1133.2,205.2 L1133.3,202.6 L1133.5,199.2 L1133.6,194.7 L1133.8,189.9 L1133.9,184.1 L1134.1,177.9 L1134.2,173.0 L1134.4,169.4 L1134.5,167.1 L1134.7,166.6 L1134.8,167.9 L1135.0,171.7 L1135.1,177.3 L1135.3,182.9 L1135.4,188.9 L1135.6,194.2 L1135.7,199.1 L1135.9,202.8 L1136.0,206.0 L1136.2,208.3 L1136.3,209.1 L1136.5,209.8 L1136.6,210.0 L1136.6,211.4 L1136.5,211.8 L1136.3,212.1 L1136.2,212.7 L1136.0,212.4 L1135.9,212.0 L1135.7,211.9 L1135.6,211.4 L1135.4,211.3 L1135.3,210.7 L1135.1,210.7 L1135.0,210.0 L1134.8,209.9 L1134.7,210.5 L1134.5,210.6 L1134.4,210.4 L1134.2,209.8 L1134.1,209.5 L1133.9,210.1 L1133.8,210.5 L1133.6,210.4 L1133.5,210.8 L1133.3,210.8 L1133.2,210.9 L1133.0,210.8 L1132.9,210.7 L1132.7,210.9 L1132.6,211.0Z M1159.1,211.8 L1159.3,211.0 L1159.4,209.8 L1159.6,209.1 L1159.7,208.3 L1159.9,207.0 L1160.0,204.8 L1160.2,203.6 L1160.3,201.8 L1160.5,200.3 L1160.6,198.6 L1160.8,197.2 L1160.9,197.1 L1161.1,197.3 L1161.2,197.7 L1161.4,198.7 L1161.5,200.1 L1161.7,202.2 L1161.8,204.1 L1162.0,205.8 L1162.1,207.4 L1162.3,208.9 L1162.4,209.7 L1162.6,210.2 L1162.7,211.3 L1162.9,211.6 L1162.9,212.9 L1162.7,213.2 L1162.6,212.8 L1162.4,213.2 L1162.3,213.5 L1162.1,213.4 L1162.0,213.3 L1161.8,213.4 L1161.7,213.2 L1161.5,212.8 L1161.4,212.8 L1161.2,212.8 L1161.1,212.9 L1160.9,212.6 L1160.8,212.0 L1160.6,212.2 L1160.5,212.4 L1160.3,212.2 L1160.2,212.3 L1160.0,211.8 L1159.9,212.5 L1159.7,212.5 L1159.6,212.2 L1159.4,212.0 L1159.3,212.7 L1159.1,213.0Z M1188.2,214.0 L1188.4,213.5 L1188.5,212.9 L1188.7,212.1 L1188.8,210.6 L1189.0,209.1 L1189.1,207.7 L1189.3,205.8 L1189.4,204.2 L1189.6,203.2 L1189.7,203.3 L1189.9,203.7 L1190.0,204.6 L1190.2,205.1 L1190.3,206.4 L1190.5,208.0 L1190.6,209.5 L1190.8,210.6 L1190.9,212.1 L1191.1,212.9 L1191.2,213.7 L1191.4,214.1 L1191.5,214.3 L1191.5,215.4 L1191.4,215.7 L1191.2,216.0 L1191.1,216.0 L1190.9,216.3 L1190.8,216.1 L1190.6,216.4 L1190.5,216.4 L1190.3,216.1 L1190.2,216.1 L1190.0,216.5 L1189.9,216.1 L1189.7,215.6 L1189.6,214.8 L1189.4,214.8 L1189.3,215.1 L1189.1,215.5 L1189.0,215.4 L1188.8,215.6 L1188.7,216.0 L1188.5,215.8 L1188.4,215.6 L1188.2,215.4Z M1223.3,213.7 L1223.5,213.1 L1223.6,212.2 L1223.8,210.8 L1223.9,209.4 L1224.1,208.2 L1224.2,206.9 L1224.4,204.8 L1224.5,202.9 L1224.7,202.3 L1224.8,201.7 L1225.0,201.5 L1225.1,202.1 L1225.3,203.1 L1225.4,204.2 L1225.6,205.9 L1225.7,207.6 L1225.9,208.8 L1226.0,210.2 L1226.2,210.9 L1226.3,211.8 L1226.5,212.6 L1226.5,213.8 L1226.3,213.6 L1226.2,213.5 L1226.0,213.9 L1225.9,213.7 L1225.7,213.9 L1225.6,213.8 L1225.4,213.6 L1225.3,214.0 L1225.1,214.0 L1225.0,213.9 L1224.8,214.0 L1224.7,213.9 L1224.5,213.4 L1224.4,213.8 L1224.2,214.3 L1224.1,214.0 L1223.9,213.8 L1223.8,214.0 L1223.6,214.6 L1223.5,214.7 L1223.3,214.8Z M1230.7,212.1 L1230.8,211.4 L1231.0,210.4 L1231.1,209.2 L1231.3,207.8 L1231.4,206.2 L1231.6,204.7 L1231.7,203.2 L1231.9,202.0 L1232.0,200.9 L1232.2,200.1 L1232.3,200.2 L1232.5,200.9 L1232.6,202.2 L1232.8,203.6 L1232.9,205.6 L1233.1,207.3 L1233.2,209.3 L1233.4,210.8 L1233.5,211.9 L1233.7,213.0 L1233.8,214.0 L1233.8,215.2 L1233.7,214.9 L1233.5,214.6 L1233.4,214.6 L1233.2,214.5 L1233.1,214.1 L1232.9,214.2 L1232.8,214.0 L1232.6,214.3 L1232.5,214.3 L1232.3,214.5 L1232.2,214.5 L1232.0,214.7 L1231.9,214.6 L1231.7,214.1 L1231.6,213.9 L1231.4,213.5 L1231.3,213.5 L1231.1,213.4 L1231.0,213.5 L1230.8,213.5 L1230.7,213.6Z M1254.8,213.3 L1255.0,213.1 L1255.1,212.4 L1255.3,212.1 L1255.4,210.9 L1255.6,209.0 L1255.7,206.8 L1255.9,205.3 L1256.0,202.5 L1256.2,199.3 L1256.3,196.0 L1256.5,193.6 L1256.6,190.9 L1256.8,189.0 L1256.9,187.8 L1257.1,187.2 L1257.2,188.3 L1257.4,190.0 L1257.5,192.5 L1257.7,195.0 L1257.8,198.0 L1258.0,200.7 L1258.1,204.0 L1258.3,206.5 L1258.4,208.0 L1258.6,209.4 L1258.7,210.3 L1258.9,211.3 L1259.0,212.1 L1259.2,212.6 L1259.2,213.8 L1259.0,213.7 L1258.9,213.6 L1258.7,213.5 L1258.6,213.8 L1258.4,214.0 L1258.3,214.6 L1258.1,214.5 L1258.0,213.9 L1257.8,214.2 L1257.7,214.3 L1257.5,214.6 L1257.4,214.7 L1257.2,214.8 L1257.1,214.6 L1256.9,215.0 L1256.8,215.0 L1256.6,214.8 L1256.5,214.8 L1256.3,214.2 L1256.2,214.6 L1256.0,214.8 L1255.9,214.9 L1255.7,214.1 L1255.6,214.5 L1255.4,214.9 L1255.3,214.9 L1255.1,214.4 L1255.0,214.5 L1254.8,214.3Z " fill="#f00"/>
<path d="M933.5,195.0 L934.1,195.7 L934.7,195.6 L935.3,194.8 L935.9,195.1 L936.5,195.7 L937.1,195.5 L937.7,195.2 L938.3,195.7 L938.9,195.3 L939.5,195.2 L940.1,195.2 L940.7,194.7 L941.3,194.9 L941.9,195.2 L942.5,195.2 L943.1,195.8 L943.7,195.9 L944.3,196.2 L944.9,197.5 L945.5,197.5 L946.1,197.3 L946.7,196.7 L947.3,197.3 L947.9,197.3 L948.5,197.5 L949.1,197.4 L949.7,198.1 L950.3,197.8 L950.9,198.9 L951.5,198.2 L952.1,198.0 L952.7,198.2 L953.3,197.4 L953.9,196.6 L954.5,196.9 L955.1,197.3 L955.7,196.9 L956.3,196.9 L956.9,196.8 L957.5,198.6 L958.1,198.4 L958.7,198.4 L959.3,198.1 L959.9,198.9 L960.5,198.3 L961.1,198.6 L961.7,197.9 L962.3,198.0 L962.9,199.2 L963.5,199.9 L964.1,199.2 L964.7,198.8 L965.3,198.4 L965.9,199.2 L966.5,198.7 L967.1,197.0 L967.7,196.4 L968.3,197.1 L968.9,196.9 L969.5,196.2 L970.1,195.4 L970.7,195.3 L971.3,194.7 L971.9,193.9 L972.5,192.6 L973.1,191.9 L973.7,192.1 L974.3,192.5 L974.9,192.6 L975.5,193.1 L976.1,194.3 L976.7,194.6 L977.3,195.3 L977.9,194.4 L978.5,194.3 L979.1,193.7 L979.7,193.3 L980.3,192.8 L980.9,192.8 L981.5,192.3 L982.1,192.4 L982.7,192.5 L983.3,192.1 L983.9,191.1 L984.5,191.5 L985.1,191.3 L985.7,191.0 L986.3,190.7 L986.9,189.6 L987.5,189.6 L988.1,189.3 L988.7,188.2 L989.3,187.9 L989.9,188.5 L990.5,189.5 L991.1,188.9 L991.7,189.9 L992.3,191.4 L992.9,192.4 L993.5,192.1 L994.1,192.1 L994.7,191.6 L995.3,191.0 L995.9,189.1 L996.5,188.5 L997.1,188.5 L997.7,187.9 L998.3,187.2 L998.9,185.9 L999.5,186.4 L1000.1,187.3 L1000.7,186.9 L1001.3,185.8 L1001.9,185.6 L1002.5,186.2 L1003.1,186.3 L1003.7,185.6 L1004.3,185.0 L1004.9,185.3 L1005.5,185.9 L1006.1,185.6 L1006.7,185.6 L1007.3,187.1 L1007.9,187.3 L1008.5,188.0 L1009.1,189.1 L1009.7,189.5 L1010.3,190.3 L1010.9,190.6 L1011.5,190.2 L1012.1,191.4 L1012.7,190.7 L1013.3,190.6 L1013.9,190.8 L1014.5,190.9 L1015.1,191.4 L1015.7,191.3 L1016.3,190.4 L1016.9,190.1 L1017.5,189.4 L1018.1,189.3 L1018.7,188.9 L1019.3,188.5 L1019.9,188.8 L1020.5,190.3 L1021.1,190.3 L1021.7,191.0 L1022.3,191.0 L1022.9,190.5 L1023.5,191.8 L1024.1,191.2 L1024.7,191.3 L1025.3,192.0 L1025.9,192.7 L1026.5,193.3 L1027.1,194.0 L1027.7,193.8 L1028.3,194.4 L1028.9,194.5 L1029.5,195.1 L1030.1,194.8 L1030.7,194.8 L1031.3,195.1 L1031.9,196.0 L1032.5,196.6 L1033.1,197.1 L1033.7,196.7 L1034.3,196.7 L1034.9,197.2 L1035.5,197.0 L1036.1,197.1 L1036.7,197.2 L1037.3,197.6 L1037.9,197.9 L1038.5,199.6 L1039.1,200.7 L1039.7,200.4 L1040.3,201.1 L1040.9,200.1 L1041.5,200.4 L1042.1,201.5 L1042.7,201.0 L1043.3,200.7 L1043.9,202.3 L1044.5,201.8 L1045.1,202.5 L1045.7,201.8 L1046.3,202.1 L1046.9,203.1 L1047.5,203.1 L1048.1,203.7 L1048.7,203.7 L1049.3,203.9 L1049.9,203.9 L1050.5,203.5 L1051.1,203.6 L1051.7,203.7 L1052.3,203.8 L1052.9,204.4 L1053.5,204.5 L1054.1,204.4 L1054.7,204.2 L1055.3,203.6 L1055.9,203.8 L1056.5,203.4 L1057.1,203.4 L1057.7,203.7 L1058.3,204.3 L1058.9,205.3 L1059.5,205.3 L1060.1,205.3 L1060.7,205.9 L1061.3,206.4 L1061.9,207.0 L1062.5,206.8 L1063.1,206.2 L1063.7,206.2 L1064.3,206.7 L1064.9,206.9 L1065.5,206.9 L1066.1,207.4 L1066.7,207.1 L1067.3,207.6 L1067.9,207.0 L1068.5,207.1 L1069.1,206.8 L1069.7,206.9 L1070.3,207.0 L1070.9,207.8 L1071.5,207.5 L1072.1,207.7 L1072.7,207.5 L1073.3,207.9 L1073.9,208.1 L1074.5,207.6 L1075.1,206.9 L1075.7,207.0 L1076.3,207.5 L1076.9,207.1 L1077.5,207.6 L1078.1,207.8 L1078.7,208.0 L1079.3,207.8 L1079.9,208.6 L1080.5,207.7 L1081.1,208.3 L1081.7,207.9 L1082.3,207.8 L1082.9,207.7 L1083.5,208.0 L1084.1,208.5 L1084.7,208.2 L1085.3,209.3 L1085.9,208.9 L1086.5,209.6 L1087.1,210.2 L1087.7,210.1 L1088.3,209.4 L1088.9,208.2 L1089.5,208.1 L1090.1,208.0 L1090.7,207.6 L1091.3,207.8 L1091.9,208.2 L1092.5,208.3 L1093.1,210.3 L1093.7,210.3 L1094.3,211.4 L1094.9,211.2 L1095.5,211.3 L1096.1,211.6 L1096.7,211.8 L1097.3,211.3 L1097.9,211.3 L1098.5,212.1 L1099.1,212.3 L1099.7,211.1 L1100.3,210.7 L1100.9,210.1 L1101.5,209.8 L1102.1,209.9 L1102.7,209.6 L1103.3,209.1 L1103.9,209.2 L1104.5,208.7 L1105.1,208.5 L1105.7,208.3 L1106.3,208.7 L1106.9,209.2 L1107.5,210.4 L1108.1,209.4 L1108.7,210.5 L1109.3,211.9 L1109.9,212.8 L1110.5,212.3 L1111.1,210.6 L1111.7,210.5 L1112.3,211.5 L1112.9,211.3 L1113.5,211.5 L1114.1,210.9 L1114.7,211.0 L1115.3,211.9 L1115.9,212.0 L1116.5,211.0 L1117.1,210.9 L1117.7,211.6 L1118.3,211.6 L1118.9,212.4 L1119.5,211.7 L1120.1,212.3 L1120.7,212.8 L1121.3,212.3 L1121.9,211.6 L1122.5,211.4 L1123.1,211.4 L1123.7,211.9 L1124.3,212.2 L1124.9,211.7 L1125.5,211.7 L1126.1,212.8 L1126.7,213.1 L1127.3,213.7 L1127.9,214.0 L1128.5,213.5 L1129.1,213.7 L1129.7,213.6 L1130.3,213.2 L1130.9,211.9 L1131.5,211.4 L1132.1,210.1 L1132.7,210.9 L1133.3,210.8 L1133.9,210.1 L1134.5,210.6 L1135.1,210.7 L1135.7,211.9 L1136.3,212.1 L1136.9,211.8 L1137.5,211.8 L1138.1,213.5 L1138.7,213.8 L1139.3,214.2 L1139.9,213.8 L1140.5,214.4 L1141.1,215.5 L1141.7,215.1 L1142.3,214.9 L1142.9,214.6 L1143.5,214.5 L1144.1,213.8 L1144.7,213.6 L1145.3,213.2 L1145.9,213.7 L1146.5,213.4 L1147.1,214.3 L1147.7,215.3 L1148.3,215.3 L1148.9,215.5 L1149.5,215.6 L1150.1,215.7 L1150.7,214.5 L1151.3,213.4 L1151.9,212.9 L1152.5,212.9 L1153.1,211.9 L1153.7,211.3 L1154.3,211.8 L1154.9,211.7 L1155.5,212.3 L1156.1,212.0 L1156.7,212.1 L1157.3,212.6 L1157.9,212.2 L1158.5,213.0 L1159.1,213.0 L1159.7,212.5 L1160.3,212.2 L1160.9,212.6 L1161.5,212.8 L1162.1,213.4 L1162.7,213.2 L1163.3,212.8 L1163.9,213.3 L1164.5,212.8 L1165.1,212.5 L1165.7,211.8 L1166.3,211.5 L1166.9,211.7 L1167.5,212.9 L1168.1,213.4 L1168.7,213.0 L1169.3,213.6 L1169.9,214.2 L1170.5,215.1 L1171.1,215.8 L1171.7,215.8 L1172.3,215.1 L1172.9,214.6 L1173.5,215.5 L1174.1,215.5 L1174.7,214.5 L1175.3,214.7 L1175.9,214.7 L1176.5,215.5 L1177.1,216.5 L1177.7,216.2 L1178.3,215.5 L1178.9,215.2 L1179.5,214.7 L1180.1,214.0 L1180.7,214.1 L1181.3,214.2 L1181.9,213.4 L1182.5,213.5 L1183.1,212.6 L1183.7,213.3 L1184.3,213.4 L1184.9,213.8 L1185.5,213.9 L1186.1,213.8 L1186.7,214.2 L1187.3,215.0 L1187.9,214.7 L1188.5,215.8 L1189.1,215.5 L1189.7,215.6 L1190.3,216.1 L1190.9,216.3 L1191.5,215.4 L1192.1,215.7 L1192.7,214.1 L1193.3,214.4 L1193.9,214.3 L1194.5,214.0 L1195.1,214.3 L1195.7,214.4 L1196.3,214.5 L1196.9,214.8 L1197.5,214.7 L1198.1,212.7 L1198.7,213.8 L1199.3,213.3 L1199.9,213.1 L1200.5,213.6 L1201.1,215.3 L1201.7,216.6 L1202.3,217.1 L1202.9,216.4 L1203.5,216.4 L1204.1,217.2 L1204.7,216.3 L1205.3,216.8 L1205.9,217.1 L1206.5,217.1 L1207.1,217.9 L1207.7,217.9 L1208.3,217.3 L1208.9,216.9 L1209.5,215.8 L1210.1,215.6 L1210.7,216.0 L1211.3,215.3 L1211.9,214.7 L1212.5,214.5 L1213.1,214.5 L1213.7,214.3 L1214.3,214.2 L1214.9,213.9 L1215.5,214.3 L1216.1,214.9 L1216.7,215.7 L1217.3,215.5 L1217.9,216.8 L1218.5,216.4 L1219.1,216.0 L1219.7,216.6 L1220.3,216.6 L1220.9,216.0 L1221.5,215.8 L1222.1,214.9 L1222.7,214.9 L1223.3,214.8 L1223.9,213.8 L1224.5,213.4 L1225.1,214.0 L1225.7,213.9 L1226.3,213.6 L1226.9,214.7 L1227.5,214.3 L1228.1,214.5 L1228.7,215.3 L1229.3,214.9 L1229.9,215.1 L1230.5,214.2 L1231.1,213.4 L1231.7,214.1 L1232.3,214.5 L1232.9,214.2 L1233.5,214.6 L1234.1,215.8 L1234.7,216.0 L1235.3,216.1 L1235.9,215.5 L1236.5,215.5 L1237.1,215.3 L1237.7,215.3 L1238.3,215.7 L1238.9,215.4 L1239.5,216.6 L1240.1,216.3 L1240.7,215.8 L1241.3,215.6 L1241.9,214.5 L1242.5,214.3 L1243.1,213.2 L1243.7,212.2 L1244.3,211.6 L1244.9,211.9 L1245.5,212.1 L1246.1,212.7 L1246.7,213.2 L1247.3,214.0 L1247.9,214.4 L1248.5,214.8 L1249.1,213.5 L1249.7,213.6 L1250.3,213.1 L1250.9,213.0 L1251.5,212.9 L1252.1,213.0 L1252.7,212.8 L1253.3,214.4 L1253.9,214.9 L1254.5,214.7 L1255.1,214.4 L1255.7,214.1 L1256.3,214.2 L1256.9,215.0 L1257.5,214.6 L1258.1,214.5 L1258.7,213.5 L1259.3,213.6 L1259.9,213.6 L1260.5,213.2 L1261.1,212.7 L1261.7,213.4 L1262.3,213.2 L1262.9,214.5 L1263.5,214.0 L1264.1,214.3 L1264.7,214.7 L1265.3,214.3 L1265.9,213.3 L1266.5,213.8 L1267.1,214.3 L1267.7,214.0 L1268.3,213.8 L1268.9,215.0 L1269.5,215.4 L1270.1,215.8 L1270.7,215.6 L1271.3,215.3 L1271.9,216.1 L1272.5,215.8 L1273.1,215.6 L1273.7,215.5 L1274.3,214.5 L1274.9,214.8 L1275.5,214.7 L1276.1,214.6 L1276.7,215.3 L1277.3,215.7 L1277.9,216.4 L1278.5,217.3 L1279.1,217.3 L1279.7,217.1 L1280.3,216.5 L1280.9,216.1 L1281.5,215.9 L1282.1,215.4 L1282.7,215.6 L1283.3,214.8 L1283.9,214.8 L1284.5,215.0 L1285.1,214.7 L1285.7,215.7 L1286.3,215.7 L1286.9,215.1 L1287.5,215.9 L1288.1,215.3 L1288.7,215.5 L1289.3,215.5 L1289.9,213.9 L1290.5,214.6 L1291.1,215.1 L1291.7,214.9 L1292.3,215.3 L1292.9,214.9 L1293.5,215.6 L1294.1,215.9 L1294.7,215.9 L1295.3,215.4 L1295.9,216.2 L1296.5,216.5 L1297.1,216.4 L1297.7,216.5 L1298.3,217.1 L1298.9,217.9 L1299.5,217.4 L1300.1,216.2 L1300.7,216.9 L1301.3,217.3 L1301.9,216.8 L1302.5,216.1 L1303.1,215.8 L1303.7,216.5 L1304.3,216.8 L1304.9,216.0 L1305.5,215.8 L1306.1,215.0 L1306.7,215.0 L1307.3,214.9 L1307.9,215.1 L1308.5,214.9 L1309.1,214.3 L1309.7,214.5 L1310.3,215.3 L1310.9,215.4 L1311.5,215.3 L1312.1,215.3 L1312.7,215.1 L1313.3,215.2 L1313.9,215.3 L1314.5,214.6 L1315.1,214.6 L1315.7,215.3 L1316.3,214.5 L1316.9,215.0 L1317.5,215.0 L1318.1,213.9 L1318.7,214.3 L1319.3,214.4 L1319.9,213.9 L1320.5,214.0 L1321.1,213.8 L1321.7,213.9 L1322.3,214.6 L1322.9,214.2 L1323.5,213.4 L1324.1,212.6 L1324.7,211.7 L1325.3,211.5 L1325.9,211.8 L1326.5,211.6 L1327.1,211.3 L1327.7,211.8 L1328.3,211.6 L1328.9,211.6 L1329.5,211.0 L1330.1,210.5 L1330.7,209.9 L1331.3,209.2 L1331.9,209.5 L1332.5,210.0 L1333.1,211.0 L1333.7,210.5 L1334.3,211.0 L1334.9,211.3 L1335.5,210.4 L1336.1,210.1 L1336.7,210.5 L1337.3,210.1 L1337.9,210.6 L1338.5,210.7 L1339.1,211.5 L1339.7,212.3 L1340.3,213.3 L1340.9,213.7 L1341.5,213.7 L1342.1,214.6 L1342.7,214.2 L1343.3,213.5 L1343.9,214.0 L1344.5,213.8 L1345.1,213.9 L1345.7,213.5 L1346.3,212.6 L1346.9,213.0 L1347.5,213.8 L1348.1,213.2 L1348.7,212.9 L1349.3,213.6 L1349.9,214.5 L1350.5,215.4 L1351.1,215.3 L1351.7,214.9 L1352.3,214.9 L1352.9,214.7 L1353.5,213.7 L1354.1,213.3 L1354.7,212.4 L1355.3,212.4 L1355.9,212.1 L1356.5,212.3 L1357.1,213.3 L1357.7,213.9 L1358.3,214.7 L1358.9,215.0 L1359.5,215.5 L1360.1,215.5 L1360.7,216.6 L1361.3,216.5 L1361.9,216.9 L1362.5,217.3 L1363.1,217.9 L1363.7,218.2 L1364.3,219.1 L1364.9,217.8 L1365.5,217.5 L1366.1,217.1 L1366.7,216.9 L1367.3,217.8 L1367.9,217.0 L1368.5,217.6 L1369.1,218.3 L1369.7,218.3 L1370.3,218.9 L1370.9,218.5 L1371.5,219.3 L1372.1,219.0 L1372.7,218.6 L1373.3,219.2 L1373.9,219.8 L1374.5,220.2 L1375.1,220.3 L1375.7,219.8 L1376.3,219.3 L1376.9,217.7 L1377.5,216.6 L1378.1,216.3 L1378.7,215.7 L1379.3,214.8 L1379.9,214.9 L1380.5,215.4 L1381.1,216.1 L1381.7,216.6 L1382.3,216.2 L1382.9,216.2 L1383.5,215.8 L1384.1,215.2 L1384.7,215.4 L1385.3,216.0 L1385.9,215.7 L1386.5,216.3 L1387.1,216.3 L1387.7,216.8 L1388.3,217.5 L1388.9,217.0 L1389.5,217.4 L1390.1,217.0 L1390.7,216.9 L1391.3,216.0 L1391.9,216.2 L1392.5,216.7 L1393.1,216.0 L1393.7,216.1 L1394.3,216.6 L1394.9,216.5 L1395.5,216.6 L1396.1,216.4 L1396.7,216.5 L1397.3,216.6 L1397.9,216.8 L1398.5,217.1 L1399.1,217.2 L1399.7,216.7 L1400.3,216.4 L1400.9,215.6 L1401.5,215.1 L1402.1,216.3 L1402.7,216.0 L1403.3,216.4 L1403.9,217.3 L1404.5,218.1 L1405.1,219.3 L1405.7,219.8 L1406.3,218.9 L1406.9,218.9 L1407.5,218.5 L1408.1,217.9 L1408.7,217.8 L1409.3,216.9 L1409.9,216.5 L1410.5,217.3 L1411.1,216.3 L1411.7,216.9 L1412.3,217.2 L1412.9,217.3 L1413.5,216.6 L1414.1,216.8 L1414.7,216.9 L1415.3,216.9 L1415.9,217.3 L1416.5,218.1 L1417.1,217.9 L1417.7,218.3 L1418.3,217.8 L1418.9,218.1 L1419.5,218.3 L1420.1,217.8 L1420.7,217.6 L1421.3,218.1 L1421.9,217.5 L1422.5,217.6 L1423.1,217.9 L1423.7,217.3 L1424.3,217.2 L1424.9,216.8 L1425.5,217.8 L1426.1,217.7 L1426.7,217.7 L1427.3,218.1 L1427.9,219.0 L1428.5,219.3 L1429.1,219.3 L1429.7,218.6 L1430.3,219.7 L1430.9,219.8 L1431.5,219.4 L1432.1,220.0 L1432.7,218.6 L1433.3,218.8 L1433.9,219.3 L1434.5,218.4 L1435.1,217.8 L1435.7,217.5 L1436.3,217.0 L1436.9,217.5 L1437.5,216.9 L1438.1,217.2 L1438.7,217.4 L1439.3,218.7 L1439.9,218.3 L1440.5,218.2 L1441.1,218.8 L1441.7,219.2 L1442.3,219.1 L1442.9,218.7 L1443.5,217.6 L1444.1,218.1 L1444.7,218.4 L1445.3,218.4 L1445.9,217.7 L1446.5,217.4 L1447.1,217.8 L1447.7,217.9 L1448.3,217.7 L1448.9,217.3 L1449.5,216.5 L1450.1,216.7 L1450.7,217.4 L1451.3,217.0 L1451.9,218.1 L1452.5,218.7 L1453.1,218.5 L1453.7,218.8 L1454.3,218.8 L1454.9,219.0 L1455.5,220.0 L1456.1,219.8 L1456.7,219.5 L1457.3,219.3 L1457.9,219.3 L1458.5,218.9 L1459.1,218.5 L1459.7,218.1 L1460.3,217.9 L1460.9,218.3 L1461.5,218.4 L1462.1,218.5 L1462.7,218.3 L1463.3,218.0 L1463.9,218.2 L1464.5,217.6 L1465.1,217.2 L1465.7,217.0 L1466.3,217.2 L1466.9,218.3 L1467.5,218.4 L1468.1,219.1 L1468.7,219.9 L1469.3,219.7 L1469.9,219.6 L1470.5,218.8 L1471.1,217.9 L1471.7,217.4 L1472.3,216.8 L1472.9,216.8 L1473.5,217.1 L1474.1,217.4 L1474.7,217.1 L1475.3,217.2 L1475.9,217.7 L1476.5,217.6" fill="none" stroke="#f00" stroke-width="7" stroke-linejoin="round"/>
<path d="M933.5,195.0 L933.8,195.5 L934.1,195.7 L934.4,195.7 L934.7,195.5 L935.0,195.3 L935.3,194.8 L935.6,195.1 L935.9,195.1 L936.2,195.5 L936.5,195.7 L936.8,195.5 L937.1,195.5 L937.4,195.1 L937.7,195.2 L938.0,195.3 L938.3,195.7 L938.6,195.7 L938.9,195.3 L939.2,195.2 L939.5,195.2 L939.8,194.6 L940.1,195.2 L940.4,194.6 L940.7,194.7 L941.0,194.5 L941.3,194.9 L941.6,195.1 L941.9,195.2 L942.2,195.1 L942.5,195.2 L942.8,195.7 L943.1,195.8 L943.4,196.2 L943.7,195.9 L944.0,196.1 L944.3,196.2 L944.6,197.2 L944.9,197.5 L945.2,197.6 L945.5,197.5 L945.8,197.2 L946.1,197.3 L946.4,196.7 L946.7,196.7 L947.0,196.7 L947.3,197.3 L947.6,197.1 L947.9,197.3 L948.2,197.5 L948.5,197.5 L948.8,197.4 L949.1,197.4 L949.4,197.8 L949.7,198.1 L950.0,198.1 L950.3,197.8 L950.6,198.3 L950.9,198.9 L951.2,198.1 L951.5,198.2 L951.8,198.2 L952.1,198.0 L952.4,198.4 L952.7,198.2 L953.0,198.1 L953.3,197.4 L953.6,197.3 L953.9,196.6 L954.2,197.1 L954.5,196.9 L954.8,196.8 L955.1,197.3 L955.4,197.2 L955.7,196.9 L956.0,196.6 L956.3,196.9 L956.6,196.6 L956.9,196.8 L957.2,197.4 L957.5,198.6 L957.8,198.6 L958.1,198.4 L958.4,198.2 L958.7,198.4 L959.0,198.2 L959.3,198.1 L959.6,198.2 L959.9,198.9 L960.2,198.4 L960.5,198.3 L960.8,198.3 L961.1,198.6 L961.4,198.0 L961.7,197.9 L962.0,197.8 L962.3,198.0 L962.6,197.9 L962.9,199.2 L963.2,199.1 L963.5,199.9 L963.8,199.8 L964.1,199.2 L964.4,199.0 L964.7,198.7 L965.0,198.5 L965.3,198.4 L965.6,198.7 L965.9,199.2 L966.2,199.1 L966.5,198.7 L966.8,197.4 L967.1,197.0 L967.4,196.7 L967.7,196.4 L968.0,196.5 L968.3,197.1 L968.6,197.3 L968.9,196.9 L969.2,196.5 L969.5,196.2 L969.8,196.0 L970.1,195.4 L970.4,194.7 L970.7,195.2 L971.0,195.0 L971.3,194.7 L971.6,194.3 L971.9,193.8 L972.2,193.3 L972.5,192.6 L972.8,192.2 L973.1,191.9 L973.4,192.3 L973.7,192.1 L974.0,192.2 L974.3,192.5 L974.6,192.6 L974.9,192.6 L975.2,193.1 L975.5,193.1 L975.8,193.5 L976.1,194.3 L976.4,194.8 L976.7,194.6 L977.0,195.2 L977.3,195.3 L977.6,194.6 L977.9,194.4 L978.2,193.7 L978.5,194.3 L978.8,194.1 L979.1,193.7 L979.4,194.0 L979.7,193.3 L980.0,193.0 L980.3,192.8 L980.6,192.5 L980.9,192.7 L981.2,192.3 L981.5,192.3 L981.8,192.7 L982.1,192.4 L982.4,192.7 L982.7,192.4 L983.0,192.8 L983.3,192.0 L983.6,191.3 L983.9,191.1 L984.2,191.3 L984.5,191.5 L984.8,190.7 L985.1,191.3 L985.4,190.8 L985.7,190.9 L986.0,190.2 L986.3,190.7 L986.6,189.9 L986.9,189.5 L987.2,189.6 L987.5,189.5 L987.8,189.2 L988.1,189.2 L988.4,188.1 L988.7,188.1 L989.0,187.5 L989.3,187.8 L989.6,188.2 L989.9,188.3 L990.2,188.7 L990.5,189.3 L990.8,188.7 L991.1,188.6 L991.4,188.9 L991.7,189.1 L992.0,189.0 L992.3,187.2 L992.6,182.0 L992.9,173.5 L993.2,162.1 L993.5,154.3 L993.8,156.0 L994.1,165.6 L994.4,176.1 L994.7,184.2 L995.0,188.3 L995.3,189.8 L995.6,189.6 L995.9,188.7 L996.2,188.8 L996.5,188.2 L996.8,188.2 L997.1,188.3 L997.4,188.3 L997.7,187.7 L998.0,187.3 L998.3,187.1 L998.6,186.3 L998.9,185.8 L999.2,185.9 L999.5,186.3 L999.8,187.3 L1000.1,187.2 L1000.4,186.8 L1000.7,186.8 L1001.0,186.4 L1001.3,185.7 L1001.6,186.1 L1001.9,185.6 L1002.2,186.0 L1002.5,186.2 L1002.8,186.6 L1003.1,186.2 L1003.4,185.8 L1003.7,185.6 L1004.0,184.6 L1004.3,185.0 L1004.6,185.5 L1004.9,185.3 L1005.2,185.7 L1005.5,185.9 L1005.8,185.7 L1006.1,185.5 L1006.4,185.2 L1006.7,185.6 L1007.0,186.7 L1007.3,187.1 L1007.6,187.6 L1007.9,187.3 L1008.2,187.6 L1008.5,188.0 L1008.8,188.7 L1009.1,189.1 L1009.4,189.0 L1009.7,189.5 L1010.0,189.6 L1010.3,190.3 L1010.6,190.7 L1010.9,190.6 L1011.2,190.4 L1011.5,190.1 L1011.8,191.2 L1012.1,191.4 L1012.4,191.0 L1012.7,190.7 L1013.0,190.2 L1013.3,190.6 L1013.6,190.6 L1013.9,190.8 L1014.2,190.7 L1014.5,190.9 L1014.8,191.2 L1015.1,191.4 L1015.4,190.8 L1015.7,191.3 L1016.0,190.4 L1016.3,190.4 L1016.6,190.2 L1016.9,190.1 L1017.2,189.9 L1017.5,189.4 L1017.8,189.5 L1018.1,189.3 L1018.4,188.7 L1018.7,188.9 L1019.0,188.6 L1019.3,188.5 L1019.6,188.5 L1019.9,188.7 L1020.2,189.7 L1020.5,190.2 L1020.8,189.9 L1021.1,190.3 L1021.4,190.8 L1021.7,191.0 L1022.0,190.8 L1022.3,191.0 L1022.6,190.4 L1022.9,190.5 L1023.2,191.2 L1023.5,191.8 L1023.8,191.4 L1024.1,191.1 L1024.4,191.3 L1024.7,191.2 L1025.0,192.0 L1025.3,191.9 L1025.6,192.3 L1025.9,192.5 L1026.2,193.0 L1026.5,192.6 L1026.8,192.6 L1027.1,190.9 L1027.4,188.4 L1027.7,185.1 L1028.0,182.9 L1028.3,181.5 L1028.6,182.2 L1028.9,185.8 L1029.2,189.0 L1029.5,192.0 L1029.8,193.3 L1030.1,194.2 L1030.4,194.5 L1030.7,194.6 L1031.0,194.9 L1031.3,195.0 L1031.6,194.9 L1031.9,196.0 L1032.2,196.0 L1032.5,196.6 L1032.8,197.4 L1033.1,197.0 L1033.4,196.4 L1033.7,196.7 L1034.0,196.4 L1034.3,196.6 L1034.6,196.6 L1034.9,197.1 L1035.2,197.3 L1035.5,196.9 L1035.8,197.1 L1036.1,197.0 L1036.4,197.1 L1036.7,197.2 L1037.0,197.5 L1037.3,197.6 L1037.6,198.0 L1037.9,197.9 L1038.2,198.9 L1038.5,199.6 L1038.8,199.9 L1039.1,200.6 L1039.4,200.7 L1039.7,200.4 L1040.0,200.5 L1040.3,201.1 L1040.6,200.7 L1040.9,200.1 L1041.2,200.5 L1041.5,200.4 L1041.8,201.5 L1042.1,201.4 L1042.4,200.6 L1042.7,201.0 L1043.0,200.9 L1043.3,200.6 L1043.6,202.0 L1043.9,202.2 L1044.2,201.3 L1044.5,201.7 L1044.8,202.1 L1045.1,202.4 L1045.4,202.3 L1045.7,201.7 L1046.0,202.1 L1046.3,201.8 L1046.6,201.9 L1046.9,202.1 L1047.2,200.9 L1047.5,198.1 L1047.8,193.6 L1048.1,188.9 L1048.4,184.3 L1048.7,183.5 L1049.0,187.3 L1049.3,192.8 L1049.6,198.1 L1049.9,200.9 L1050.2,202.2 L1050.5,202.9 L1050.8,203.2 L1051.1,203.3 L1051.4,203.7 L1051.7,203.6 L1052.0,204.4 L1052.3,203.7 L1052.6,204.1 L1052.9,204.4 L1053.2,204.2 L1053.5,204.5 L1053.8,204.5 L1054.1,204.4 L1054.4,204.4 L1054.7,204.2 L1055.0,203.7 L1055.3,203.6 L1055.6,203.7 L1055.9,203.7 L1056.2,203.2 L1056.5,203.4 L1056.8,203.2 L1057.1,203.4 L1057.4,202.9 L1057.7,203.7 L1058.0,204.0 L1058.3,204.3 L1058.6,204.8 L1058.9,205.3 L1059.2,205.6 L1059.5,205.3 L1059.8,205.2 L1060.1,205.3 L1060.4,205.4 L1060.7,205.9 L1061.0,206.2 L1061.3,206.4 L1061.6,206.9 L1061.9,207.0 L1062.2,206.7 L1062.5,206.8 L1062.8,206.4 L1063.1,206.2 L1063.4,206.4 L1063.7,206.2 L1064.0,206.3 L1064.3,206.7 L1064.6,206.9 L1064.9,206.9 L1065.2,207.3 L1065.5,206.9 L1065.8,206.8 L1066.1,207.4 L1066.4,207.0 L1066.7,207.1 L1067.0,207.1 L1067.3,207.6 L1067.6,207.5 L1067.9,207.0 L1068.2,207.1 L1068.5,207.1 L1068.8,206.7 L1069.1,206.8 L1069.4,207.3 L1069.7,206.8 L1070.0,207.7 L1070.3,207.0 L1070.6,207.4 L1070.9,207.7 L1071.2,207.8 L1071.5,207.5 L1071.8,207.7 L1072.1,207.6 L1072.4,207.6 L1072.7,207.4 L1073.0,208.1 L1073.3,207.8 L1073.6,208.1 L1073.9,208.0 L1074.2,207.7 L1074.5,207.6 L1074.8,207.2 L1075.1,206.8 L1075.4,206.8 L1075.7,206.9 L1076.0,207.4 L1076.3,207.4 L1076.6,207.2 L1076.9,207.0 L1077.2,206.7 L1077.5,207.4 L1077.8,207.4 L1078.1,207.5 L1078.4,207.5 L1078.7,207.7 L1079.0,207.5 L1079.3,207.4 L1079.6,207.5 L1079.9,207.9 L1080.2,206.6 L1080.5,205.5 L1080.8,203.0 L1081.1,196.8 L1081.4,185.5 L1081.7,169.2 L1082.0,153.7 L1082.3,146.9 L1082.6,153.8 L1082.9,169.0 L1083.2,184.9 L1083.5,196.5 L1083.8,203.0 L1084.1,206.3 L1084.4,208.1 L1084.7,207.5 L1085.0,208.7 L1085.3,208.9 L1085.6,209.3 L1085.9,208.6 L1086.2,209.1 L1086.5,209.4 L1086.8,209.4 L1087.1,210.0 L1087.4,209.6 L1087.7,210.0 L1088.0,209.9 L1088.3,209.2 L1088.6,209.3 L1088.9,208.1 L1089.2,207.6 L1089.5,208.0 L1089.8,207.9 L1090.1,207.9 L1090.4,207.1 L1090.7,207.5 L1091.0,207.8 L1091.3,207.7 L1091.6,207.8 L1091.9,208.1 L1092.2,207.9 L1092.5,208.2 L1092.8,209.4 L1093.1,210.3 L1093.4,210.7 L1093.7,210.2 L1094.0,210.9 L1094.3,211.3 L1094.6,210.8 L1094.9,211.1 L1095.2,210.7 L1095.5,211.2 L1095.8,210.8 L1096.1,211.5 L1096.4,212.2 L1096.7,211.6 L1097.0,211.6 L1097.3,211.1 L1097.6,211.2 L1097.9,211.0 L1098.2,211.2 L1098.5,211.6 L1098.8,211.9 L1099.1,211.3 L1099.4,209.5 L1099.7,206.4 L1100.0,201.5 L1100.3,192.9 L1100.6,182.5 L1100.9,172.6 L1101.2,167.8 L1101.5,172.2 L1101.8,181.4 L1102.1,192.1 L1102.4,199.6 L1102.7,204.9 L1103.0,207.2 L1103.3,208.1 L1103.6,208.7 L1103.9,208.7 L1104.2,209.0 L1104.5,208.4 L1104.8,208.1 L1105.1,208.3 L1105.4,207.9 L1105.7,208.1 L1106.0,207.9 L1106.3,208.5 L1106.6,208.8 L1106.9,209.1 L1107.2,209.9 L1107.5,210.3 L1107.8,210.2 L1108.1,209.3 L1108.4,209.8 L1108.7,210.5 L1109.0,211.3 L1109.3,211.8 L1109.6,212.6 L1109.9,212.8 L1110.2,212.6 L1110.5,212.2 L1110.8,211.6 L1111.1,210.5 L1111.4,210.5 L1111.7,210.5 L1112.0,210.6 L1112.3,211.5 L1112.6,211.1 L1112.9,211.2 L1113.2,211.9 L1113.5,211.4 L1113.8,211.3 L1114.1,210.8 L1114.4,210.7 L1114.7,210.9 L1115.0,211.5 L1115.3,211.7 L1115.6,211.6 L1115.9,211.8 L1116.2,211.4 L1116.5,210.8 L1116.8,210.7 L1117.1,210.6 L1117.4,210.6 L1117.7,210.9 L1118.0,209.9 L1118.3,208.3 L1118.6,205.5 L1118.9,200.9 L1119.2,194.8 L1119.5,190.2 L1119.8,189.5 L1120.1,193.4 L1120.4,198.7 L1120.7,204.7 L1121.0,207.8 L1121.3,210.3 L1121.6,210.7 L1121.9,211.0 L1122.2,211.1 L1122.5,211.1 L1122.8,210.8 L1123.1,211.2 L1123.4,211.7 L1123.7,211.7 L1124.0,211.9 L1124.3,211.9 L1124.6,211.7 L1124.9,211.3 L1125.2,211.2 L1125.5,210.4 L1125.8,209.3 L1126.1,206.9 L1126.4,202.1 L1126.7,195.6 L1127.0,191.3 L1127.3,190.0 L1127.6,194.3 L1127.9,200.8 L1128.2,206.6 L1128.5,209.9 L1128.8,212.6 L1129.1,212.9 L1129.4,213.0 L1129.7,213.2 L1130.0,213.6 L1130.3,212.9 L1130.6,211.9 L1130.9,211.6 L1131.2,210.9 L1131.5,210.9 L1131.8,210.1 L1132.1,209.5 L1132.4,209.7 L1132.7,209.1 L1133.0,206.9 L1133.3,202.6 L1133.6,194.7 L1133.9,184.1 L1134.2,173.0 L1134.5,167.1 L1134.8,167.9 L1135.1,177.3 L1135.4,188.9 L1135.7,199.1 L1136.0,206.0 L1136.3,209.1 L1136.6,210.0 L1136.9,211.0 L1137.2,210.9 L1137.5,211.4 L1137.8,211.9 L1138.1,213.3 L1138.4,213.3 L1138.7,213.5 L1139.0,214.6 L1139.3,214.0 L1139.6,213.6 L1139.9,213.7 L1140.2,213.9 L1140.5,214.3 L1140.8,214.9 L1141.1,215.4 L1141.4,216.0 L1141.7,215.1 L1142.0,215.3 L1142.3,214.8 L1142.6,215.2 L1142.9,214.5 L1143.2,214.2 L1143.5,214.5 L1143.8,214.4 L1144.1,213.8 L1144.4,213.6 L1144.7,213.6 L1145.0,213.6 L1145.3,213.2 L1145.6,213.4 L1145.9,213.6 L1146.2,213.2 L1146.5,213.4 L1146.8,214.0 L1147.1,214.2 L1147.4,214.7 L1147.7,215.3 L1148.0,215.3 L1148.3,215.3 L1148.6,215.4 L1148.9,215.4 L1149.2,215.7 L1149.5,215.6 L1149.8,215.9 L1150.1,215.7 L1150.4,215.2 L1150.7,214.5 L1151.0,214.3 L1151.3,213.3 L1151.6,213.4 L1151.9,212.8 L1152.2,213.1 L1152.5,212.9 L1152.8,212.2 L1153.1,211.8 L1153.4,212.1 L1153.7,211.2 L1154.0,211.6 L1154.3,211.7 L1154.6,212.3 L1154.9,211.7 L1155.2,212.2 L1155.5,212.3 L1155.8,211.8 L1156.1,211.9 L1156.4,212.0 L1156.7,212.0 L1157.0,211.8 L1157.3,212.5 L1157.6,211.9 L1157.9,212.1 L1158.2,212.6 L1158.5,212.7 L1158.8,212.3 L1159.1,211.8 L1159.4,209.8 L1159.7,208.3 L1160.0,204.8 L1160.3,201.8 L1160.6,198.6 L1160.9,197.1 L1161.2,197.7 L1161.5,200.1 L1161.8,204.1 L1162.1,207.4 L1162.4,209.7 L1162.7,211.3 L1163.0,212.0 L1163.3,212.3 L1163.6,212.8 L1163.9,213.1 L1164.2,212.9 L1164.5,212.7 L1164.8,213.4 L1165.1,212.4 L1165.4,212.4 L1165.7,211.7 L1166.0,211.4 L1166.3,211.5 L1166.6,211.9 L1166.9,211.7 L1167.2,212.3 L1167.5,212.8 L1167.8,213.0 L1168.1,213.4 L1168.4,213.1 L1168.7,213.0 L1169.0,213.3 L1169.3,213.5 L1169.6,213.6 L1169.9,214.2 L1170.2,214.5 L1170.5,215.1 L1170.8,216.1 L1171.1,215.7 L1171.4,215.4 L1171.7,215.8 L1172.0,215.8 L1172.3,215.1 L1172.6,215.5 L1172.9,214.6 L1173.2,214.7 L1173.5,215.5 L1173.8,215.7 L1174.1,215.5 L1174.4,214.5 L1174.7,214.4 L1175.0,214.7 L1175.3,214.7 L1175.6,214.8 L1175.9,214.7 L1176.2,215.3 L1176.5,215.5 L1176.8,215.5 L1177.1,216.5 L1177.4,215.6 L1177.7,216.2 L1178.0,215.9 L1178.3,215.5 L1178.6,215.9 L1178.9,215.1 L1179.2,214.7 L1179.5,214.7 L1179.8,214.7 L1180.1,214.0 L1180.4,214.0 L1180.7,214.0 L1181.0,214.4 L1181.3,214.2 L1181.6,214.7 L1181.9,213.4 L1182.2,214.0 L1182.5,213.4 L1182.8,212.6 L1183.1,212.6 L1183.4,212.8 L1183.7,213.3 L1184.0,213.6 L1184.3,213.4 L1184.6,213.2 L1184.9,213.8 L1185.2,214.1 L1185.5,213.8 L1185.8,213.5 L1186.1,213.7 L1186.4,213.4 L1186.7,214.1 L1187.0,214.3 L1187.3,214.8 L1187.6,214.2 L1187.9,214.0 L1188.2,214.0 L1188.5,212.9 L1188.8,210.6 L1189.1,207.7 L1189.4,204.2 L1189.7,203.3 L1190.0,204.6 L1190.3,206.4 L1190.6,209.5 L1190.9,212.1 L1191.2,213.7 L1191.5,214.3 L1191.8,215.1 L1192.1,215.4 L1192.4,215.0 L1192.7,213.9 L1193.0,214.3 L1193.3,214.3 L1193.6,214.7 L1193.9,214.3 L1194.2,214.2 L1194.5,213.9 L1194.8,213.8 L1195.1,214.3 L1195.4,214.4 L1195.7,214.4 L1196.0,214.8 L1196.3,214.5 L1196.6,215.1 L1196.9,214.7 L1197.2,214.3 L1197.5,214.7 L1197.8,213.4 L1198.1,212.6 L1198.4,213.3 L1198.7,213.7 L1199.0,213.8 L1199.3,213.3 L1199.6,213.4 L1199.9,213.1 L1200.2,213.3 L1200.5,213.6 L1200.8,214.6 L1201.1,215.3 L1201.4,215.7 L1201.7,216.6 L1202.0,216.4 L1202.3,217.1 L1202.6,216.5 L1202.9,216.4 L1203.2,216.5 L1203.5,216.4 L1203.8,216.7 L1204.1,217.2 L1204.4,216.9 L1204.7,216.2 L1205.0,216.3 L1205.3,216.8 L1205.6,217.0 L1205.9,217.1 L1206.2,217.0 L1206.5,217.1 L1206.8,217.0 L1207.1,217.9 L1207.4,218.3 L1207.7,217.9 L1208.0,217.6 L1208.3,217.2 L1208.6,217.4 L1208.9,216.9 L1209.2,216.8 L1209.5,215.8 L1209.8,215.6 L1210.1,215.6 L1210.4,215.8 L1210.7,216.0 L1211.0,215.9 L1211.3,215.2 L1211.6,214.8 L1211.9,214.7 L1212.2,214.8 L1212.5,214.5 L1212.8,214.7 L1213.1,214.4 L1213.4,214.5 L1213.7,214.3 L1214.0,213.9 L1214.3,214.2 L1214.6,213.7 L1214.9,213.9 L1215.2,214.1 L1215.5,214.3 L1215.8,214.7 L1216.1,214.9 L1216.4,215.4 L1216.7,215.7 L1217.0,215.4 L1217.3,215.5 L1217.6,216.3 L1217.9,216.8 L1218.2,216.5 L1218.5,216.3 L1218.8,216.5 L1219.1,216.0 L1219.4,216.0 L1219.7,216.5 L1220.0,216.2 L1220.3,216.5 L1220.6,215.8 L1220.9,215.9 L1221.2,215.9 L1221.5,215.7 L1221.8,214.9 L1222.1,214.7 L1222.4,215.0 L1222.7,214.7 L1223.0,214.2 L1223.3,213.7 L1223.6,212.2 L1223.9,209.4 L1224.2,206.9 L1224.5,202.9 L1224.8,201.7 L1225.1,202.1 L1225.4,204.2 L1225.7,207.6 L1226.0,210.2 L1226.3,211.8 L1226.6,213.4 L1226.9,214.3 L1227.2,214.1 L1227.5,214.1 L1227.8,214.1 L1228.1,214.4 L1228.4,214.8 L1228.7,215.1 L1229.0,215.3 L1229.3,214.7 L1229.6,214.9 L1229.9,214.9 L1230.2,214.3 L1230.5,213.2 L1230.8,211.4 L1231.1,209.2 L1231.4,206.2 L1231.7,203.2 L1232.0,200.9 L1232.3,200.2 L1232.6,202.2 L1232.9,205.6 L1233.2,209.3 L1233.5,211.9 L1233.8,214.0 L1234.1,215.2 L1234.4,215.5 L1234.7,215.8 L1235.0,216.2 L1235.3,216.0 L1235.6,215.6 L1235.9,215.4 L1236.2,215.3 L1236.5,215.5 L1236.8,215.7 L1237.1,215.2 L1237.4,214.9 L1237.7,215.3 L1238.0,215.3 L1238.3,215.6 L1238.6,216.1 L1238.9,215.4 L1239.2,215.8 L1239.5,216.6 L1239.8,216.5 L1240.1,216.2 L1240.4,216.2 L1240.7,215.8 L1241.0,215.6 L1241.3,215.6 L1241.6,214.9 L1241.9,214.4 L1242.2,214.3 L1242.5,214.3 L1242.8,213.2 L1243.1,213.2 L1243.4,213.0 L1243.7,212.2 L1244.0,211.6 L1244.3,211.5 L1244.6,211.7 L1244.9,211.9 L1245.2,212.5 L1245.5,212.1 L1245.8,212.4 L1246.1,212.7 L1246.4,212.8 L1246.7,213.2 L1247.0,213.9 L1247.3,214.0 L1247.6,213.8 L1247.9,214.4 L1248.2,214.3 L1248.5,214.8 L1248.8,213.9 L1249.1,213.5 L1249.4,213.6 L1249.7,213.5 L1250.0,213.2 L1250.3,213.1 L1250.6,213.1 L1250.9,213.0 L1251.2,212.8 L1251.5,212.8 L1251.8,212.6 L1252.1,212.9 L1252.4,212.8 L1252.7,212.6 L1253.0,214.1 L1253.3,214.2 L1253.6,214.7 L1253.9,214.7 L1254.2,214.0 L1254.5,214.1 L1254.8,213.3 L1255.1,212.4 L1255.4,210.9 L1255.7,206.8 L1256.0,202.5 L1256.3,196.0 L1256.6,190.9 L1256.9,187.8 L1257.2,188.3 L1257.5,192.5 L1257.8,198.0 L1258.1,204.0 L1258.4,208.0 L1258.7,210.3 L1259.0,212.1 L1259.3,212.8 L1259.6,213.6 L1259.9,213.3 L1260.2,213.1 L1260.5,213.0 L1260.8,212.9 L1261.1,212.5 L1261.4,212.5 L1261.7,213.2 L1262.0,213.6 L1262.3,213.1 L1262.6,214.4 L1262.9,214.4 L1263.2,213.7 L1263.5,213.9 L1263.8,214.2 L1264.1,214.3 L1264.4,215.3 L1264.7,214.7 L1265.0,214.0 L1265.3,214.2 L1265.6,214.2 L1265.9,213.3 L1266.2,213.6 L1266.5,213.7 L1266.8,213.2 L1267.1,214.2 L1267.4,214.3 L1267.7,214.0 L1268.0,213.6 L1268.3,213.7 L1268.6,214.0 L1268.9,215.0 L1269.2,215.6 L1269.5,215.4 L1269.8,215.6 L1270.1,215.7 L1270.4,216.2 L1270.7,215.6 L1271.0,215.8 L1271.3,215.3 L1271.6,215.3 L1271.9,216.1 L1272.2,216.5 L1272.5,215.8 L1272.8,215.8 L1273.1,215.6 L1273.4,215.3 L1273.7,215.5 L1274.0,215.1 L1274.3,214.5 L1274.6,214.5 L1274.9,214.8 L1275.2,214.9 L1275.5,214.7 L1275.8,215.0 L1276.1,214.6 L1276.4,215.2 L1276.7,215.3 L1277.0,215.7 L1277.3,215.6 L1277.6,216.0 L1277.9,216.4 L1278.2,216.9 L1278.5,217.3 L1278.8,216.9 L1279.1,217.3 L1279.4,217.5 L1279.7,217.1 L1280.0,216.7 L1280.3,216.5 L1280.6,215.8 L1280.9,216.1 L1281.2,216.3 L1281.5,215.9 L1281.8,215.5 L1282.1,215.4 L1282.4,215.7 L1282.7,215.6 L1283.0,215.4 L1283.3,214.8 L1283.6,214.6 L1283.9,214.8 L1284.2,215.2 L1284.5,215.0 L1284.8,215.4 L1285.1,214.7 L1285.4,215.4 L1285.7,215.7 L1286.0,216.0 L1286.3,215.7 L1286.6,215.3 L1286.9,215.0 L1287.2,215.4 L1287.5,215.9 L1287.8,215.9 L1288.1,215.3 L1288.4,215.6 L1288.7,215.5 L1289.0,215.7 L1289.3,215.5 L1289.6,214.8 L1289.9,213.9 L1290.2,214.5 L1290.5,214.6 L1290.8,215.2 L1291.1,215.1 L1291.4,215.0 L1291.7,214.9 L1292.0,215.0 L1292.3,215.3 L1292.6,215.0 L1292.9,214.9 L1293.2,215.5 L1293.5,215.6 L1293.8,216.1 L1294.1,215.9 L1294.4,215.7 L1294.7,215.9 L1295.0,215.3 L1295.3,215.4 L1295.6,215.6 L1295.9,216.2 L1296.2,216.3 L1296.5,216.5 L1296.8,216.5 L1297.1,216.4 L1297.4,216.3 L1297.7,216.5 L1298.0,217.4 L1298.3,217.1 L1298.6,217.5 L1298.9,217.9 L1299.2,217.9 L1299.5,217.4 L1299.8,216.8 L1300.1,216.2 L1300.4,216.8 L1300.7,216.9 L1301.0,216.8 L1301.3,217.3 L1301.6,216.8 L1301.9,216.8 L1302.2,216.3 L1302.5,216.1 L1302.8,215.9 L1303.1,215.8 L1303.4,216.0 L1303.7,216.5 L1304.0,216.8 L1304.3,216.8 L1304.6,215.9 L1304.9,216.0 L1305.2,215.7 L1305.5,215.8 L1305.8,214.6 L1306.1,215.0 L1306.4,214.9 L1306.7,215.0 L1307.0,215.2 L1307.3,214.9 L1307.6,214.6 L1307.9,215.1 L1308.2,215.1 L1308.5,214.9 L1308.8,214.8 L1309.1,214.3 L1309.4,214.4 L1309.7,214.5 L1310.0,214.7 L1310.3,215.3 L1310.6,215.6 L1310.9,215.4 L1311.2,215.4 L1311.5,215.3 L1311.8,214.7 L1312.1,215.3 L1312.4,215.0 L1312.7,215.1 L1313.0,215.5 L1313.3,215.2 L1313.6,215.5 L1313.9,215.2 L1314.2,215.1 L1314.5,214.6 L1314.8,214.6 L1315.1,214.6 L1315.4,214.7 L1315.7,215.3 L1316.0,215.0 L1316.3,214.5 L1316.6,214.7 L1316.9,215.0 L1317.2,214.8 L1317.5,215.0 L1317.8,214.1 L1318.1,213.9 L1318.4,213.8 L1318.7,214.3 L1319.0,214.3 L1319.3,214.4 L1319.6,214.1 L1319.9,213.8 L1320.2,213.9 L1320.5,214.0 L1320.8,214.1 L1321.1,213.8 L1321.4,213.9 L1321.7,213.9 L1322.0,214.1 L1322.3,214.6 L1322.6,214.5 L1322.9,214.2 L1323.2,213.7 L1323.5,213.4 L1323.8,213.2 L1324.1,212.6 L1324.4,212.5 L1324.7,211.7 L1325.0,211.5 L1325.3,211.5 L1325.6,211.6 L1325.9,211.8 L1326.2,211.5 L1326.5,211.5 L1326.8,211.3 L1327.1,211.3 L1327.4,211.9 L1327.7,211.8 L1328.0,211.9 L1328.3,211.6 L1328.6,211.5 L1328.9,211.6 L1329.2,210.8 L1329.5,211.0 L1329.8,210.9 L1330.1,210.5 L1330.4,210.5 L1330.7,209.9 L1331.0,209.4 L1331.3,209.2 L1331.6,209.5 L1331.9,209.5 L1332.2,209.9 L1332.5,210.0 L1332.8,210.5 L1333.1,211.0 L1333.4,210.6 L1333.7,210.5 L1334.0,210.9 L1334.3,210.9 L1334.6,211.4 L1334.9,211.3 L1335.2,211.1 L1335.5,210.4 L1335.8,210.7 L1336.1,210.1 L1336.4,210.1 L1336.7,210.5 L1337.0,210.3 L1337.3,210.1 L1337.6,211.0 L1337.9,210.6 L1338.2,210.7 L1338.5,210.7 L1338.8,210.4 L1339.1,211.5 L1339.4,211.6 L1339.7,212.3 L1340.0,213.0 L1340.3,213.3 L1340.6,213.3 L1340.9,213.7 L1341.2,213.7 L1341.5,213.7 L1341.8,214.1 L1342.1,214.6 L1342.4,214.9 L1342.7,214.2 L1343.0,213.4 L1343.3,213.5 L1343.6,213.8 L1343.9,214.0 L1344.2,213.5 L1344.5,213.8 L1344.8,214.2 L1345.1,213.9 L1345.4,213.5 L1345.7,213.5 L1346.0,213.3 L1346.3,212.6 L1346.6,212.5 L1346.9,213.0 L1347.2,213.1 L1347.5,213.8 L1347.8,213.4 L1348.1,213.2 L1348.4,213.4 L1348.7,212.9 L1349.0,213.2 L1349.3,213.6 L1349.6,214.2 L1349.9,214.5 L1350.2,215.0 L1350.5,215.4 L1350.8,215.6 L1351.1,215.3 L1351.4,214.7 L1351.7,214.9 L1352.0,215.0 L1352.3,214.9 L1352.6,214.7 L1352.9,214.6 L1353.2,214.1 L1353.5,213.7 L1353.8,213.4 L1354.1,213.3 L1354.4,213.3 L1354.7,212.4 L1355.0,212.0 L1355.3,212.4 L1355.6,212.1 L1355.9,212.1 L1356.2,212.1 L1356.5,212.3 L1356.8,212.7 L1357.1,213.3 L1357.4,213.6 L1357.7,213.9 L1358.0,214.4 L1358.3,214.7 L1358.6,214.7 L1358.9,215.0 L1359.2,215.6 L1359.5,215.5 L1359.8,215.7 L1360.1,215.5 L1360.4,216.0 L1360.7,216.6 L1361.0,216.3 L1361.3,216.5 L1361.6,216.4 L1361.9,216.9 L1362.2,216.6 L1362.5,217.3 L1362.8,217.5 L1363.1,217.8 L1363.4,217.2 L1363.7,218.2 L1364.0,218.8 L1364.3,219.1 L1364.6,218.6 L1364.9,217.8 L1365.2,217.6 L1365.5,217.5 L1365.8,217.8 L1366.1,217.1 L1366.4,216.9 L1366.7,216.9 L1367.0,217.1 L1367.3,217.8 L1367.6,216.8 L1367.9,217.0 L1368.2,217.3 L1368.5,217.6 L1368.8,218.4 L1369.1,218.3 L1369.4,218.4 L1369.7,218.3 L1370.0,218.3 L1370.3,218.9 L1370.6,218.8 L1370.9,218.5 L1371.2,218.5 L1371.5,219.3 L1371.8,219.2 L1372.1,219.0 L1372.4,218.8 L1372.7,218.6 L1373.0,218.9 L1373.3,219.2 L1373.6,218.9 L1373.9,219.8 L1374.2,219.8 L1374.5,220.2 L1374.8,220.0 L1375.1,220.3 L1375.4,220.7 L1375.7,219.8 L1376.0,219.7 L1376.3,219.3 L1376.6,218.4 L1376.9,217.7 L1377.2,216.9 L1377.5,216.6 L1377.8,216.2 L1378.1,216.3 L1378.4,215.6 L1378.7,215.7 L1379.0,215.2 L1379.3,214.8 L1379.6,214.7 L1379.9,214.9 L1380.2,215.2 L1380.5,215.4 L1380.8,215.6 L1381.1,216.1 L1381.4,215.6 L1381.7,216.6 L1382.0,216.9 L1382.3,216.2 L1382.6,215.9 L1382.9,216.2 L1383.2,216.6 L1383.5,215.8 L1383.8,215.7 L1384.1,215.2 L1384.4,215.2 L1384.7,215.4 L1385.0,215.8 L1385.3,216.0 L1385.6,215.7 L1385.9,215.7 L1386.2,215.4 L1386.5,216.3 L1386.8,216.0 L1387.1,216.3 L1387.4,216.9 L1387.7,216.8 L1388.0,216.8 L1388.3,217.5 L1388.6,217.1 L1388.9,217.0 L1389.2,217.5 L1389.5,217.4 L1389.8,216.8 L1390.1,217.0 L1390.4,216.7 L1390.7,216.9 L1391.0,216.1 L1391.3,216.0 L1391.6,216.0 L1391.9,216.2 L1392.2,216.3 L1392.5,216.7 L1392.8,216.5 L1393.1,216.0 L1393.4,216.4 L1393.7,216.1 L1394.0,216.0 L1394.3,216.6 L1394.6,216.6 L1394.9,216.5 L1395.2,216.8 L1395.5,216.6 L1395.8,216.8 L1396.1,216.4 L1396.4,216.4 L1396.7,216.5 L1397.0,216.4 L1397.3,216.6 L1397.6,216.7 L1397.9,216.8 L1398.2,216.8 L1398.5,217.1 L1398.8,216.9 L1399.1,217.2 L1399.4,216.8 L1399.7,216.7 L1400.0,216.5 L1400.3,216.4 L1400.6,216.0 L1400.9,215.6 L1401.2,215.4 L1401.5,215.1 L1401.8,215.8 L1402.1,216.3 L1402.4,216.3 L1402.7,216.0 L1403.0,216.2 L1403.3,216.4 L1403.6,216.6 L1403.9,217.3 L1404.2,217.8 L1404.5,218.1 L1404.8,218.9 L1405.1,219.3 L1405.4,219.7 L1405.7,219.8 L1406.0,218.9 L1406.3,218.9 L1406.6,219.5 L1406.9,218.9 L1407.2,219.1 L1407.5,218.5 L1407.8,218.4 L1408.1,217.9 L1408.4,217.8 L1408.7,217.8 L1409.0,217.2 L1409.3,216.9 L1409.6,216.6 L1409.9,216.5 L1410.2,217.1 L1410.5,217.3 L1410.8,216.6 L1411.1,216.3 L1411.4,216.6 L1411.7,216.9 L1412.0,217.1 L1412.3,217.2 L1412.6,217.4 L1412.9,217.3 L1413.2,216.7 L1413.5,216.6 L1413.8,217.1 L1414.1,216.8 L1414.4,216.6 L1414.7,216.9 L1415.0,216.5 L1415.3,216.9 L1415.6,217.0 L1415.9,217.3 L1416.2,217.8 L1416.5,218.1 L1416.8,217.9 L1417.1,217.9 L1417.4,218.4 L1417.7,218.3 L1418.0,218.4 L1418.3,217.8 L1418.6,217.5 L1418.9,218.1 L1419.2,218.7 L1419.5,218.3 L1419.8,218.2 L1420.1,217.8 L1420.4,217.8 L1420.7,217.6 L1421.0,217.8 L1421.3,218.1 L1421.6,217.9 L1421.9,217.5 L1422.2,217.7 L1422.5,217.6 L1422.8,217.7 L1423.1,217.9 L1423.4,217.5 L1423.7,217.3 L1424.0,216.8 L1424.3,217.2 L1424.6,216.8 L1424.9,216.8 L1425.2,217.2 L1425.5,217.8 L1425.8,217.7 L1426.1,217.7 L1426.4,217.8 L1426.7,217.7 L1427.0,217.7 L1427.3,218.1 L1427.6,218.1 L1427.9,219.0 L1428.2,219.0 L1428.5,219.3 L1428.8,219.8 L1429.1,219.3 L1429.4,219.0 L1429.7,218.6 L1430.0,218.9 L1430.3,219.7 L1430.6,220.0 L1430.9,219.8 L1431.2,219.6 L1431.5,219.4 L1431.8,219.3 L1432.1,220.0 L1432.4,219.0 L1432.7,218.6 L1433.0,218.5 L1433.3,218.8 L1433.6,219.1 L1433.9,219.3 L1434.2,219.0 L1434.5,218.4 L1434.8,218.3 L1435.1,217.8 L1435.4,217.6 L1435.7,217.5 L1436.0,217.7 L1436.3,217.0 L1436.6,217.2 L1436.9,217.5 L1437.2,217.3 L1437.5,216.9 L1437.8,216.7 L1438.1,217.2 L1438.4,217.0 L1438.7,217.4 L1439.0,217.8 L1439.3,218.7 L1439.6,218.2 L1439.9,218.3 L1440.2,218.3 L1440.5,218.2 L1440.8,218.8 L1441.1,218.8 L1441.4,218.8 L1441.7,219.2 L1442.0,218.8 L1442.3,219.1 L1442.6,218.9 L1442.9,218.7 L1443.2,218.0 L1443.5,217.6 L1443.8,217.6 L1444.1,218.1 L1444.4,218.5 L1444.7,218.4 L1445.0,218.5 L1445.3,218.4 L1445.6,218.4 L1445.9,217.7 L1446.2,217.7 L1446.5,217.4 L1446.8,217.6 L1447.1,217.8 L1447.4,217.9 L1447.7,217.9 L1448.0,217.4 L1448.3,217.7 L1448.6,217.5 L1448.9,217.3 L1449.2,217.0 L1449.5,216.5 L1449.8,216.4 L1450.1,216.7 L1450.4,217.4 L1450.7,217.4 L1451.0,217.7 L1451.3,217.0 L1451.6,217.0 L1451.9,218.1 L1452.2,218.2 L1452.5,218.7 L1452.8,218.5 L1453.1,218.5 L1453.4,218.1 L1453.7,218.8 L1454.0,218.9 L1454.3,218.8 L1454.6,219.0 L1454.9,219.0 L1455.2,219.4 L1455.5,220.0 L1455.8,220.0 L1456.1,219.8 L1456.4,219.0 L1456.7,219.5 L1457.0,219.1 L1457.3,219.3 L1457.6,219.4 L1457.9,219.3 L1458.2,218.7 L1458.5,218.9 L1458.8,218.4 L1459.1,218.5 L1459.4,218.8 L1459.7,218.1 L1460.0,218.1 L1460.3,217.9 L1460.6,217.8 L1460.9,218.3 L1461.2,217.9 L1461.5,218.4 L1461.8,218.1 L1462.1,218.5 L1462.4,218.7 L1462.7,218.3 L1463.0,218.5 L1463.3,218.0 L1463.6,217.7 L1463.9,218.2 L1464.2,217.8 L1464.5,217.6 L1464.8,217.5 L1465.1,217.2 L1465.4,217.0 L1465.7,217.0 L1466.0,216.9 L1466.3,217.2 L1466.6,218.1 L1466.9,218.3 L1467.2,218.4 L1467.5,218.4 L1467.8,218.8 L1468.1,219.1 L1468.4,219.3 L1468.7,219.9 L1469.0,220.1 L1469.3,219.7 L1469.6,219.3 L1469.9,219.6 L1470.2,219.0 L1470.5,218.8 L1470.8,217.9 L1471.1,217.9 L1471.4,217.6 L1471.7,217.4 L1472.0,217.3 L1472.3,216.8 L1472.6,217.0 L1472.9,216.8 L1473.2,217.2 L1473.5,217.1 L1473.8,217.4 L1474.1,217.4 L1474.4,217.2 L1474.7,217.1 L1475.0,217.2 L1475.3,217.2 L1475.6,217.6 L1475.9,217.7 L1476.2,217.9 L1476.5,217.6 L1476.8,217.2" fill="none" stroke="#f00" stroke-width="2.6" stroke-linejoin="round"/>
<path d="M933.5,195.1 L933.6,199.4 L933.8,192.9 L933.9,196.1 L934.1,195.8 L934.2,193.5 L934.4,197.8 L934.5,194.2 L934.7,189.8 L934.8,191.8 L935.0,194.4 L935.1,195.8 L935.3,196.2 L935.4,197.4 L935.6,196.5 L935.7,193.3 L935.9,194.4 L936.0,197.6 L936.2,194.8 L936.3,189.7 L936.5,196.1 L936.6,199.4 L936.8,200.0 L936.9,192.3 L937.1,193.3 L937.2,190.5 L937.4,197.6 L937.5,192.8 L937.7,192.2 L937.8,192.7 L938.0,195.0 L938.1,191.0 L938.3,198.8 L938.4,195.8 L938.6,194.0 L938.7,193.9 L938.9,192.3 L939.0,189.7 L939.2,199.6 L939.3,190.2 L939.5,192.5 L939.6,196.5 L939.8,199.0 L939.9,193.9 L940.1,195.9 L940.2,201.7 L940.4,191.5 L940.5,206.2 L940.7,196.9 L940.8,193.0 L941.0,190.9 L941.1,196.0 L941.3,196.2 L941.4,194.4 L941.6,193.2 L941.7,192.4 L941.9,199.5 L942.0,195.4 L942.2,193.5 L942.3,206.0 L942.5,196.0 L942.6,196.8 L942.8,192.9 L942.9,192.7 L943.1,199.1 L943.2,197.2 L943.4,193.6 L943.5,196.4 L943.7,196.4 L943.8,198.4 L944.0,194.9 L944.1,196.7 L944.3,191.9 L944.4,197.4 L944.6,199.2 L944.7,196.7 L944.9,197.2 L945.0,195.5 L945.2,193.9 L945.3,198.0 L945.5,197.1 L945.6,198.2 L945.8,196.0 L945.9,199.9 L946.1,195.5 L946.2,197.9 L946.4,192.1 L946.5,200.0 L946.7,197.1 L946.8,198.9 L947.0,196.3 L947.1,196.8 L947.3,196.8 L947.4,200.0 L947.6,198.7 L947.7,200.5 L947.9,195.2 L948.0,199.0 L948.2,192.2 L948.3,199.8 L948.5,201.0 L948.6,191.1 L948.8,195.9 L948.9,193.5 L949.1,197.7 L949.2,197.6 L949.4,200.1 L949.5,198.0 L949.7,195.0 L949.8,200.2 L950.0,200.0 L950.1,199.2 L950.3,196.8 L950.4,197.8 L950.6,199.7 L950.7,197.4 L950.9,199.4 L951.0,201.2 L951.2,198.2 L951.3,196.5 L951.5,199.9 L951.6,199.0 L951.8,196.8 L951.9,198.2 L952.1,193.5 L952.2,198.8 L952.4,202.7 L952.5,199.5 L952.7,200.2 L952.8,201.3 L953.0,196.4 L953.1,199.6 L953.3,195.2 L953.4,196.4 L953.6,193.7 L953.7,193.8 L953.9,195.1 L954.0,199.2 L954.2,199.3 L954.3,195.5 L954.5,196.7 L954.6,194.4 L954.8,197.1 L954.9,199.1 L955.1,195.8 L955.2,193.1 L955.4,195.4 L955.5,195.2 L955.7,202.6 L955.8,198.0 L956.0,192.9 L956.1,198.2 L956.3,194.0 L956.4,199.0 L956.6,193.7 L956.7,197.8 L956.9,199.2 L957.0,198.0 L957.2,191.7 L957.3,198.1 L957.5,198.7 L957.6,197.9 L957.8,199.6 L957.9,197.2 L958.1,192.8 L958.2,199.1 L958.4,201.7 L958.5,197.2 L958.7,197.3 L958.8,197.2 L959.0,197.2 L959.1,198.1 L959.3,200.6 L959.4,193.8 L959.6,192.2 L959.7,191.6 L959.9,200.8 L960.0,203.6 L960.2,195.9 L960.3,193.9 L960.5,201.3 L960.6,198.5 L960.8,195.1 L960.9,200.6 L961.1,198.7 L961.2,199.4 L961.4,198.5 L961.5,194.6 L961.7,197.6 L961.8,195.1 L962.0,198.7 L962.1,199.5 L962.3,196.6 L962.4,203.1 L962.6,199.9 L962.7,198.4 L962.9,199.2 L963.0,197.4 L963.2,197.5 L963.3,199.4 L963.5,196.3 L963.6,187.3 L963.8,202.5 L963.9,198.4 L964.1,204.2 L964.2,200.8 L964.4,200.1 L964.5,199.8 L964.7,194.4 L964.8,199.7 L965.0,196.0 L965.1,193.8 L965.3,200.2 L965.4,200.6 L965.6,201.7 L965.7,196.4 L965.9,200.8 L966.0,195.3 L966.2,202.2 L966.3,206.9 L966.5,206.1 L966.6,198.9 L966.8,192.5 L966.9,197.5 L967.1,194.0 L967.2,197.4 L967.4,197.2 L967.5,192.2 L967.7,198.5 L967.8,197.7 L968.0,186.6 L968.1,198.2 L968.3,195.3 L968.4,200.2 L968.6,197.3 L968.7,199.9 L968.9,194.0 L969.0,202.2 L969.2,193.7 L969.3,199.1 L969.5,197.9 L969.6,196.8 L969.8,199.2 L969.9,193.9 L970.1,198.6 L970.2,196.5 L970.4,191.4 L970.5,199.7 L970.7,198.2 L970.8,196.3 L971.0,195.2 L971.1,194.8 L971.3,193.3 L971.4,196.3 L971.6,194.6 L971.7,194.5 L971.9,190.5 L972.0,196.6 L972.2,187.3 L972.3,194.4 L972.5,191.4 L972.6,192.9 L972.8,184.0 L972.9,196.5 L973.1,193.7 L973.2,192.5 L973.4,191.0 L973.5,195.4 L973.7,189.6 L973.8,189.7 L974.0,192.4 L974.1,194.4 L974.3,195.5 L974.4,191.3 L974.6,191.0 L974.7,197.2 L974.9,184.9 L975.0,198.6 L975.2,191.4 L975.3,190.8 L975.5,189.8 L975.6,184.6 L975.8,196.2 L975.9,189.5 L976.1,198.2 L976.2,198.6 L976.4,190.6 L976.5,195.7 L976.7,192.9 L976.8,186.8 L977.0,198.5 L977.1,194.0 L977.3,197.3 L977.4,196.4 L977.6,191.4 L977.7,200.0 L977.9,192.2 L978.0,199.3 L978.2,196.6 L978.3,196.9 L978.5,190.6 L978.6,197.4 L978.8,195.5 L978.9,194.1 L979.1,194.7 L979.2,193.6 L979.4,196.1 L979.5,192.8 L979.7,194.5 L979.8,191.0 L980.0,192.0 L980.1,192.4 L980.3,190.5 L980.4,197.1 L980.6,193.9 L980.7,193.7 L980.9,198.8 L981.0,198.7 L981.2,189.4 L981.3,188.0 L981.5,193.6 L981.6,188.1 L981.8,192.6 L981.9,193.2 L982.1,193.2 L982.2,195.7 L982.4,193.4 L982.5,183.8 L982.7,194.0 L982.8,190.1 L983.0,192.9 L983.1,193.2 L983.3,187.7 L983.4,191.6 L983.6,188.2 L983.7,195.9 L983.9,193.9 L984.0,189.3 L984.2,189.0 L984.3,187.3 L984.5,195.3 L984.6,194.5 L984.8,192.4 L984.9,190.0 L985.1,193.4 L985.2,187.7 L985.4,195.2 L985.5,199.6 L985.7,188.5 L985.8,189.3 L986.0,188.2 L986.1,193.0 L986.3,192.6 L986.4,190.6 L986.6,191.8 L986.7,190.5 L986.9,189.1 L987.0,188.9 L987.2,190.7 L987.3,191.3 L987.5,188.1 L987.6,188.8 L987.8,190.9 L987.9,192.8 L988.1,186.2 L988.2,185.2 L988.4,192.0 L988.5,196.3 L988.7,185.1 L988.8,195.4 L989.0,188.7 L989.1,190.0 L989.3,192.8 L989.4,186.4 L989.6,185.6 L989.7,186.9 L989.9,190.9 L990.0,187.3 L990.2,191.0 L990.3,195.3 L990.5,190.9 L990.6,188.1 L990.8,189.8 L990.9,190.0 L991.1,191.2 L991.2,190.9 L991.4,188.4 L991.5,188.9 L991.7,189.2 L991.8,186.5 L992.0,189.6 L992.1,183.3 L992.3,190.2 L992.4,185.8 L992.6,182.2 L992.7,177.7 L992.9,175.4 L993.0,167.7 L993.2,159.4 L993.3,159.1 L993.5,153.4 L993.6,152.2 L993.8,153.5 L993.9,157.8 L994.1,167.1 L994.2,169.4 L994.4,177.6 L994.5,180.9 L994.7,184.7 L994.8,184.0 L995.0,193.0 L995.1,186.7 L995.3,192.7 L995.4,187.0 L995.6,186.0 L995.7,189.9 L995.9,192.4 L996.0,191.5 L996.2,189.4 L996.3,187.8 L996.5,187.4 L996.6,187.5 L996.8,186.7 L996.9,191.6 L997.1,190.1 L997.2,186.9 L997.4,190.3 L997.5,189.4 L997.7,191.0 L997.8,187.6 L998.0,191.3 L998.1,188.3 L998.3,186.5 L998.4,188.8 L998.6,187.3 L998.7,186.2 L998.9,187.3 L999.0,186.2 L999.2,184.8 L999.3,180.4 L999.5,187.9 L999.6,186.9 L999.8,187.7 L999.9,190.7 L1000.1,189.2 L1000.2,190.1 L1000.4,185.6 L1000.5,189.4 L1000.7,184.6 L1000.8,184.5 L1001.0,188.2 L1001.1,189.3 L1001.3,189.2 L1001.4,187.1 L1001.6,191.8 L1001.7,179.2 L1001.9,183.9 L1002.0,186.9 L1002.2,192.2 L1002.3,187.4 L1002.5,182.7 L1002.6,189.6 L1002.8,188.0 L1002.9,187.1 L1003.1,186.3 L1003.2,185.6 L1003.4,186.5 L1003.5,181.2 L1003.7,188.1 L1003.8,182.1 L1004.0,181.3 L1004.1,178.4 L1004.3,184.4 L1004.4,188.3 L1004.6,181.3 L1004.7,183.5 L1004.9,189.3 L1005.0,189.1 L1005.2,188.2 L1005.3,190.5 L1005.5,186.1 L1005.6,186.8 L1005.8,187.9 L1005.9,182.9 L1006.1,189.1 L1006.2,182.0 L1006.4,186.2 L1006.5,185.9 L1006.7,183.2 L1006.8,185.6 L1007.0,181.3 L1007.1,189.4 L1007.3,182.3 L1007.4,185.6 L1007.6,185.2 L1007.7,187.2 L1007.9,187.3 L1008.0,188.7 L1008.2,184.0 L1008.3,188.0 L1008.5,188.8 L1008.6,181.9 L1008.8,187.4 L1008.9,187.1 L1009.1,193.2 L1009.2,187.2 L1009.4,197.2 L1009.5,188.3 L1009.7,193.0 L1009.8,186.6 L1010.0,189.5 L1010.1,192.4 L1010.3,184.5 L1010.4,190.3 L1010.6,187.2 L1010.7,187.9 L1010.9,191.4 L1011.0,191.1 L1011.2,190.7 L1011.3,192.8 L1011.5,187.7 L1011.6,188.1 L1011.8,192.6 L1011.9,192.9 L1012.1,190.2 L1012.2,190.0 L1012.4,190.9 L1012.5,200.3 L1012.7,187.5 L1012.8,191.3 L1013.0,187.3 L1013.1,194.0 L1013.3,195.0 L1013.4,189.6 L1013.6,184.6 L1013.7,190.0 L1013.9,187.8 L1014.0,190.5 L1014.2,189.8 L1014.3,199.2 L1014.5,195.0 L1014.6,190.1 L1014.8,192.6 L1014.9,190.6 L1015.1,192.3 L1015.2,192.3 L1015.4,190.3 L1015.5,193.1 L1015.7,190.9 L1015.8,189.8 L1016.0,188.3 L1016.1,193.8 L1016.3,195.7 L1016.4,187.1 L1016.6,192.7 L1016.7,189.9 L1016.9,190.7 L1017.0,193.1 L1017.2,186.2 L1017.3,191.3 L1017.5,186.9 L1017.6,190.1 L1017.8,188.9 L1017.9,189.1 L1018.1,187.6 L1018.2,189.5 L1018.4,190.5 L1018.5,187.5 L1018.7,190.0 L1018.8,190.4 L1019.0,186.4 L1019.1,190.3 L1019.3,184.4 L1019.4,185.3 L1019.6,184.0 L1019.7,190.8 L1019.9,189.5 L1020.0,195.6 L1020.2,190.3 L1020.3,187.1 L1020.5,195.2 L1020.6,190.7 L1020.8,191.8 L1020.9,189.1 L1021.1,184.3 L1021.2,194.8 L1021.4,189.1 L1021.5,190.1 L1021.7,190.1 L1021.8,189.9 L1022.0,190.7 L1022.1,189.7 L1022.3,189.9 L1022.4,196.4 L1022.6,191.9 L1022.7,188.8 L1022.9,188.1 L1023.0,192.3 L1023.2,191.4 L1023.3,193.7 L1023.5,197.4 L1023.6,195.1 L1023.8,192.3 L1023.9,192.5 L1024.1,190.3 L1024.2,186.4 L1024.4,189.5 L1024.5,191.5 L1024.7,193.1 L1024.8,191.1 L1025.0,195.2 L1025.1,203.2 L1025.3,194.1 L1025.4,188.0 L1025.6,188.7 L1025.7,191.9 L1025.9,192.9 L1026.0,188.2 L1026.2,193.7 L1026.3,189.0 L1026.5,196.7 L1026.6,191.1 L1026.8,188.3 L1026.9,194.6 L1027.1,188.5 L1027.2,190.4 L1027.4,190.4 L1027.5,194.7 L1027.7,184.3 L1027.8,182.2 L1028.0,179.1 L1028.1,175.2 L1028.3,187.8 L1028.4,175.6 L1028.6,184.9 L1028.7,190.9 L1028.9,184.3 L1029.0,188.5 L1029.2,183.1 L1029.3,192.0 L1029.5,191.9 L1029.6,192.9 L1029.8,194.8 L1029.9,198.1 L1030.1,192.5 L1030.2,190.7 L1030.4,188.4 L1030.5,193.9 L1030.7,195.5 L1030.8,200.0 L1031.0,198.7 L1031.1,189.6 L1031.3,193.8 L1031.4,192.5 L1031.6,191.9 L1031.7,198.9 L1031.9,198.7 L1032.0,195.7 L1032.2,189.6 L1032.3,197.5 L1032.5,197.4 L1032.6,193.5 L1032.8,203.3 L1032.9,197.4 L1033.1,195.9 L1033.2,197.1 L1033.4,197.5 L1033.5,199.7 L1033.7,198.4 L1033.8,200.3 L1034.0,191.9 L1034.1,198.2 L1034.3,197.3 L1034.4,202.1 L1034.6,200.9 L1034.7,200.0 L1034.9,197.1 L1035.0,201.3 L1035.2,197.9 L1035.3,194.5 L1035.5,200.2 L1035.6,198.6 L1035.8,199.7 L1035.9,203.0 L1036.1,193.7 L1036.2,200.2 L1036.4,197.1 L1036.5,194.3 L1036.7,196.7 L1036.8,194.3 L1037.0,198.5 L1037.1,197.8 L1037.3,198.9 L1037.4,195.5 L1037.6,199.0 L1037.7,197.7 L1037.9,198.3 L1038.0,203.2 L1038.2,203.8 L1038.3,205.2 L1038.5,204.4 L1038.6,203.3 L1038.8,200.1 L1038.9,199.0 L1039.1,198.6 L1039.2,198.6 L1039.4,203.5 L1039.5,201.2 L1039.7,199.6 L1039.8,198.5 L1040.0,198.2 L1040.1,197.9 L1040.3,202.6 L1040.4,197.6 L1040.6,198.1 L1040.7,202.2 L1040.9,204.2 L1041.0,197.4 L1041.2,201.6 L1041.3,200.6 L1041.5,204.8 L1041.6,203.4 L1041.8,200.2 L1041.9,200.8 L1042.1,206.7 L1042.2,196.6 L1042.4,200.4 L1042.5,198.9 L1042.7,197.5 L1042.8,203.5 L1043.0,205.9 L1043.1,200.5 L1043.3,205.2 L1043.4,204.5 L1043.6,205.7 L1043.7,195.8 L1043.9,206.2 L1044.0,204.1 L1044.2,201.5 L1044.3,205.5 L1044.5,194.3 L1044.6,202.3 L1044.8,200.9 L1044.9,201.8 L1045.1,199.0 L1045.2,200.5 L1045.4,203.3 L1045.5,208.1 L1045.7,193.2 L1045.8,202.0 L1046.0,201.1 L1046.1,197.0 L1046.3,198.6 L1046.4,200.5 L1046.6,202.8 L1046.8,200.9 L1046.9,202.7 L1047.1,197.8 L1047.2,198.5 L1047.4,195.6 L1047.5,197.7 L1047.7,193.6 L1047.8,193.1 L1048.0,193.6 L1048.1,190.6 L1048.3,189.0 L1048.4,181.3 L1048.6,185.3 L1048.7,175.8 L1048.9,192.6 L1049.0,190.3 L1049.2,185.0 L1049.3,192.0 L1049.5,201.2 L1049.6,197.2 L1049.8,201.0 L1049.9,200.6 L1050.1,202.0 L1050.2,200.3 L1050.4,208.2 L1050.5,205.6 L1050.7,196.3 L1050.8,209.5 L1051.0,206.7 L1051.1,209.9 L1051.3,200.1 L1051.4,199.8 L1051.6,200.1 L1051.7,203.7 L1051.9,205.5 L1052.0,204.8 L1052.2,202.7 L1052.3,197.2 L1052.5,199.2 L1052.6,202.1 L1052.8,199.9 L1052.9,206.6 L1053.1,204.1 L1053.2,209.1 L1053.4,204.9 L1053.5,203.4 L1053.7,205.6 L1053.8,205.7 L1054.0,205.3 L1054.1,202.5 L1054.3,207.2 L1054.4,202.8 L1054.6,205.2 L1054.7,201.1 L1054.9,204.0 L1055.0,201.4 L1055.2,207.2 L1055.3,203.2 L1055.5,206.0 L1055.6,201.0 L1055.8,208.8 L1055.9,203.4 L1056.1,200.4 L1056.2,207.0 L1056.4,202.5 L1056.5,201.8 L1056.7,205.4 L1056.8,207.0 L1057.0,203.4 L1057.1,199.5 L1057.3,205.7 L1057.4,204.3 L1057.6,200.9 L1057.7,204.5 L1057.9,201.1 L1058.0,205.5 L1058.2,204.5 L1058.3,203.7 L1058.5,205.4 L1058.6,200.0 L1058.8,206.9 L1058.9,207.5 L1059.1,202.0 L1059.2,209.5 L1059.4,206.4 L1059.5,205.8 L1059.7,207.8 L1059.8,204.8 L1060.0,208.2 L1060.1,204.4 L1060.3,207.1 L1060.4,209.5 L1060.6,203.4 L1060.7,201.6 L1060.9,206.9 L1061.0,205.9 L1061.2,204.8 L1061.3,207.6 L1061.5,206.0 L1061.6,213.9 L1061.8,212.7 L1061.9,207.2 L1062.1,210.6 L1062.2,213.1 L1062.4,206.8 L1062.5,208.1 L1062.7,203.4 L1062.8,206.7 L1063.0,203.5 L1063.1,209.2 L1063.3,203.9 L1063.4,201.1 L1063.6,209.8 L1063.7,206.8 L1063.9,217.4 L1064.0,200.8 L1064.2,208.0 L1064.3,203.7 L1064.5,203.6 L1064.6,203.6 L1064.8,209.3 L1064.9,202.4 L1065.1,210.6 L1065.2,209.5 L1065.4,207.0 L1065.5,208.4 L1065.7,200.8 L1065.8,208.6 L1066.0,201.0 L1066.1,208.9 L1066.3,209.7 L1066.4,212.1 L1066.6,204.4 L1066.7,206.5 L1066.9,209.6 L1067.0,210.8 L1067.2,211.1 L1067.3,209.9 L1067.5,205.7 L1067.6,210.9 L1067.8,209.4 L1067.9,204.9 L1068.1,208.5 L1068.2,212.2 L1068.4,206.7 L1068.5,207.1 L1068.7,204.3 L1068.8,204.2 L1069.0,210.7 L1069.1,208.7 L1069.3,209.6 L1069.4,208.1 L1069.6,208.5 L1069.7,205.0 L1069.9,203.6 L1070.0,209.4 L1070.2,209.3 L1070.3,202.2 L1070.5,200.8 L1070.6,207.5 L1070.8,212.4 L1070.9,208.7 L1071.1,209.2 L1071.2,210.0 L1071.4,207.3 L1071.5,211.4 L1071.7,205.7 L1071.8,203.7 L1072.0,205.9 L1072.1,208.1 L1072.3,201.1 L1072.4,206.9 L1072.6,210.5 L1072.7,202.7 L1072.9,207.1 L1073.0,215.2 L1073.2,207.5 L1073.3,212.2 L1073.5,207.3 L1073.6,210.3 L1073.8,204.2 L1073.9,205.5 L1074.1,205.8 L1074.2,208.7 L1074.4,208.1 L1074.5,211.0 L1074.7,209.7 L1074.8,208.8 L1075.0,210.1 L1075.1,210.1 L1075.3,215.2 L1075.4,205.9 L1075.6,210.2 L1075.7,209.5 L1075.9,214.7 L1076.0,210.9 L1076.2,209.1 L1076.3,205.3 L1076.5,208.7 L1076.6,205.6 L1076.8,205.6 L1076.9,205.4 L1077.1,205.3 L1077.2,205.2 L1077.4,214.3 L1077.5,207.8 L1077.7,213.6 L1077.8,207.2 L1078.0,200.4 L1078.1,206.0 L1078.3,204.2 L1078.4,206.7 L1078.6,206.7 L1078.7,203.0 L1078.9,207.1 L1079.0,205.9 L1079.2,207.2 L1079.3,208.5 L1079.5,205.3 L1079.6,209.2 L1079.8,206.6 L1079.9,210.7 L1080.1,203.7 L1080.2,210.6 L1080.4,205.9 L1080.5,209.6 L1080.7,209.0 L1080.8,197.8 L1081.0,201.1 L1081.1,196.3 L1081.3,194.8 L1081.4,184.6 L1081.6,177.7 L1081.7,173.9 L1081.9,157.4 L1082.0,154.9 L1082.2,146.2 L1082.3,145.9 L1082.5,145.9 L1082.6,154.4 L1082.8,157.3 L1082.9,166.8 L1083.1,182.3 L1083.2,185.1 L1083.4,189.2 L1083.5,199.0 L1083.7,203.6 L1083.8,202.8 L1084.0,208.2 L1084.1,208.2 L1084.3,205.8 L1084.4,205.5 L1084.6,204.3 L1084.7,205.5 L1084.9,210.0 L1085.0,208.6 L1085.2,209.5 L1085.3,215.1 L1085.5,207.5 L1085.6,212.7 L1085.8,204.8 L1085.9,207.3 L1086.1,204.3 L1086.2,206.9 L1086.4,215.5 L1086.5,214.4 L1086.7,207.0 L1086.8,212.1 L1087.0,206.2 L1087.1,206.5 L1087.3,209.0 L1087.4,203.4 L1087.6,208.8 L1087.7,212.3 L1087.9,210.3 L1088.0,206.6 L1088.2,209.4 L1088.3,207.9 L1088.5,210.8 L1088.6,207.3 L1088.8,207.8 L1088.9,204.1 L1089.1,204.5 L1089.2,202.4 L1089.4,206.5 L1089.5,213.8 L1089.7,209.0 L1089.8,212.0 L1090.0,208.0 L1090.1,206.3 L1090.3,209.7 L1090.4,205.2 L1090.6,209.3 L1090.7,207.4 L1090.9,206.8 L1091.0,203.5 L1091.2,206.5 L1091.3,207.9 L1091.5,206.6 L1091.6,208.9 L1091.8,215.8 L1091.9,208.4 L1092.1,210.3 L1092.2,211.6 L1092.4,206.4 L1092.5,207.3 L1092.7,208.4 L1092.8,206.8 L1093.0,200.6 L1093.1,216.4 L1093.3,211.2 L1093.4,214.0 L1093.6,209.2 L1093.7,207.9 L1093.9,213.9 L1094.0,213.1 L1094.2,212.7 L1094.3,204.5 L1094.5,210.8 L1094.6,210.3 L1094.8,215.0 L1094.9,210.3 L1095.1,210.0 L1095.2,211.6 L1095.4,210.4 L1095.5,210.2 L1095.7,213.1 L1095.8,211.7 L1096.0,204.2 L1096.1,214.0 L1096.3,213.9 L1096.4,212.7 L1096.6,213.1 L1096.7,214.4 L1096.9,215.2 L1097.0,218.3 L1097.2,207.0 L1097.3,214.8 L1097.5,214.8 L1097.6,222.2 L1097.8,211.2 L1097.9,210.6 L1098.1,211.1 L1098.2,208.8 L1098.4,216.8 L1098.5,215.4 L1098.7,210.3 L1098.8,209.4 L1099.0,211.8 L1099.1,204.6 L1099.3,209.3 L1099.4,208.3 L1099.6,199.6 L1099.7,207.2 L1099.9,201.9 L1100.0,201.5 L1100.2,198.7 L1100.3,191.7 L1100.5,186.2 L1100.6,183.8 L1100.8,180.9 L1100.9,174.6 L1101.1,169.3 L1101.2,169.8 L1101.4,167.8 L1101.5,173.2 L1101.7,176.9 L1101.8,180.4 L1102.0,184.0 L1102.1,190.1 L1102.3,196.9 L1102.4,203.3 L1102.6,206.8 L1102.7,201.2 L1102.9,206.4 L1103.0,211.7 L1103.2,211.1 L1103.3,205.6 L1103.5,209.8 L1103.6,206.8 L1103.8,208.4 L1103.9,210.1 L1104.1,212.2 L1104.2,216.0 L1104.4,206.8 L1104.5,210.2 L1104.7,210.1 L1104.8,206.4 L1105.0,200.6 L1105.1,211.8 L1105.3,214.4 L1105.4,207.2 L1105.6,211.1 L1105.7,209.2 L1105.9,206.6 L1106.0,208.9 L1106.2,208.5 L1106.3,211.0 L1106.5,205.7 L1106.6,206.3 L1106.8,211.7 L1106.9,209.4 L1107.1,213.7 L1107.2,205.5 L1107.4,206.7 L1107.5,212.3 L1107.7,209.0 L1107.8,207.5 L1108.0,207.6 L1108.1,218.3 L1108.3,214.9 L1108.4,213.1 L1108.6,215.0 L1108.7,210.0 L1108.9,214.0 L1109.0,214.1 L1109.2,215.4 L1109.3,210.4 L1109.5,216.1 L1109.6,215.1 L1109.8,218.8 L1109.9,215.2 L1110.1,212.8 L1110.2,215.1 L1110.4,214.2 L1110.5,208.1 L1110.7,211.6 L1110.8,214.9 L1111.0,207.0 L1111.1,202.8 L1111.3,212.0 L1111.4,212.5 L1111.6,213.2 L1111.7,212.8 L1111.9,206.8 L1112.0,213.5 L1112.2,213.7 L1112.3,215.9 L1112.5,211.1 L1112.6,210.8 L1112.8,209.6 L1112.9,212.3 L1113.1,208.2 L1113.2,213.4 L1113.4,209.9 L1113.5,212.2 L1113.7,215.2 L1113.8,209.8 L1114.0,216.1 L1114.1,210.4 L1114.3,210.6 L1114.4,209.9 L1114.6,210.0 L1114.7,212.7 L1114.9,208.2 L1115.0,216.6 L1115.2,211.7 L1115.3,212.7 L1115.5,207.1 L1115.6,213.3 L1115.8,213.9 L1115.9,214.6 L1116.1,211.5 L1116.2,208.5 L1116.4,214.7 L1116.5,210.7 L1116.7,207.1 L1116.8,216.8 L1117.0,214.7 L1117.1,208.9 L1117.3,213.4 L1117.4,209.0 L1117.6,215.6 L1117.7,212.6 L1117.9,209.6 L1118.0,211.6 L1118.2,216.0 L1118.3,208.9 L1118.5,207.3 L1118.6,206.1 L1118.8,196.9 L1118.9,203.5 L1119.1,199.1 L1119.2,195.2 L1119.4,189.5 L1119.5,191.6 L1119.7,189.1 L1119.8,185.2 L1120.0,190.4 L1120.1,193.6 L1120.3,193.1 L1120.4,199.5 L1120.6,202.3 L1120.7,203.0 L1120.9,206.7 L1121.0,208.5 L1121.2,204.4 L1121.3,207.3 L1121.5,210.7 L1121.6,208.4 L1121.8,213.0 L1121.9,211.6 L1122.1,214.4 L1122.2,208.4 L1122.4,205.6 L1122.5,212.3 L1122.7,209.4 L1122.8,208.9 L1123.0,209.4 L1123.1,206.9 L1123.3,211.7 L1123.4,217.6 L1123.6,211.3 L1123.7,214.7 L1123.9,215.1 L1124.0,211.4 L1124.2,210.0 L1124.3,211.4 L1124.5,213.2 L1124.6,211.9 L1124.8,214.8 L1124.9,210.4 L1125.1,204.4 L1125.2,209.6 L1125.4,213.7 L1125.5,210.2 L1125.7,216.8 L1125.8,207.1 L1126.0,214.2 L1126.1,206.0 L1126.3,203.5 L1126.4,201.1 L1126.6,203.6 L1126.7,192.6 L1126.9,198.1 L1127.0,192.1 L1127.2,185.7 L1127.3,187.9 L1127.5,192.7 L1127.6,197.1 L1127.8,195.2 L1127.9,201.9 L1128.1,203.2 L1128.2,202.6 L1128.4,201.3 L1128.5,205.4 L1128.7,216.3 L1128.8,207.2 L1129.0,215.1 L1129.1,212.3 L1129.3,213.2 L1129.4,212.9 L1129.6,212.5 L1129.7,211.6 L1129.9,212.6 L1130.0,217.9 L1130.2,209.5 L1130.3,209.7 L1130.5,213.5 L1130.6,213.9 L1130.8,212.2 L1130.9,216.2 L1131.1,213.2 L1131.2,210.1 L1131.4,213.2 L1131.5,213.2 L1131.7,206.2 L1131.8,211.6 L1132.0,208.2 L1132.1,205.2 L1132.3,211.7 L1132.4,211.1 L1132.6,210.5 L1132.7,205.3 L1132.9,201.2 L1133.0,202.6 L1133.2,198.7 L1133.3,200.7 L1133.5,194.9 L1133.6,195.7 L1133.8,191.2 L1133.9,182.7 L1134.1,176.8 L1134.2,176.8 L1134.4,166.4 L1134.5,168.1 L1134.7,164.5 L1134.8,171.0 L1135.0,175.6 L1135.1,179.3 L1135.3,181.4 L1135.4,189.7 L1135.6,191.8 L1135.7,201.6 L1135.9,201.4 L1136.0,208.8 L1136.2,207.5 L1136.3,209.2 L1136.5,211.6 L1136.6,213.7 L1136.8,210.9 L1136.9,212.6 L1137.1,212.3 L1137.2,214.7 L1137.4,208.2 L1137.5,204.2 L1137.7,212.9 L1137.8,214.7 L1138.0,210.8 L1138.1,214.6 L1138.3,213.4 L1138.4,212.2 L1138.6,211.1 L1138.7,213.2 L1138.9,216.2 L1139.0,217.0 L1139.2,212.3 L1139.3,214.2 L1139.5,209.2 L1139.6,215.1 L1139.8,213.5 L1139.9,209.4 L1140.1,212.9 L1140.2,214.5 L1140.4,213.3 L1140.5,218.7 L1140.7,214.8 L1140.8,210.7 L1141.0,210.7 L1141.1,206.0 L1141.3,215.0 L1141.4,216.0 L1141.6,213.7 L1141.7,218.4 L1141.9,214.4 L1142.0,222.8 L1142.2,213.2 L1142.3,222.9 L1142.5,211.7 L1142.6,212.8 L1142.8,217.4 L1142.9,219.0 L1143.1,216.8 L1143.2,219.5 L1143.4,220.2 L1143.5,215.9 L1143.7,209.5 L1143.8,226.6 L1144.0,210.5 L1144.1,211.0 L1144.3,216.3 L1144.4,216.5 L1144.6,208.9 L1144.7,213.0 L1144.9,211.5 L1145.0,214.5 L1145.2,217.8 L1145.3,218.7 L1145.5,217.6 L1145.6,210.2 L1145.8,211.9 L1145.9,213.9 L1146.1,214.5 L1146.2,220.4 L1146.4,209.1 L1146.5,215.1 L1146.7,212.9 L1146.8,212.5 L1147.0,217.3 L1147.1,214.3 L1147.3,214.7 L1147.4,215.3 L1147.6,214.3 L1147.7,214.3 L1147.9,213.4 L1148.0,220.1 L1148.2,211.5 L1148.3,213.8 L1148.5,216.5 L1148.6,210.8 L1148.8,214.9 L1148.9,221.0 L1149.1,210.7 L1149.2,217.2 L1149.4,213.7 L1149.5,212.3 L1149.7,214.3 L1149.8,214.8 L1150.0,217.1 L1150.1,227.5 L1150.3,216.9 L1150.4,213.6 L1150.6,216.6 L1150.7,212.4 L1150.9,211.7 L1151.0,207.9 L1151.2,213.2 L1151.3,214.2 L1151.5,214.2 L1151.6,213.1 L1151.8,210.4 L1151.9,213.1 L1152.1,209.5 L1152.2,212.5 L1152.4,213.4 L1152.5,206.7 L1152.7,211.2 L1152.8,215.6 L1153.0,212.8 L1153.1,217.4 L1153.3,209.4 L1153.4,213.8 L1153.6,213.0 L1153.7,213.9 L1153.9,205.2 L1154.0,213.6 L1154.2,210.8 L1154.3,217.3 L1154.5,216.4 L1154.6,213.6 L1154.8,216.2 L1154.9,214.5 L1155.1,210.1 L1155.2,212.4 L1155.4,211.7 L1155.5,209.0 L1155.7,212.1 L1155.8,214.3 L1156.0,212.3 L1156.1,209.5 L1156.3,211.6 L1156.4,212.0 L1156.6,212.9 L1156.7,212.1 L1156.9,209.1 L1157.0,209.8 L1157.2,212.8 L1157.3,215.6 L1157.5,213.3 L1157.6,214.3 L1157.8,213.4 L1157.9,215.8 L1158.1,215.5 L1158.2,215.3 L1158.4,205.7 L1158.5,211.0 L1158.7,212.7 L1158.8,213.2 L1159.0,213.7 L1159.1,215.0 L1159.3,222.8 L1159.4,210.1 L1159.6,203.9 L1159.7,208.1 L1159.9,204.5 L1160.0,205.5 L1160.2,202.6 L1160.3,205.5 L1160.5,198.3 L1160.6,195.6 L1160.8,194.2 L1160.9,195.9 L1161.1,196.4 L1161.2,195.2 L1161.4,196.3 L1161.5,205.0 L1161.7,201.9 L1161.8,207.8 L1162.0,207.4 L1162.1,209.7 L1162.3,203.9 L1162.4,211.3 L1162.6,200.7 L1162.7,213.2 L1162.9,210.1 L1163.0,209.1 L1163.2,206.9 L1163.3,217.6 L1163.5,216.2 L1163.6,213.8 L1163.8,210.4 L1163.9,213.2 L1164.1,217.6 L1164.2,211.8 L1164.4,209.3 L1164.5,208.4 L1164.7,213.6 L1164.8,213.6 L1165.0,213.7 L1165.1,208.2 L1165.3,216.5 L1165.4,210.7 L1165.6,207.9 L1165.7,206.6 L1165.9,208.7 L1166.0,209.6 L1166.2,208.0 L1166.3,211.7 L1166.5,215.9 L1166.6,209.8 L1166.8,210.1 L1166.9,216.3 L1167.1,214.7 L1167.2,212.2 L1167.4,215.0 L1167.5,211.9 L1167.7,208.3 L1167.8,211.6 L1168.0,214.8 L1168.1,209.1 L1168.3,213.6 L1168.4,209.3 L1168.6,212.0 L1168.7,209.2 L1168.9,213.5 L1169.0,212.5 L1169.2,221.3 L1169.3,214.1 L1169.5,215.1 L1169.6,210.6 L1169.8,214.2 L1169.9,212.6 L1170.1,218.2 L1170.2,216.2 L1170.4,211.0 L1170.5,215.0 L1170.7,209.6 L1170.8,215.8 L1171.0,215.2 L1171.1,212.3 L1171.3,210.6 L1171.4,215.1 L1171.6,210.3 L1171.7,211.9 L1171.9,216.0 L1172.0,219.2 L1172.2,214.5 L1172.3,217.2 L1172.5,215.2 L1172.6,218.8 L1172.8,214.8 L1172.9,219.1 L1173.1,219.4 L1173.2,211.1 L1173.4,211.6 L1173.5,215.4 L1173.7,218.7 L1173.8,217.2 L1174.0,213.6 L1174.1,216.0 L1174.3,218.5 L1174.4,215.2 L1174.6,211.4 L1174.7,215.7 L1174.9,213.4 L1175.0,213.9 L1175.2,212.1 L1175.3,215.4 L1175.5,213.2 L1175.6,212.5 L1175.8,217.6 L1175.9,219.9 L1176.1,213.8 L1176.2,214.2 L1176.4,213.2 L1176.5,220.6 L1176.7,219.5 L1176.8,213.3 L1177.0,213.2 L1177.1,217.8 L1177.3,211.7 L1177.4,215.0 L1177.6,213.9 L1177.7,223.5 L1177.9,216.6 L1178.0,215.2 L1178.2,217.4 L1178.3,211.1 L1178.5,219.4 L1178.6,214.4 L1178.8,212.5 L1178.9,213.5 L1179.1,221.7 L1179.2,217.6 L1179.4,216.6 L1179.5,214.8 L1179.7,212.1 L1179.8,210.9 L1180.0,215.9 L1180.1,213.4 L1180.3,218.2 L1180.4,211.3 L1180.6,216.0 L1180.7,211.1 L1180.9,211.1 L1181.0,214.5 L1181.2,213.7 L1181.3,218.4 L1181.5,209.0 L1181.6,225.5 L1181.8,209.9 L1181.9,212.8 L1182.1,211.9 L1182.2,213.0 L1182.4,216.4 L1182.5,214.8 L1182.7,212.6 L1182.8,205.5 L1183.0,208.9 L1183.1,216.6 L1183.3,207.6 L1183.4,218.7 L1183.6,212.5 L1183.7,210.1 L1183.9,215.1 L1184.0,217.2 L1184.2,213.3 L1184.3,216.0 L1184.5,214.4 L1184.6,212.1 L1184.8,218.2 L1184.9,211.4 L1185.1,212.8 L1185.2,217.3 L1185.4,216.1 L1185.5,217.9 L1185.7,208.6 L1185.8,212.1 L1186.0,211.3 L1186.1,213.3 L1186.3,213.8 L1186.4,216.9 L1186.6,211.8 L1186.7,208.5 L1186.9,213.5 L1187.0,218.7 L1187.2,205.2 L1187.3,216.9 L1187.5,212.0 L1187.6,210.7 L1187.8,216.7 L1187.9,218.2 L1188.1,219.5 L1188.2,211.7 L1188.4,214.0 L1188.5,212.7 L1188.7,211.2 L1188.8,212.3 L1189.0,207.2 L1189.1,201.1 L1189.3,204.9 L1189.4,202.3 L1189.6,210.0 L1189.7,203.6 L1189.9,200.9 L1190.0,200.7 L1190.2,200.0 L1190.3,202.8 L1190.5,215.3 L1190.6,212.1 L1190.8,212.2 L1190.9,211.2 L1191.1,215.9 L1191.2,214.3 L1191.4,213.6 L1191.5,213.2 L1191.7,217.1 L1191.8,210.4 L1192.0,216.3 L1192.1,217.1 L1192.3,216.0 L1192.4,216.4 L1192.6,215.5 L1192.7,220.6 L1192.9,215.9 L1193.0,215.5 L1193.2,216.9 L1193.3,210.8 L1193.5,211.8 L1193.6,214.3 L1193.8,216.5 L1193.9,212.8 L1194.1,215.8 L1194.2,212.0 L1194.4,216.5 L1194.5,216.1 L1194.7,212.6 L1194.8,213.9 L1195.0,210.8 L1195.1,213.2 L1195.3,215.9 L1195.4,214.1 L1195.6,212.7 L1195.7,217.5 L1195.9,222.3 L1196.0,212.0 L1196.2,220.2 L1196.3,213.8 L1196.5,213.5 L1196.6,206.3 L1196.8,213.0 L1196.9,216.7 L1197.1,213.2 L1197.2,216.8 L1197.4,213.5 L1197.5,213.2 L1197.7,209.0 L1197.8,209.2 L1198.0,215.9 L1198.1,205.7 L1198.3,209.8 L1198.4,212.1 L1198.6,211.5 L1198.7,217.6 L1198.9,208.0 L1199.0,216.4 L1199.2,219.0 L1199.3,219.1 L1199.5,217.0 L1199.6,217.7 L1199.8,215.4 L1199.9,217.4 L1200.1,219.7 L1200.2,209.3 L1200.4,210.7 L1200.5,214.5 L1200.7,210.9 L1200.8,211.8 L1201.0,216.6 L1201.1,218.7 L1201.3,216.4 L1201.4,213.0 L1201.6,218.0 L1201.7,219.7 L1201.9,216.1 L1202.0,214.4 L1202.2,218.8 L1202.3,215.2 L1202.5,214.9 L1202.6,209.3 L1202.8,220.3 L1202.9,215.0 L1203.1,214.3 L1203.2,216.9 L1203.4,214.4 L1203.5,214.4 L1203.7,215.8 L1203.8,217.0 L1204.0,214.3 L1204.1,217.2 L1204.3,215.3 L1204.4,213.2 L1204.6,215.3 L1204.7,207.6 L1204.9,215.1 L1205.0,218.9 L1205.2,215.2 L1205.3,217.4 L1205.5,215.8 L1205.6,220.0 L1205.8,217.2 L1205.9,215.4 L1206.1,214.7 L1206.2,210.9 L1206.4,215.7 L1206.5,215.4 L1206.7,215.7 L1206.8,214.4 L1207.0,214.4 L1207.1,217.5 L1207.3,220.7 L1207.4,214.5 L1207.6,216.5 L1207.7,220.3 L1207.9,216.7 L1208.0,214.3 L1208.2,221.1 L1208.3,218.0 L1208.5,222.6 L1208.6,218.0 L1208.8,215.1 L1208.9,216.6 L1209.1,214.5 L1209.2,216.2 L1209.4,216.3 L1209.5,216.9 L1209.7,218.6 L1209.8,221.2 L1210.0,219.2 L1210.1,213.3 L1210.3,213.4 L1210.4,216.8 L1210.6,213.7 L1210.7,210.3 L1210.9,219.5 L1211.0,213.6 L1211.2,214.8 L1211.3,207.7 L1211.5,210.2 L1211.6,217.0 L1211.8,217.2 L1211.9,217.6 L1212.1,214.0 L1212.2,219.2 L1212.4,209.1 L1212.5,214.0 L1212.7,217.3 L1212.8,209.8 L1213.0,215.4 L1213.1,211.4 L1213.3,217.9 L1213.4,215.4 L1213.6,210.6 L1213.7,216.4 L1213.9,213.0 L1214.0,213.3 L1214.2,217.3 L1214.3,217.1 L1214.5,210.3 L1214.6,215.5 L1214.8,212.1 L1214.9,215.3 L1215.1,209.9 L1215.2,210.8 L1215.4,215.6 L1215.5,214.8 L1215.7,212.7 L1215.8,218.9 L1216.0,220.3 L1216.1,222.0 L1216.3,221.1 L1216.4,210.2 L1216.6,215.6 L1216.7,214.3 L1216.9,211.4 L1217.0,218.6 L1217.2,215.2 L1217.3,217.5 L1217.5,215.1 L1217.6,219.5 L1217.8,214.6 L1217.9,214.4 L1218.1,220.2 L1218.2,219.2 L1218.4,214.8 L1218.5,220.6 L1218.7,216.3 L1218.8,216.2 L1219.0,214.0 L1219.1,213.7 L1219.3,218.9 L1219.4,218.3 L1219.6,215.8 L1219.7,218.3 L1219.9,222.7 L1220.0,216.6 L1220.2,214.2 L1220.3,216.9 L1220.5,213.5 L1220.6,216.0 L1220.8,221.4 L1220.9,214.5 L1221.1,215.2 L1221.2,213.2 L1221.4,209.4 L1221.5,218.6 L1221.7,215.4 L1221.8,217.5 L1222.0,216.4 L1222.1,219.0 L1222.3,214.2 L1222.4,221.1 L1222.6,216.1 L1222.7,215.3 L1222.9,211.1 L1223.0,215.3 L1223.2,209.5 L1223.3,217.3 L1223.5,209.1 L1223.6,215.4 L1223.8,218.9 L1223.9,208.6 L1224.1,214.0 L1224.2,210.2 L1224.4,205.1 L1224.5,201.8 L1224.7,203.3 L1224.8,197.8 L1225.0,202.9 L1225.1,202.3 L1225.3,199.4 L1225.4,202.2 L1225.6,205.0 L1225.7,211.2 L1225.9,211.0 L1226.0,214.3 L1226.2,214.3 L1226.3,214.0 L1226.5,204.8 L1226.6,217.0 L1226.8,211.1 L1226.9,215.3 L1227.1,217.0 L1227.2,213.9 L1227.4,211.8 L1227.5,218.4 L1227.7,215.8 L1227.8,214.7 L1228.0,210.5 L1228.1,207.5 L1228.3,211.5 L1228.4,216.1 L1228.6,216.3 L1228.7,212.6 L1228.9,209.7 L1229.0,221.0 L1229.2,216.3 L1229.3,218.7 L1229.5,211.5 L1229.6,217.4 L1229.8,213.6 L1229.9,218.0 L1230.1,215.7 L1230.2,220.6 L1230.4,212.6 L1230.5,217.4 L1230.7,211.0 L1230.8,215.6 L1231.0,214.0 L1231.1,213.3 L1231.3,208.3 L1231.4,202.6 L1231.6,202.5 L1231.7,211.1 L1231.9,204.1 L1232.0,196.5 L1232.2,202.3 L1232.3,201.3 L1232.5,207.6 L1232.6,203.3 L1232.8,198.9 L1232.9,207.4 L1233.1,205.9 L1233.2,208.4 L1233.4,210.9 L1233.5,211.5 L1233.7,209.6 L1233.8,216.3 L1234.0,223.3 L1234.1,215.2 L1234.3,216.5 L1234.4,218.6 L1234.6,213.7 L1234.7,213.8 L1234.9,215.8 L1235.0,215.9 L1235.2,212.6 L1235.3,215.6 L1235.5,213.9 L1235.6,217.8 L1235.8,216.7 L1235.9,216.0 L1236.1,210.9 L1236.2,215.2 L1236.4,226.2 L1236.5,216.4 L1236.7,218.2 L1236.8,217.4 L1237.0,215.6 L1237.1,215.2 L1237.3,214.0 L1237.4,213.2 L1237.6,216.7 L1237.7,213.2 L1237.9,216.3 L1238.0,214.6 L1238.2,214.3 L1238.3,211.5 L1238.5,215.5 L1238.6,221.7 L1238.8,220.1 L1238.9,207.2 L1239.1,219.2 L1239.2,214.0 L1239.4,219.1 L1239.5,214.1 L1239.7,212.3 L1239.8,213.7 L1240.0,216.0 L1240.1,216.6 L1240.3,220.7 L1240.4,223.3 L1240.6,212.3 L1240.7,215.4 L1240.9,215.9 L1241.0,217.2 L1241.2,218.7 L1241.3,212.8 L1241.5,214.8 L1241.6,213.5 L1241.8,215.9 L1241.9,221.8 L1242.1,207.7 L1242.2,212.6 L1242.4,212.6 L1242.5,215.4 L1242.7,214.9 L1242.8,211.1 L1243.0,210.2 L1243.1,214.2 L1243.3,206.1 L1243.4,214.8 L1243.6,212.5 L1243.7,209.8 L1243.9,216.3 L1244.0,210.6 L1244.2,209.8 L1244.3,213.7 L1244.5,210.4 L1244.6,211.9 L1244.8,218.5 L1244.9,212.2 L1245.1,212.8 L1245.2,216.9 L1245.4,212.4 L1245.5,217.7 L1245.7,213.8 L1245.8,215.7 L1246.0,213.2 L1246.1,216.5 L1246.3,205.5 L1246.4,217.4 L1246.6,216.8 L1246.7,210.2 L1246.9,211.3 L1247.0,208.7 L1247.2,213.3 L1247.3,213.8 L1247.5,212.5 L1247.6,215.7 L1247.8,211.0 L1247.9,215.6 L1248.1,219.1 L1248.2,216.7 L1248.4,216.4 L1248.5,215.7 L1248.7,217.9 L1248.8,214.3 L1249.0,212.7 L1249.1,209.7 L1249.3,208.2 L1249.4,212.7 L1249.6,209.4 L1249.7,217.5 L1249.9,218.1 L1250.0,208.3 L1250.2,210.4 L1250.3,212.6 L1250.5,215.2 L1250.6,216.2 L1250.8,212.9 L1250.9,210.7 L1251.1,217.2 L1251.2,213.9 L1251.4,215.0 L1251.5,214.4 L1251.7,208.1 L1251.8,211.5 L1252.0,220.8 L1252.1,212.7 L1252.3,212.9 L1252.4,214.6 L1252.6,210.6 L1252.7,212.1 L1252.9,215.5 L1253.0,212.2 L1253.2,212.5 L1253.3,210.6 L1253.5,217.1 L1253.6,212.2 L1253.8,209.7 L1253.9,216.4 L1254.1,215.8 L1254.2,219.4 L1254.4,215.5 L1254.5,210.7 L1254.7,211.9 L1254.8,211.4 L1255.0,210.8 L1255.1,212.2 L1255.3,216.3 L1255.4,214.3 L1255.6,206.0 L1255.7,203.9 L1255.9,210.2 L1256.0,203.4 L1256.2,196.5 L1256.3,196.0 L1256.5,194.2 L1256.6,195.3 L1256.8,186.2 L1256.9,187.0 L1257.1,189.2 L1257.2,188.0 L1257.4,191.1 L1257.5,193.0 L1257.7,198.2 L1257.8,203.2 L1258.0,197.1 L1258.1,203.0 L1258.3,205.9 L1258.4,208.8 L1258.6,216.0 L1258.7,213.6 L1258.9,211.4 L1259.0,210.7 L1259.2,212.1 L1259.3,213.9 L1259.5,217.3 L1259.6,210.2 L1259.8,213.7 L1259.9,210.6 L1260.1,210.0 L1260.2,212.9 L1260.4,217.1 L1260.5,206.2 L1260.7,208.7 L1260.8,213.1 L1261.0,214.8 L1261.1,207.6 L1261.3,214.7 L1261.4,214.0 L1261.6,205.0 L1261.7,214.4 L1261.9,217.1 L1262.0,212.1 L1262.2,220.8 L1262.3,215.7 L1262.5,209.1 L1262.6,211.6 L1262.8,217.4 L1262.9,215.7 L1263.1,211.1 L1263.2,209.8 L1263.4,214.6 L1263.5,214.5 L1263.7,212.2 L1263.8,212.5 L1264.0,209.0 L1264.1,212.0 L1264.3,216.9 L1264.4,220.8 L1264.6,213.4 L1264.7,216.4 L1264.9,214.7 L1265.0,211.9 L1265.2,212.5 L1265.3,215.8 L1265.5,214.0 L1265.6,214.6 L1265.8,215.9 L1265.9,208.9 L1266.1,214.7 L1266.2,213.9 L1266.4,217.2 L1266.5,221.1 L1266.7,210.1 L1266.8,212.3 L1267.0,210.4 L1267.1,217.7 L1267.3,213.6 L1267.4,209.4 L1267.6,216.7 L1267.7,218.1 L1267.9,214.0 L1268.0,211.0 L1268.2,215.8 L1268.3,218.3 L1268.5,210.9 L1268.6,218.6 L1268.8,220.1 L1268.9,215.3 L1269.1,210.6 L1269.2,214.3 L1269.4,216.3 L1269.5,214.6 L1269.7,213.3 L1269.8,218.3 L1270.0,218.0 L1270.1,217.2 L1270.3,217.4 L1270.4,212.2 L1270.6,216.0 L1270.7,219.4 L1270.9,215.6 L1271.0,216.8 L1271.2,211.3 L1271.3,212.9 L1271.5,213.5 L1271.6,211.9 L1271.8,212.0 L1271.9,214.9 L1272.1,220.8 L1272.2,221.1 L1272.4,218.1 L1272.5,219.7 L1272.7,218.5 L1272.8,219.7 L1273.0,216.8 L1273.1,217.7 L1273.3,213.3 L1273.4,216.0 L1273.6,215.4 L1273.7,209.5 L1273.9,216.4 L1274.0,212.8 L1274.2,216.8 L1274.3,212.2 L1274.5,217.3 L1274.6,215.1 L1274.8,215.9 L1274.9,214.8 L1275.1,218.0 L1275.2,213.2 L1275.4,215.8 L1275.5,214.9 L1275.7,212.6 L1275.8,214.0 L1276.0,211.0 L1276.1,209.7 L1276.3,210.2 L1276.4,215.8 L1276.6,215.3 L1276.7,214.0 L1276.9,217.8 L1277.0,215.4 L1277.2,217.1 L1277.3,217.9 L1277.5,222.3 L1277.6,217.2 L1277.8,219.9 L1277.9,220.5 L1278.1,219.9 L1278.2,221.1 L1278.4,216.1 L1278.5,221.3 L1278.7,211.9 L1278.8,215.5 L1279.0,219.2 L1279.1,216.9 L1279.3,216.4 L1279.4,218.0 L1279.6,211.3 L1279.7,213.9 L1279.9,216.8 L1280.0,212.7 L1280.2,211.8 L1280.3,210.2 L1280.5,218.5 L1280.6,216.2 L1280.8,218.5 L1280.9,215.8 L1281.1,217.7 L1281.2,210.0 L1281.4,221.9 L1281.5,218.0 L1281.7,217.0 L1281.8,211.1 L1282.0,216.0 L1282.1,215.8 L1282.3,216.1 L1282.4,209.9 L1282.6,211.7 L1282.7,215.6 L1282.9,216.1 L1283.0,212.7 L1283.2,213.7 L1283.3,212.5 L1283.5,213.8 L1283.6,215.8 L1283.8,209.9 L1283.9,211.0 L1284.1,215.1 L1284.2,210.3 L1284.4,214.5 L1284.5,218.2 L1284.7,218.8 L1284.8,214.1 L1285.0,214.1 L1285.1,212.6 L1285.3,213.6 L1285.4,216.4 L1285.6,222.0 L1285.7,215.4 L1285.9,214.9 L1286.0,217.3 L1286.2,219.5 L1286.3,213.9 L1286.5,212.5 L1286.6,211.2 L1286.8,213.0 L1286.9,216.9 L1287.1,216.7 L1287.2,219.3 L1287.4,217.3 L1287.5,212.8 L1287.7,222.6 L1287.8,217.5 L1288.0,217.3 L1288.1,215.7 L1288.3,211.4 L1288.4,215.0 L1288.6,219.2 L1288.7,216.0 L1288.9,209.4 L1289.0,216.7 L1289.2,217.3 L1289.3,220.0 L1289.5,213.7 L1289.6,211.7 L1289.8,215.2 L1289.9,212.9 L1290.1,216.6 L1290.2,220.3 L1290.4,211.8 L1290.5,212.9 L1290.7,215.2 L1290.8,217.0 L1291.0,216.7 L1291.1,218.8 L1291.3,215.2 L1291.4,212.5 L1291.6,212.9 L1291.7,210.3 L1291.9,212.4 L1292.0,215.5 L1292.2,212.6 L1292.3,212.3 L1292.5,216.3 L1292.6,211.9 L1292.8,215.6 L1292.9,210.7 L1293.1,215.9 L1293.2,216.9 L1293.4,214.6 L1293.5,217.8 L1293.7,218.1 L1293.8,211.7 L1294.0,212.5 L1294.1,211.8 L1294.3,217.0 L1294.4,209.6 L1294.6,219.1 L1294.7,211.9 L1294.9,211.0 L1295.0,219.3 L1295.2,216.3 L1295.3,210.0 L1295.5,223.0 L1295.6,210.8 L1295.8,214.5 L1295.9,215.6 L1296.1,213.1 L1296.2,217.7 L1296.4,214.0 L1296.5,219.7 L1296.7,218.0 L1296.8,215.2 L1297.0,221.1 L1297.1,217.3 L1297.3,215.0 L1297.4,223.4 L1297.6,215.0 L1297.7,217.7 L1297.9,219.3 L1298.0,214.5 L1298.2,217.3 L1298.3,221.0 L1298.5,223.0 L1298.6,214.8 L1298.8,223.7 L1298.9,219.5 L1299.1,216.2 L1299.2,215.1 L1299.4,221.2 L1299.5,215.5 L1299.7,218.6 L1299.8,215.1 L1300.0,218.1 L1300.1,216.9 L1300.3,215.3 L1300.4,218.3 L1300.6,219.7 L1300.7,216.6 L1300.9,214.1 L1301.0,219.8 L1301.2,218.0 L1301.3,214.4 L1301.5,217.3 L1301.6,211.2 L1301.8,222.9 L1301.9,214.2 L1302.1,218.7 L1302.2,212.8 L1302.4,216.4 L1302.5,217.2 L1302.7,216.2 L1302.8,217.7 L1303.0,215.9 L1303.1,217.9 L1303.3,217.0 L1303.4,217.7 L1303.6,214.6 L1303.7,212.2 L1303.9,216.2 L1304.0,214.3 L1304.2,211.0 L1304.3,214.7 L1304.5,213.4 L1304.6,221.0 L1304.8,217.5 L1304.9,217.7 L1305.1,219.8 L1305.2,215.8 L1305.4,212.9 L1305.5,212.2 L1305.7,220.4 L1305.8,224.2 L1306.0,216.3 L1306.1,218.6 L1306.3,211.5 L1306.4,209.7 L1306.6,210.6 L1306.7,215.8 L1306.9,218.6 L1307.0,216.3 L1307.2,219.3 L1307.3,213.0 L1307.5,213.7 L1307.6,217.6 L1307.8,221.7 L1307.9,211.2 L1308.1,209.3 L1308.2,213.9 L1308.4,216.6 L1308.5,213.8 L1308.7,215.5 L1308.8,216.8 L1309.0,209.1 L1309.1,219.0 L1309.3,216.4 L1309.4,213.2 L1309.6,210.0 L1309.7,212.2 L1309.9,216.2 L1310.0,213.3 L1310.2,217.9 L1310.3,210.7 L1310.5,215.4 L1310.6,214.2 L1310.8,216.6 L1310.9,213.7 L1311.1,212.6 L1311.2,220.6 L1311.4,216.6 L1311.5,218.5 L1311.7,218.4 L1311.8,213.1 L1312.0,210.6 L1312.1,215.4 L1312.3,218.3 L1312.4,213.1 L1312.6,210.4 L1312.7,216.8 L1312.9,214.0 L1313.0,217.5 L1313.2,220.3 L1313.3,211.9 L1313.5,212.7 L1313.6,212.9 L1313.8,216.6 L1313.9,218.0 L1314.1,214.6 L1314.2,209.0 L1314.4,212.1 L1314.5,221.3 L1314.7,216.1 L1314.8,212.6 L1315.0,222.2 L1315.1,208.9 L1315.3,217.3 L1315.4,205.5 L1315.6,207.0 L1315.7,218.1 L1315.9,217.9 L1316.0,212.7 L1316.2,216.0 L1316.3,212.0 L1316.5,216.0 L1316.6,217.1 L1316.8,218.3 L1316.9,210.4 L1317.1,214.6 L1317.2,212.0 L1317.4,219.8 L1317.5,209.5 L1317.7,216.7 L1317.8,211.7 L1318.0,212.8 L1318.1,209.8 L1318.3,212.3 L1318.4,215.2 L1318.6,215.0 L1318.7,213.6 L1318.9,214.3 L1319.0,216.9 L1319.2,209.6 L1319.3,210.2 L1319.5,210.8 L1319.6,207.8 L1319.8,211.6 L1319.9,211.9 L1320.1,214.5 L1320.2,215.2 L1320.4,211.7 L1320.5,210.9 L1320.7,215.2 L1320.8,212.1 L1321.0,213.2 L1321.1,214.5 L1321.3,218.8 L1321.4,210.9 L1321.6,218.0 L1321.7,216.5 L1321.9,214.7 L1322.0,217.4 L1322.2,215.8 L1322.3,214.9 L1322.5,214.5 L1322.6,214.9 L1322.8,207.4 L1322.9,211.4 L1323.1,209.3 L1323.2,212.9 L1323.4,216.0 L1323.5,212.7 L1323.7,210.0 L1323.8,211.8 L1324.0,214.7 L1324.1,212.7 L1324.3,216.1 L1324.4,209.2 L1324.6,214.0 L1324.7,214.3 L1324.9,212.1 L1325.0,213.0 L1325.2,213.8 L1325.3,214.9 L1325.5,207.4 L1325.6,212.1 L1325.8,210.3 L1325.9,208.0 L1326.1,211.7 L1326.2,212.5 L1326.4,208.9 L1326.5,207.5 L1326.7,218.1 L1326.8,217.4 L1327.0,213.2 L1327.1,203.6 L1327.3,218.7 L1327.4,212.2 L1327.6,212.9 L1327.7,218.4 L1327.9,214.1 L1328.0,206.7 L1328.2,213.5 L1328.3,212.1 L1328.5,211.0 L1328.6,212.6 L1328.8,215.0 L1328.9,209.5 L1329.1,215.3 L1329.2,211.3 L1329.4,215.9 L1329.5,204.2 L1329.7,216.3 L1329.8,210.8 L1330.0,212.5 L1330.1,207.1 L1330.3,215.8 L1330.4,209.2 L1330.6,209.1 L1330.7,208.3 L1330.9,211.0 L1331.0,212.0 L1331.2,213.3 L1331.3,203.4 L1331.5,211.3 L1331.6,212.9 L1331.8,213.5 L1331.9,213.6 L1332.1,211.7 L1332.2,211.8 L1332.4,212.1 L1332.5,212.1 L1332.7,212.2 L1332.8,216.7 L1333.0,212.0 L1333.1,215.0 L1333.3,206.0 L1333.4,210.5 L1333.6,215.6 L1333.7,205.0 L1333.9,215.6 L1334.0,213.0 L1334.2,208.7 L1334.3,212.0 L1334.5,209.8 L1334.6,205.6 L1334.8,210.5 L1334.9,205.4 L1335.1,209.4 L1335.2,217.5 L1335.4,210.2 L1335.5,213.2 L1335.7,211.2 L1335.8,208.6 L1336.0,212.8 L1336.1,212.2 L1336.3,211.3 L1336.4,208.7 L1336.6,206.1 L1336.7,209.1 L1336.9,210.4 L1337.0,213.4 L1337.2,211.8 L1337.3,207.5 L1337.5,207.3 L1337.6,215.4 L1337.8,212.4 L1337.9,205.7 L1338.1,211.6 L1338.2,216.9 L1338.4,208.9 L1338.5,210.3 L1338.7,212.6 L1338.8,214.6 L1339.0,209.4 L1339.1,206.6 L1339.3,214.0 L1339.4,207.2 L1339.6,209.2 L1339.7,210.5 L1339.9,214.3 L1340.0,215.3 L1340.2,217.7 L1340.3,213.1 L1340.5,215.0 L1340.6,212.8 L1340.8,215.6 L1340.9,216.7 L1341.1,212.2 L1341.2,215.0 L1341.4,218.9 L1341.5,217.9 L1341.7,214.5 L1341.8,213.6 L1342.0,212.3 L1342.1,214.6 L1342.3,214.5 L1342.4,212.8 L1342.6,213.4 L1342.7,210.8 L1342.9,212.2 L1343.0,212.0 L1343.2,215.7 L1343.3,225.2 L1343.5,218.8 L1343.6,215.5 L1343.8,213.0 L1343.9,210.7 L1344.1,212.8 L1344.2,214.9 L1344.4,215.7 L1344.5,217.8 L1344.7,210.6 L1344.8,212.7 L1345.0,216.0 L1345.1,211.4 L1345.3,214.1 L1345.4,210.3 L1345.6,214.6 L1345.7,213.5 L1345.9,212.8 L1346.0,213.7 L1346.2,217.1 L1346.3,210.9 L1346.5,214.2 L1346.6,208.2 L1346.8,212.2 L1346.9,218.4 L1347.1,210.4 L1347.2,210.9 L1347.4,218.1 L1347.5,218.6 L1347.7,210.5 L1347.8,215.2 L1348.0,218.9 L1348.1,212.1 L1348.3,214.0 L1348.4,210.5 L1348.6,211.2 L1348.7,213.9 L1348.9,214.0 L1349.0,216.1 L1349.2,217.1 L1349.3,215.8 L1349.5,213.6 L1349.6,216.4 L1349.8,214.3 L1349.9,214.8 L1350.1,214.5 L1350.2,211.6 L1350.4,213.6 L1350.5,220.9 L1350.7,215.7 L1350.8,211.1 L1351.0,219.6 L1351.1,218.1 L1351.3,214.1 L1351.4,216.7 L1351.6,213.1 L1351.7,211.1 L1351.9,218.3 L1352.0,214.5 L1352.2,219.0 L1352.3,213.1 L1352.5,219.7 L1352.6,211.0 L1352.8,214.6 L1352.9,212.5 L1353.1,216.4 L1353.2,217.9 L1353.4,212.7 L1353.5,210.1 L1353.7,214.2 L1353.8,217.4 L1354.0,213.0 L1354.1,216.3 L1354.3,214.5 L1354.4,218.0 L1354.6,210.6 L1354.7,210.4 L1354.9,210.5 L1355.0,212.4 L1355.2,215.3 L1355.3,210.6 L1355.5,208.9 L1355.6,214.7 L1355.8,209.2 L1355.9,214.6 L1356.1,210.5 L1356.2,213.9 L1356.4,211.0 L1356.5,207.7 L1356.7,212.7 L1356.8,209.6 L1357.0,209.6 L1357.1,207.5 L1357.3,209.2 L1357.4,213.7 L1357.6,206.6 L1357.7,220.5 L1357.9,216.0 L1358.0,220.6 L1358.2,215.1 L1358.3,218.7 L1358.5,213.3 L1358.6,217.0 L1358.8,216.8 L1358.9,214.3 L1359.1,221.0 L1359.2,216.0 L1359.4,214.2 L1359.5,219.6 L1359.7,219.3 L1359.8,211.9 L1360.0,217.2 L1360.1,215.9 L1360.3,210.3 L1360.4,215.1 L1360.6,212.9 L1360.7,219.1 L1360.9,213.8 L1361.0,215.1 L1361.2,214.7 L1361.3,222.6 L1361.5,214.5 L1361.6,212.7 L1361.8,212.4 L1361.9,214.2 L1362.1,220.2 L1362.2,214.0 L1362.4,219.3 L1362.5,217.7 L1362.7,218.3 L1362.8,219.3 L1363.0,215.6 L1363.1,220.4 L1363.3,216.9 L1363.4,223.6 L1363.6,217.7 L1363.7,226.5 L1363.9,219.0 L1364.0,219.2 L1364.2,216.1 L1364.3,220.3 L1364.5,220.1 L1364.6,224.0 L1364.8,216.4 L1364.9,220.1 L1365.1,214.9 L1365.2,213.0 L1365.4,214.3 L1365.5,221.1 L1365.7,219.0 L1365.8,213.3 L1366.0,216.0 L1366.1,217.1 L1366.3,217.1 L1366.4,214.7 L1366.6,213.7 L1366.7,219.2 L1366.9,219.3 L1367.0,217.8 L1367.2,220.3 L1367.3,216.8 L1367.5,217.0 L1367.6,222.4 L1367.8,217.5 L1367.9,218.2 L1368.1,217.2 L1368.2,219.1 L1368.4,218.9 L1368.5,215.8 L1368.7,216.5 L1368.8,218.3 L1369.0,220.2 L1369.1,219.7 L1369.3,218.2 L1369.4,219.4 L1369.6,218.5 L1369.7,221.3 L1369.9,213.4 L1370.0,217.7 L1370.2,217.8 L1370.3,221.9 L1370.5,210.1 L1370.6,219.1 L1370.8,221.2 L1370.9,212.4 L1371.1,219.3 L1371.2,218.1 L1371.4,211.4 L1371.5,222.1 L1371.7,217.8 L1371.8,215.0 L1372.0,217.2 L1372.1,215.3 L1372.3,219.0 L1372.4,216.3 L1372.6,222.4 L1372.7,212.8 L1372.9,216.3 L1373.0,218.8 L1373.2,218.5 L1373.3,223.6 L1373.5,222.4 L1373.6,216.0 L1373.8,214.6 L1373.9,225.9 L1374.1,219.2 L1374.2,220.0 L1374.4,220.9 L1374.5,216.5 L1374.7,215.8 L1374.8,219.5 L1375.0,225.5 L1375.1,226.8 L1375.3,217.7 L1375.4,217.6 L1375.6,222.4 L1375.7,217.3 L1375.9,220.1 L1376.0,218.6 L1376.2,216.4 L1376.3,214.6 L1376.5,224.8 L1376.6,220.6 L1376.8,215.1 L1376.9,219.7 L1377.1,218.0 L1377.2,221.1 L1377.4,205.2 L1377.5,221.2 L1377.7,213.6 L1377.8,213.6 L1378.0,218.6 L1378.1,213.3 L1378.3,206.9 L1378.4,215.9 L1378.6,214.3 L1378.7,215.4 L1378.9,217.9 L1379.0,212.0 L1379.2,216.0 L1379.3,218.7 L1379.5,219.2 L1379.6,210.3 L1379.8,213.0 L1379.9,213.8 L1380.1,218.1 L1380.2,214.0 L1380.4,218.1 L1380.5,222.1 L1380.7,212.2 L1380.8,215.5 L1381.0,215.1 L1381.1,216.8 L1381.3,216.1 L1381.4,213.7 L1381.6,213.3 L1381.7,211.5 L1381.9,213.9 L1382.0,208.0 L1382.2,219.5 L1382.3,217.8 L1382.5,218.1 L1382.6,211.2 L1382.8,212.4 L1382.9,212.4 L1383.1,219.4 L1383.2,213.1 L1383.4,212.7 L1383.5,218.6 L1383.7,217.2 L1383.8,213.0 L1384.0,214.7 L1384.1,212.5 L1384.3,212.3 L1384.4,215.6 L1384.6,211.7 L1384.7,215.5 L1384.9,220.9 L1385.0,219.7 L1385.2,218.8 L1385.3,216.7 L1385.5,221.1 L1385.6,216.4 L1385.8,212.5 L1385.9,212.3 L1386.1,218.0 L1386.2,219.3 L1386.4,218.2 L1386.5,212.3 L1386.7,216.7 L1386.8,212.1 L1387.0,215.5 L1387.1,218.9 L1387.3,220.8 L1387.4,218.7 L1387.6,217.3 L1387.7,219.8 L1387.9,213.2 L1388.0,216.9 L1388.2,224.9 L1388.3,215.8 L1388.5,214.0 L1388.6,216.4 L1388.8,217.9 L1388.9,212.8 L1389.1,215.3 L1389.2,219.3 L1389.4,214.1 L1389.5,219.4 L1389.7,211.5 L1389.8,219.2 L1390.0,216.1 L1390.1,221.0 L1390.3,210.9 L1390.4,210.7 L1390.6,215.7 L1390.7,212.7 L1390.9,207.0 L1391.0,212.0 L1391.2,220.8 L1391.3,214.8 L1391.5,213.8 L1391.6,219.5 L1391.8,215.0 L1391.9,211.2 L1392.1,215.8 L1392.2,220.1 L1392.4,216.2 L1392.5,222.5 L1392.7,215.1 L1392.8,215.0 L1393.0,223.0 L1393.1,217.8 L1393.3,211.7 L1393.4,214.1 L1393.6,215.7 L1393.7,217.7 L1393.9,224.8 L1394.0,217.4 L1394.2,215.8 L1394.3,215.9 L1394.5,216.2 L1394.6,213.0 L1394.8,215.8 L1394.9,217.9 L1395.1,221.5 L1395.2,215.3 L1395.4,218.6 L1395.5,213.8 L1395.7,217.8 L1395.8,217.6 L1396.0,224.0 L1396.1,215.4 L1396.3,218.3 L1396.4,215.2 L1396.6,215.7 L1396.7,218.3 L1396.9,218.1 L1397.0,213.7 L1397.2,216.4 L1397.3,216.6 L1397.5,215.1 L1397.6,209.6 L1397.8,220.1 L1397.9,218.4 L1398.1,219.7 L1398.2,209.2 L1398.4,212.9 L1398.5,212.7 L1398.7,220.3 L1398.8,216.5 L1399.0,222.2 L1399.1,223.9 L1399.3,214.6 L1399.4,212.7 L1399.6,216.4 L1399.7,212.6 L1399.9,214.8 L1400.0,217.7 L1400.2,220.2 L1400.3,215.4 L1400.5,219.4 L1400.6,212.4 L1400.8,224.1 L1400.9,214.2 L1401.1,213.5 L1401.2,210.6 L1401.4,212.8 L1401.5,215.8 L1401.7,211.4 L1401.8,215.0 L1402.0,215.3 L1402.1,220.2 L1402.3,217.9 L1402.4,212.0 L1402.6,215.8 L1402.7,214.9 L1402.9,212.0 L1403.0,217.4 L1403.2,217.1 L1403.3,215.8 L1403.5,220.1 L1403.6,219.4 L1403.8,221.7 L1403.9,213.5 L1404.1,217.6 L1404.2,216.5 L1404.4,215.5 L1404.5,216.7 L1404.7,222.4 L1404.8,221.8 L1405.0,216.3 L1405.1,219.0 L1405.3,219.5 L1405.4,215.6 L1405.6,218.3 L1405.7,224.2 L1405.9,224.5 L1406.0,221.0 L1406.2,220.4 L1406.3,223.4 L1406.5,221.5 L1406.6,216.6 L1406.8,224.7 L1406.9,218.5 L1407.1,217.4 L1407.2,217.2 L1407.4,216.7 L1407.5,220.6 L1407.7,221.4 L1407.8,216.9 L1408.0,222.3 L1408.1,222.2 L1408.3,216.0 L1408.4,218.4 L1408.6,221.1 L1408.7,217.0 L1408.9,216.7 L1409.0,223.6 L1409.2,215.9 L1409.3,214.8 L1409.5,211.7 L1409.6,216.8 L1409.8,223.3 L1409.9,214.6 L1410.1,214.6 L1410.2,220.0 L1410.4,214.6 L1410.5,215.6 L1410.7,213.5 L1410.8,216.0 L1411.0,214.9 L1411.1,213.0 L1411.3,216.2 L1411.4,214.7 L1411.6,219.5 L1411.7,215.3 L1411.9,213.0 L1412.0,220.1 L1412.2,217.0 L1412.3,218.9 L1412.5,215.8 L1412.6,221.0 L1412.8,215.1 L1412.9,219.4 L1413.1,219.0 L1413.2,216.7 L1413.4,213.7 L1413.5,217.7 L1413.7,214.0 L1413.8,220.4 L1414.0,220.2 L1414.1,216.4 L1414.3,211.8 L1414.4,219.1 L1414.6,218.8 L1414.7,214.7 L1414.9,219.0 L1415.0,219.2 L1415.2,221.5 L1415.3,218.0 L1415.5,216.0 L1415.6,219.6 L1415.8,216.7 L1415.9,209.3 L1416.1,213.0 L1416.2,217.3 L1416.4,215.3 L1416.5,218.4 L1416.7,217.3 L1416.8,210.8 L1417.0,215.1 L1417.1,215.0 L1417.3,215.1 L1417.4,217.1 L1417.6,218.4 L1417.7,216.3 L1417.9,222.8 L1418.0,221.4 L1418.2,217.4 L1418.3,213.6 L1418.5,218.0 L1418.6,219.4 L1418.8,216.3 L1418.9,218.2 L1419.1,216.3 L1419.2,219.3 L1419.4,219.6 L1419.5,217.3 L1419.7,216.4 L1419.8,216.7 L1420.0,220.9 L1420.1,218.5 L1420.3,216.2 L1420.4,212.1 L1420.6,219.4 L1420.7,220.4 L1420.9,216.2 L1421.0,218.4 L1421.2,219.2 L1421.3,217.1 L1421.5,217.2 L1421.6,218.3 L1421.8,214.5 L1421.9,215.6 L1422.1,221.4 L1422.2,214.0 L1422.4,222.0 L1422.5,217.3 L1422.7,215.1 L1422.8,217.4 L1423.0,216.9 L1423.1,218.7 L1423.3,218.4 L1423.4,217.4 L1423.6,215.8 L1423.7,215.6 L1423.9,220.2 L1424.0,215.4 L1424.2,220.8 L1424.3,218.7 L1424.5,213.1 L1424.6,215.3 L1424.8,216.0 L1424.9,217.7 L1425.1,221.1 L1425.2,218.9 L1425.4,213.6 L1425.5,218.7 L1425.7,219.2 L1425.8,217.4 L1426.0,220.8 L1426.1,214.4 L1426.3,221.4 L1426.4,214.6 L1426.6,221.2 L1426.7,220.3 L1426.9,221.0 L1427.0,218.6 L1427.2,216.0 L1427.3,214.7 L1427.5,216.5 L1427.6,220.3 L1427.8,216.7 L1427.9,227.8 L1428.1,221.3 L1428.2,219.3 L1428.4,215.9 L1428.5,220.4 L1428.7,219.9 L1428.8,221.9 L1429.0,219.3 L1429.1,212.3 L1429.3,220.3 L1429.4,216.6 L1429.6,215.8 L1429.7,218.1 L1429.9,215.9 L1430.0,220.6 L1430.2,223.2 L1430.3,221.1 L1430.5,218.1 L1430.6,220.6 L1430.8,225.1 L1430.9,223.8 L1431.1,221.8 L1431.2,220.3 L1431.4,217.5 L1431.5,223.4 L1431.7,221.0 L1431.8,219.2 L1432.0,220.4 L1432.1,223.3 L1432.3,224.7 L1432.4,217.8 L1432.6,217.9 L1432.7,211.6 L1432.9,221.7 L1433.0,215.7 L1433.2,219.4 L1433.3,218.0 L1433.5,215.7 L1433.6,223.0 L1433.8,219.0 L1433.9,213.9 L1434.1,215.1 L1434.2,221.2 L1434.4,215.1 L1434.5,224.4 L1434.7,217.3 L1434.8,222.8 L1435.0,217.5 L1435.1,218.3 L1435.3,216.6 L1435.4,223.7 L1435.6,215.9 L1435.7,215.7 L1435.9,221.4 L1436.0,216.2 L1436.2,217.4 L1436.3,211.8 L1436.5,217.0 L1436.6,217.1 L1436.8,220.7 L1436.9,227.4 L1437.1,217.8 L1437.2,220.7 L1437.4,222.1 L1437.5,223.9 L1437.7,220.4 L1437.8,212.8 L1438.0,216.5 L1438.1,220.1 L1438.3,217.4 L1438.4,215.8 L1438.6,213.6 L1438.7,213.1 L1438.9,222.5 L1439.0,218.4 L1439.2,214.6 L1439.3,222.8 L1439.5,219.5 L1439.6,223.7 L1439.8,212.6 L1439.9,217.4 L1440.1,220.0 L1440.2,220.6 L1440.4,222.8 L1440.5,216.1 L1440.7,216.3 L1440.8,220.6 L1441.0,216.5 L1441.1,219.6 L1441.3,217.0 L1441.4,219.3 L1441.6,215.6 L1441.7,219.7 L1441.9,216.6 L1442.0,220.6 L1442.2,218.0 L1442.3,217.9 L1442.5,223.8 L1442.6,221.0 L1442.8,220.4 L1442.9,219.6 L1443.1,216.7 L1443.2,217.6 L1443.4,219.0 L1443.5,219.4 L1443.7,224.4 L1443.8,218.1 L1444.0,212.5 L1444.1,220.1 L1444.3,215.3 L1444.4,216.7 L1444.6,218.3 L1444.7,212.5 L1444.9,217.7 L1445.0,222.5 L1445.2,223.6 L1445.3,213.9 L1445.5,216.7 L1445.6,212.8 L1445.8,212.0 L1445.9,221.5 L1446.1,221.0 L1446.2,214.8 L1446.4,220.1 L1446.5,213.4 L1446.7,211.1 L1446.8,226.3 L1447.0,216.3 L1447.1,219.3 L1447.3,217.4 L1447.4,221.7 L1447.6,216.1 L1447.7,221.8 L1447.9,217.2 L1448.0,215.9 L1448.2,215.6 L1448.3,215.0 L1448.5,216.9 L1448.6,211.7 L1448.8,210.5 L1448.9,215.5 L1449.1,220.7 L1449.2,218.7 L1449.4,215.1 L1449.5,215.0 L1449.7,220.4 L1449.8,216.5 L1450.0,216.4 L1450.1,214.9 L1450.3,219.2 L1450.4,221.2 L1450.6,218.6 L1450.7,212.7 L1450.9,215.8 L1451.0,215.4 L1451.2,215.5 L1451.3,213.8 L1451.5,217.8 L1451.6,217.3 L1451.8,220.5 L1451.9,223.5 L1452.1,215.7 L1452.2,219.1 L1452.4,217.7 L1452.5,221.6 L1452.7,220.6 L1452.8,217.0 L1453.0,216.3 L1453.1,221.8 L1453.3,216.8 L1453.4,216.1 L1453.6,218.0 L1453.7,217.7 L1453.9,215.7 L1454.0,225.1 L1454.2,219.1 L1454.3,216.6 L1454.5,221.4 L1454.6,205.1 L1454.8,215.3 L1454.9,217.3 L1455.1,218.7 L1455.2,219.4 L1455.4,216.9 L1455.5,216.2 L1455.7,221.5 L1455.8,218.1 L1456.0,215.7 L1456.1,216.5 L1456.3,223.0 L1456.4,217.3 L1456.6,219.8 L1456.7,219.3 L1456.9,226.0 L1457.0,217.3 L1457.2,218.8 L1457.3,216.3 L1457.5,222.5 L1457.6,220.6 L1457.8,219.2 L1457.9,215.7 L1458.1,217.5 L1458.2,221.8 L1458.4,219.6 L1458.5,220.4 L1458.7,224.0 L1458.8,221.3 L1459.0,221.0 L1459.1,215.5 L1459.3,213.0 L1459.4,215.7 L1459.6,218.1 L1459.7,219.1 L1459.9,215.8 L1460.0,214.8 L1460.2,214.0 L1460.3,217.2 L1460.5,213.7 L1460.6,222.3 L1460.8,221.0 L1460.9,212.0 L1461.1,214.5 L1461.2,220.0 L1461.4,220.2 L1461.5,222.0 L1461.7,218.4 L1461.8,216.2 L1462.0,218.0 L1462.1,221.7 L1462.3,219.4 L1462.4,218.2 L1462.6,217.1 L1462.7,216.2 L1462.9,219.7 L1463.0,217.2 L1463.2,221.0 L1463.3,217.1 L1463.5,221.1 L1463.6,216.1 L1463.8,219.9 L1463.9,221.7 L1464.1,218.2 L1464.2,215.7 L1464.4,217.3 L1464.5,219.5 L1464.7,219.5 L1464.8,220.4 L1465.0,222.7 L1465.1,217.8 L1465.3,219.9 L1465.4,216.2 L1465.6,212.9 L1465.7,216.2 L1465.9,216.5 L1466.0,217.3 L1466.2,218.9 L1466.3,220.1 L1466.5,218.8 L1466.6,212.4 L1466.8,215.9 L1466.9,218.2 L1467.1,216.6 L1467.2,216.5 L1467.4,219.9 L1467.5,222.6 L1467.7,223.6 L1467.8,216.6 L1468.0,217.9 L1468.1,220.6 L1468.3,222.0 L1468.4,223.4 L1468.6,215.3 L1468.7,222.8 L1468.9,220.7 L1469.0,222.3 L1469.2,218.8 L1469.3,222.4 L1469.5,219.0 L1469.6,213.1 L1469.8,223.8 L1469.9,220.6 L1470.1,221.9 L1470.2,219.1 L1470.4,215.6 L1470.5,220.9 L1470.7,220.2 L1470.8,220.9 L1471.0,209.2 L1471.1,218.5 L1471.3,204.0 L1471.4,218.4 L1471.6,217.4 L1471.7,219.9 L1471.9,221.5 L1472.0,221.0 L1472.2,216.9 L1472.3,217.9 L1472.5,212.4 L1472.6,215.1 L1472.8,214.8 L1472.9,212.8 L1473.1,211.4 L1473.2,220.6 L1473.4,219.1 L1473.5,215.0 L1473.7,225.4 L1473.8,218.8 L1474.0,219.9 L1474.1,212.3 L1474.3,221.0 L1474.4,210.5 L1474.6,215.4 L1474.7,214.8 L1474.9,214.1 L1475.0,219.7 L1475.2,218.4 L1475.3,220.9 L1475.5,216.7 L1475.6,215.0 L1475.8,215.1 L1475.9,214.7 L1476.1,229.7 L1476.2,215.5 L1476.4,216.2 L1476.5,226.9 L1476.7,218.8 L1476.8,212.6 L1477.0,213.9" fill="none" stroke="#f00" stroke-width="1.2" stroke-linejoin="round"/>
<g fill="#000"><path d="M983.00,128.60 L993.20,138.60 L1003.40,128.60 L1003.60,139.72 L993.20,149.00 L982.80,139.72 Z"/><path d="M1017.90,160.00 H1037.90 L1027.90,180.00 Z"/><path d="M1048.30,161.20 L1058.05,171.20 L1048.30,181.20 L1038.55,171.20 Z"/><path d="M1071.90,125.60 H1091.90 L1081.90,145.60 Z"/><path d="M1101.00,151.88 C1099.96,148.24 1097.88,147.20 1095.80,147.20 C1092.16,147.20 1090.60,150.32 1090.60,152.92 C1090.60,158.12 1096.84,162.80 1101.00,168.00 C1105.16,162.80 1111.40,158.12 1111.40,152.92 C1111.40,150.32 1109.84,147.20 1106.20,147.20 C1104.12,147.20 1102.04,148.24 1101.00,151.88 Z"/><path d="M1109.40,154.30 L1119.60,164.30 L1129.80,154.30 L1130.00,165.42 L1119.60,174.70 L1109.20,165.42 Z"/><path d="M1119.60,172.68 C1118.56,169.04 1116.48,168.00 1114.40,168.00 C1110.76,168.00 1109.20,171.12 1109.20,173.72 C1109.20,178.92 1115.44,183.60 1119.60,188.80 C1123.76,183.60 1130.00,178.92 1130.00,173.72 C1130.00,171.12 1128.44,168.00 1124.80,168.00 C1122.72,168.00 1120.64,169.04 1119.60,172.68 Z"/><path d="M1124.00,147.80 H1144.00 L1134.00,167.80 Z"/><path d="M1160.70,182.19 C1159.68,178.62 1157.64,177.60 1155.60,177.60 C1152.03,177.60 1150.50,180.66 1150.50,183.21 C1150.50,188.31 1156.62,192.90 1160.70,198.00 C1164.78,192.90 1170.90,188.31 1170.90,183.21 C1170.90,180.66 1169.37,177.60 1165.80,177.60 C1163.76,177.60 1161.72,178.62 1160.70,182.19 Z"/><path d="M1189.60,184.34 C1188.57,180.73 1186.51,179.70 1184.45,179.70 C1180.84,179.70 1179.30,182.79 1179.30,185.37 C1179.30,190.51 1185.48,195.15 1189.60,200.30 C1193.72,195.15 1199.90,190.51 1199.90,185.37 C1199.90,182.79 1198.36,179.70 1194.75,179.70 C1192.69,179.70 1190.63,180.73 1189.60,184.34 Z"/><path d="M1214.70,180.40 H1234.70 L1224.70,200.40 Z"/><path d="M1222.20,180.40 H1242.20 L1232.20,200.40 Z"/><path d="M1256.80,166.00 L1266.55,176.00 L1256.80,186.00 L1247.05,176.00 Z"/><path d="M1314.25,64.55 H1330.75 L1322.50,81.05 Z"/><path d="M1322.80,98.66 C1321.97,95.78 1320.33,94.95 1318.67,94.95 C1315.79,94.95 1314.55,97.42 1314.55,99.49 C1314.55,103.61 1319.50,107.33 1322.80,111.45 C1326.10,107.33 1331.05,103.61 1331.05,99.49 C1331.05,97.42 1329.81,94.95 1326.92,94.95 C1325.27,94.95 1323.62,95.78 1322.80,98.66 Z"/><path d="M1322.80,123.00 L1331.05,131.00 L1322.80,139.00 L1314.55,131.00 Z"/><path d="M1314.55,152.25 L1322.80,160.34 L1331.05,152.25 L1331.21,161.24 L1322.80,168.75 L1314.38,161.24 Z"/></g>
<rect x="1334.60" y="73.20" width="13.2" height="2.7"/>
<text x="1349.73" y="83.10" font-size="26">CaCO</text>
<text x="1420.51" y="89.10" font-size="18.5">3</text>
<rect x="1334.60" y="103.00" width="13.2" height="2.7"/>
<text x="1349.73" y="112.90" font-size="26">Ca</text>
<text x="1381.51" y="118.90" font-size="18.5">2</text>
<text x="1390.76" y="112.90" font-size="26">SiO</text>
<text x="1432.66" y="118.90" font-size="18.5">4</text>
<rect x="1334.60" y="131.60" width="13.2" height="2.7"/>
<text x="1349.73" y="141.50" font-size="26">CaO-Al</text>
<text x="1436.39" y="147.50" font-size="18.5">2</text>
<text x="1445.64" y="141.50" font-size="26">O</text>
<text x="1465.86" y="147.50" font-size="18.5">3</text>
<rect x="1334.60" y="160.60" width="13.2" height="2.7"/>
<text x="1349.73" y="170.50" font-size="26">Ca(OH)</text>
<text x="1439.27" y="176.50" font-size="18.5">2</text>
<path d="M929.7,52.5 H1480.5 V481.9 H929.7 Z" fill="none" stroke="#000" stroke-width="7.5" stroke-linejoin="round"/>
<text x="1285.18" y="194.20" font-size="26" textLength="37.70" lengthAdjust="spacingAndGlyphs" fill="#000">B-2</text>
<text x="1284.95" y="419.60" font-size="26" textLength="39.54" lengthAdjust="spacingAndGlyphs" fill="#000">A-2</text>
<text x="0.92" y="580.10" font-size="67" textLength="77.87" lengthAdjust="spacingAndGlyphs" fill="#000">(c)</text>
<path d="M180.5,972.88 H187.6" stroke="#000" stroke-width="7.6" stroke-linecap="round"/>
<path d="M180.5,901.47 H187.6" stroke="#000" stroke-width="7.6" stroke-linecap="round"/>
<path d="M180.5,830.05 H187.6" stroke="#000" stroke-width="7.6" stroke-linecap="round"/>
<path d="M180.5,758.63 H187.6" stroke="#000" stroke-width="7.6" stroke-linecap="round"/>
<path d="M180.5,687.22 H187.6" stroke="#000" stroke-width="7.6" stroke-linecap="round"/>
<text x="129.54" y="1053.90" font-size="33" textLength="41.48" lengthAdjust="spacingAndGlyphs" fill="#000">0.4</text>
<text x="129.52" y="982.48" font-size="33" textLength="42.12" lengthAdjust="spacingAndGlyphs" fill="#000">0.5</text>
<text x="129.52" y="911.07" font-size="33" textLength="41.86" lengthAdjust="spacingAndGlyphs" fill="#000">0.6</text>
<text x="129.53" y="839.65" font-size="33" textLength="41.68" lengthAdjust="spacingAndGlyphs" fill="#000">0.7</text>
<text x="129.52" y="768.23" font-size="33" textLength="42.00" lengthAdjust="spacingAndGlyphs" fill="#000">0.8</text>
<text x="129.52" y="696.82" font-size="33" textLength="42.10" lengthAdjust="spacingAndGlyphs" fill="#000">0.9</text>
<text x="128.00" y="625.40" font-size="33" textLength="43.73" lengthAdjust="spacingAndGlyphs" fill="#000">1.0</text>
<path d="M237.70,1044.3 V1038" stroke="#000" stroke-width="7.6" stroke-linecap="round"/>
<path d="M351.77,1044.3 V1038" stroke="#000" stroke-width="7.6" stroke-linecap="round"/>
<path d="M465.84,1044.3 V1038" stroke="#000" stroke-width="7.6" stroke-linecap="round"/>
<path d="M579.91,1044.3 V1038" stroke="#000" stroke-width="7.6" stroke-linecap="round"/>
<path d="M693.98,1044.3 V1038" stroke="#000" stroke-width="7.6" stroke-linecap="round"/>
<text x="227.98" y="1082.00" font-size="33" fill="#000">1</text>
<text x="340.47" y="1082.00" font-size="33" fill="#000">2</text>
<text x="451.89" y="1082.00" font-size="33" fill="#000">3</text>
<text x="572.53" y="1082.00" font-size="33" fill="#000">4</text>
<text x="684.49" y="1082.00" font-size="33" fill="#000">5</text>
<text x="347.51" y="1138.50" font-size="63" textLength="219.15" lengthAdjust="spacingAndGlyphs" fill="#000">SS/wt%</text>
<text transform="translate(103.90,1022.90) rotate(-90)" x="-1.08" y="0" font-size="62" textLength="342.03" lengthAdjust="spacingAndGlyphs">Density/g/cm</text>
<text transform="translate(83.8,679.5) rotate(-90)" x="0" y="0" font-size="40">3</text>
<path d="M237.70,760.00 L351.77,797.40 L465.84,851.60 L579.91,941.40 L693.98,977.40" fill="none" stroke="#000" stroke-width="4.3" stroke-linejoin="round"/>
<path d="M237.70,746.00 V775.00 M230.20,746.00 H245.20 M230.20,775.00 H245.20" fill="none" stroke="#000" stroke-width="3.6" stroke-linecap="round"/>
<path d="M351.77,789.40 V805.40 M344.27,789.40 H359.27 M344.27,805.40 H359.27" fill="none" stroke="#000" stroke-width="3.6" stroke-linecap="round"/>
<path d="M465.84,845.60 V858.20 M458.34,845.60 H473.34 M458.34,858.20 H473.34" fill="none" stroke="#000" stroke-width="3.6" stroke-linecap="round"/>
<path d="M579.91,924.70 V959.00 M572.41,924.70 H587.41 M572.41,959.00 H587.41" fill="none" stroke="#000" stroke-width="3.6" stroke-linecap="round"/>
<path d="M693.98,954.60 V1000.70 M686.48,954.60 H701.48 M686.48,1000.70 H701.48" fill="none" stroke="#000" stroke-width="3.6" stroke-linecap="round"/>
<rect x="231.95" y="754.25" width="11.5" height="11.5" fill="#000"/>
<rect x="346.02" y="791.65" width="11.5" height="11.5" fill="#000"/>
<rect x="460.09" y="845.85" width="11.5" height="11.5" fill="#000"/>
<rect x="574.16" y="935.65" width="11.5" height="11.5" fill="#000"/>
<rect x="688.23" y="971.65" width="11.5" height="11.5" fill="#000"/>
<path d="M237.70,740.00 L351.77,764.70 L465.84,824.30 L579.91,854.80 L693.98,908.50" fill="none" stroke="#f00" stroke-width="4.3" stroke-linejoin="round"/>
<path d="M237.70,735.50 V744.50 M230.20,735.50 H245.20 M230.20,744.50 H245.20" fill="none" stroke="#f00" stroke-width="3.6" stroke-linecap="round"/>
<path d="M351.77,756.70 V772.70 M344.27,756.70 H359.27 M344.27,772.70 H359.27" fill="none" stroke="#f00" stroke-width="3.6" stroke-linecap="round"/>
<path d="M465.84,814.60 V835.10 M458.34,814.60 H473.34 M458.34,835.10 H473.34" fill="none" stroke="#f00" stroke-width="3.6" stroke-linecap="round"/>
<path d="M579.91,846.30 V863.30 M572.41,846.30 H587.41 M572.41,863.30 H587.41" fill="none" stroke="#f00" stroke-width="3.6" stroke-linecap="round"/>
<path d="M693.98,896.50 V922.50 M686.48,896.50 H701.48 M686.48,922.50 H701.48" fill="none" stroke="#f00" stroke-width="3.6" stroke-linecap="round"/>
<circle cx="237.70" cy="740.00" r="6.4" fill="#f00"/>
<circle cx="351.77" cy="764.70" r="6.4" fill="#f00"/>
<circle cx="465.84" cy="824.30" r="6.4" fill="#f00"/>
<circle cx="579.91" cy="854.80" r="6.4" fill="#f00"/>
<circle cx="693.98" cy="908.50" r="6.4" fill="#f00"/>
<path d="M237.70,645.20 L351.77,656.90 L465.84,757.60 L579.91,857.20 L693.98,907.50" fill="none" stroke="#00f" stroke-width="4.3" stroke-linejoin="round"/>
<path d="M237.70,623.60 V640.70 M237.70,653.70 V668.30 M230.20,623.60 H245.20 M230.20,668.30 H245.20" fill="none" stroke="#00f" stroke-width="3.6" stroke-linecap="round"/>
<path d="M351.77,632.90 V652.40 M351.77,665.40 V681.40 M344.27,632.90 H359.27 M344.27,681.40 H359.27" fill="none" stroke="#00f" stroke-width="3.6" stroke-linecap="round"/>
<path d="M465.84,741.30 V753.10 M465.84,766.10 V773.50 M458.34,741.30 H473.34 M458.34,773.50 H473.34" fill="none" stroke="#00f" stroke-width="3.6" stroke-linecap="round"/>
<path d="M579.91,844.90 V852.70 M579.91,865.70 V874.40 M572.41,844.90 H587.41 M572.41,874.40 H587.41" fill="none" stroke="#00f" stroke-width="3.6" stroke-linecap="round"/>
<path d="M693.98,890.30 V903.00 M693.98,916.00 V925.90 M686.48,890.30 H701.48 M686.48,925.90 H701.48" fill="none" stroke="#00f" stroke-width="3.6" stroke-linecap="round"/>
<path d="M237.70,639.95 L244.70,650.45 H230.70 Z" fill="#00f"/>
<path d="M351.77,651.65 L358.77,662.15 H344.77 Z" fill="#00f"/>
<path d="M465.84,752.35 L472.84,762.85 H458.84 Z" fill="#00f"/>
<path d="M579.91,851.95 L586.91,862.45 H572.91 Z" fill="#00f"/>
<path d="M693.98,902.25 L700.98,912.75 H686.98 Z" fill="#00f"/>
<path d="M180.5,615.8 H751.7 V1044.3 H180.5 Z" fill="none" stroke="#000" stroke-width="7.5" stroke-linejoin="round"/>
<path d="M585.3,661.2 H626.5" stroke="#000" stroke-width="4.4" stroke-linecap="round"/>
<rect x="600.65" y="655.95" width="10.5" height="10.5" fill="#000"/>
<text x="633.00" y="667.20" font-size="25" textLength="34.59" lengthAdjust="spacingAndGlyphs" fill="#000">3 d</text>
<path d="M585.3,693.4 H626.5" stroke="#f00" stroke-width="4.4" stroke-linecap="round"/>
<circle cx="605.90" cy="693.40" r="6.1" fill="#f00"/>
<text x="632.46" y="699.40" font-size="25" textLength="35.14" lengthAdjust="spacingAndGlyphs" fill="#000">7 d</text>
<path d="M585.3,725.4 H626.5" stroke="#00f" stroke-width="4.4" stroke-linecap="round"/>
<path d="M605.90,718.20 L612.90,729.60 H598.90 Z" fill="#00f"/>
<text x="632.89" y="731.30" font-size="25" textLength="47.81" lengthAdjust="spacingAndGlyphs" fill="#000">28 d</text>
<text x="777.52" y="580.10" font-size="67" textLength="85.77" lengthAdjust="spacingAndGlyphs" fill="#000">(d)</text>
<path d="M923.9,965.83 H931.2" stroke="#000" stroke-width="7.6" stroke-linecap="round"/>
<path d="M923.9,896.87 H931.2" stroke="#000" stroke-width="7.6" stroke-linecap="round"/>
<path d="M923.9,827.90 H931.2" stroke="#000" stroke-width="7.6" stroke-linecap="round"/>
<path d="M923.9,758.93 H931.2" stroke="#000" stroke-width="7.6" stroke-linecap="round"/>
<path d="M923.9,689.97 H931.2" stroke="#000" stroke-width="7.6" stroke-linecap="round"/>
<text x="874.97" y="1044.40" font-size="33" textLength="40.33" lengthAdjust="spacingAndGlyphs" fill="#000">0.4</text>
<text x="874.95" y="975.43" font-size="33" textLength="40.95" lengthAdjust="spacingAndGlyphs" fill="#000">0.5</text>
<text x="874.96" y="906.47" font-size="33" textLength="40.69" lengthAdjust="spacingAndGlyphs" fill="#000">0.6</text>
<text x="874.97" y="837.50" font-size="33" textLength="40.53" lengthAdjust="spacingAndGlyphs" fill="#000">0.7</text>
<text x="874.96" y="768.53" font-size="33" textLength="40.83" lengthAdjust="spacingAndGlyphs" fill="#000">0.8</text>
<text x="874.95" y="699.57" font-size="33" textLength="40.93" lengthAdjust="spacingAndGlyphs" fill="#000">0.9</text>
<text x="873.48" y="630.60" font-size="33" textLength="42.52" lengthAdjust="spacingAndGlyphs" fill="#000">1.0</text>
<path d="M979.80,1034.8 V1027.8" stroke="#000" stroke-width="7.6" stroke-linecap="round"/>
<path d="M1092.05,1034.8 V1027.8" stroke="#000" stroke-width="7.6" stroke-linecap="round"/>
<path d="M1204.30,1034.8 V1027.8" stroke="#000" stroke-width="7.6" stroke-linecap="round"/>
<path d="M1316.55,1034.8 V1027.8" stroke="#000" stroke-width="7.6" stroke-linecap="round"/>
<path d="M1428.80,1034.8 V1027.8" stroke="#000" stroke-width="7.6" stroke-linecap="round"/>
<text x="966.78" y="1069.00" font-size="33" fill="#000">1</text>
<text x="1082.67" y="1069.00" font-size="33" fill="#000">2</text>
<text x="1196.69" y="1069.00" font-size="33" fill="#000">3</text>
<text x="1303.73" y="1069.00" font-size="33" fill="#000">4</text>
<text x="1419.49" y="1069.00" font-size="33" fill="#000">5</text>
<text x="1090.24" y="1138.60" font-size="63" textLength="217.58" lengthAdjust="spacingAndGlyphs" fill="#000">SS/wt%</text>
<text transform="translate(849.00,1004.80) rotate(-90)" x="-1.08" y="0" font-size="62" textLength="330.26" lengthAdjust="spacingAndGlyphs">Porosity(%)</text>
<path d="M979.80,821.20 L1092.05,819.50 L1204.30,794.20 L1316.55,781.40 L1428.80,779.10" fill="none" stroke="#000" stroke-width="4" stroke-linejoin="round"/>
<rect x="974.55" y="815.95" width="10.5" height="10.5" fill="#000"/>
<rect x="1086.80" y="814.25" width="10.5" height="10.5" fill="#000"/>
<rect x="1199.05" y="788.95" width="10.5" height="10.5" fill="#000"/>
<rect x="1311.30" y="776.15" width="10.5" height="10.5" fill="#000"/>
<rect x="1423.55" y="773.85" width="10.5" height="10.5" fill="#000"/>
<path d="M979.80,887.90 L1092.05,851.00 L1204.30,823.20 L1316.55,800.00 L1428.80,793.40" fill="none" stroke="#f00" stroke-width="4" stroke-linejoin="round"/>
<circle cx="979.80" cy="887.90" r="6.2" fill="#f00"/>
<circle cx="1092.05" cy="851.00" r="6.2" fill="#f00"/>
<circle cx="1204.30" cy="823.20" r="6.2" fill="#f00"/>
<circle cx="1316.55" cy="800.00" r="6.2" fill="#f00"/>
<circle cx="1428.80" cy="793.40" r="6.2" fill="#f00"/>
<path d="M979.80,891.50 L1092.05,855.50 L1204.30,829.00 L1316.55,821.30 L1428.80,802.00" fill="none" stroke="#00f" stroke-width="4" stroke-linejoin="round"/>
<path d="M979.80,885.50 L986.55,897.50 H973.05 Z" fill="#00f"/>
<path d="M1092.05,849.50 L1098.80,861.50 H1085.30 Z" fill="#00f"/>
<path d="M1204.30,823.00 L1211.05,835.00 H1197.55 Z" fill="#00f"/>
<path d="M1316.55,815.30 L1323.30,827.30 H1309.80 Z" fill="#00f"/>
<path d="M1428.80,796.00 L1435.55,808.00 H1422.05 Z" fill="#00f"/>
<path d="M923.9,621.0 H1484.8 V1034.8 H923.9 Z" fill="none" stroke="#000" stroke-width="7.5" stroke-linejoin="round"/>
<path d="M1345.3,648.2 H1401.6" stroke="#000" stroke-width="4.4" stroke-linecap="round"/>
<rect x="1368.15" y="642.95" width="10.5" height="10.5" fill="#000"/>
<text x="1408.84" y="657.10" font-size="25.5" textLength="33.45" lengthAdjust="spacingAndGlyphs" fill="#000">3 d</text>
<path d="M1345.3,680.9 H1401.6" stroke="#f00" stroke-width="4.4" stroke-linecap="round"/>
<circle cx="1373.40" cy="680.90" r="6.1" fill="#f00"/>
<text x="1408.31" y="689.30" font-size="25.5" textLength="33.98" lengthAdjust="spacingAndGlyphs" fill="#000">7 d</text>
<path d="M1345.3,712.6 H1401.6" stroke="#00f" stroke-width="4.4" stroke-linecap="round"/>
<path d="M1373.40,704.80 L1380.40,717.40 H1366.40 Z" fill="#00f"/>
<text x="1408.73" y="721.60" font-size="25.5" textLength="45.95" lengthAdjust="spacingAndGlyphs" fill="#000">28 d</text>
</svg></body></html>
